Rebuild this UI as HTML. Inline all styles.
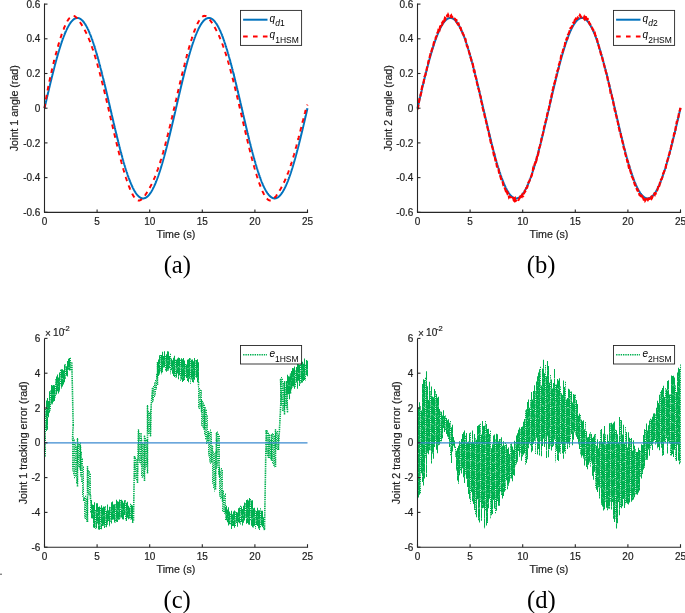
<!DOCTYPE html>
<html><head><meta charset="utf-8"><style>
html,body{margin:0;padding:0;background:#fff;width:685px;height:613px;overflow:hidden}
</style></head><body>
<svg width="685" height="613" viewBox="0 0 685 613" style="position:absolute;left:0;top:0;will-change:transform">
<style>
.tk{font-family:'Liberation Sans',sans-serif;font-size:10px;fill:#1e1e1e;stroke:#1e1e1e;stroke-width:0.2px}
.lb{font-family:'Liberation Sans',sans-serif;font-size:10.7px;fill:#1e1e1e;stroke:#1e1e1e;stroke-width:0.2px}
.sl{font-family:'Liberation Serif',serif;font-size:24.6px;fill:#000}
.lg{font-family:'Liberation Sans',sans-serif;font-size:10px;fill:#000}
.lgi{font-style:italic}
.sub{font-size:8.5px}
</style>
<path d="M44.50,108.20 44.61,107.75 44.71,107.29 44.82,106.84 44.92,106.39 45.03,105.93 45.13,105.48 45.24,105.02 45.34,104.57 45.45,104.12 45.55,103.67 45.66,103.21 45.76,102.76 45.87,102.31 45.97,101.85 46.08,101.40 46.18,100.95 46.29,100.50 46.39,100.04 46.50,99.59 46.60,99.14 46.71,98.69 46.82,98.24 46.92,97.79 47.03,97.34 47.13,96.89 47.24,96.44 47.34,95.99 47.45,95.54 47.55,95.09 47.66,94.64 47.76,94.19 47.87,93.74 47.97,93.30 48.08,92.85 48.18,92.40 48.29,91.96 48.39,91.51 48.50,91.07 48.60,90.62 48.71,90.18 48.81,89.73 48.92,89.29 49.03,88.84 49.13,88.40 49.24,87.96 49.34,87.52 49.45,87.08 49.55,86.63 49.66,86.19 49.76,85.75 49.87,85.32 49.97,84.88 50.08,84.44 50.18,84.00 50.29,83.56 50.39,83.13 50.50,82.69 50.60,82.26 50.71,81.82 50.81,81.39 50.92,80.96 51.03,80.53 51.13,80.09 51.24,79.66 51.34,79.23 51.45,78.80 51.55,78.38 51.66,77.95 51.76,77.52 51.87,77.09 51.97,76.67 52.08,76.24 52.18,75.82 52.29,75.40 52.39,74.98 52.50,74.55 52.60,74.13 52.71,73.71 52.81,73.29 52.92,72.88 53.02,72.46 53.13,72.04 53.24,71.63 53.34,71.21 53.45,70.80 53.55,70.39 53.66,69.98 53.76,69.57 53.87,69.16 53.97,68.75 54.08,68.34 54.18,67.93 54.29,67.53 54.39,67.12 54.50,66.72 54.60,66.32 54.71,65.92 54.81,65.52 54.92,65.12 55.02,64.72 55.13,64.32 55.23,63.93 55.34,63.53 55.45,63.14 55.55,62.75 55.66,62.36 55.76,61.97 55.87,61.58 55.97,61.19 56.08,60.80 56.18,60.42 56.29,60.03 56.39,59.65 56.50,59.27 56.60,58.89 56.71,58.51 56.81,58.13 56.92,57.75 57.02,57.38 57.13,57.00 57.23,56.63 57.34,56.26 57.44,55.89 57.55,55.52 57.66,55.15 57.76,54.79 57.87,54.42 57.97,54.06 58.08,53.69 58.18,53.33 58.29,52.97 58.39,52.62 58.50,52.26 58.60,51.90 58.71,51.55 58.81,51.20 58.92,50.85 59.02,50.50 59.13,50.15 59.23,49.80 59.34,49.46 59.44,49.11 59.55,48.77 59.65,48.43 59.76,48.09 59.87,47.76 59.97,47.42 60.08,47.08 60.18,46.75 60.29,46.42 60.39,46.09 60.50,45.76 60.60,45.44 60.71,45.11 60.81,44.79 60.92,44.47 61.02,44.14 61.13,43.83 61.23,43.51 61.34,43.19 61.44,42.88 61.55,42.57 61.65,42.26 61.76,41.95 61.86,41.64 61.97,41.34 62.08,41.03 62.18,40.73 62.29,40.43 62.39,40.13 62.50,39.83 62.60,39.54 62.71,39.25 62.81,38.95 62.92,38.66 63.02,38.38 63.13,38.09 63.23,37.80 63.34,37.52 63.44,37.24 63.55,36.96 63.65,36.68 63.76,36.41 63.86,36.13 63.97,35.86 64.08,35.59 64.18,35.32 64.29,35.06 64.39,34.79 64.50,34.53 64.60,34.27 64.71,34.01 64.81,33.75 64.92,33.50 65.02,33.24 65.13,32.99 65.23,32.74 65.34,32.50 65.44,32.25 65.55,32.01 65.65,31.76 65.76,31.52 65.86,31.29 65.97,31.05 66.07,30.81 66.18,30.58 66.29,30.35 66.39,30.12 66.50,29.90 66.60,29.67 66.71,29.45 66.81,29.23 66.92,29.01 67.02,28.80 67.13,28.58 67.23,28.37 67.34,28.16 67.44,27.95 67.55,27.74 67.65,27.54 67.76,27.34 67.86,27.14 67.97,26.94 68.07,26.74 68.18,26.55 68.28,26.36 68.39,26.17 68.50,25.98 68.60,25.79 68.71,25.61 68.81,25.43 68.92,25.25 69.02,25.07 69.13,24.90 69.23,24.72 69.34,24.55 69.44,24.38 69.55,24.22 69.65,24.05 69.76,23.89 69.86,23.73 69.97,23.57 70.07,23.41 70.18,23.26 70.28,23.11 70.39,22.96 70.49,22.81 70.60,22.67 70.71,22.52 70.81,22.38 70.92,22.24 71.02,22.11 71.13,21.97 71.23,21.84 71.34,21.71 71.44,21.58 71.55,21.46 71.65,21.33 71.76,21.21 71.86,21.09 71.97,20.97 72.07,20.86 72.18,20.75 72.28,20.64 72.39,20.53 72.49,20.42 72.60,20.32 72.70,20.22 72.81,20.12 72.92,20.02 73.02,19.93 73.13,19.83 73.23,19.74 73.34,19.65 73.44,19.57 73.55,19.49 73.65,19.40 73.76,19.32 73.86,19.25 73.97,19.17 74.07,19.10 74.18,19.03 74.28,18.96 74.39,18.90 74.49,18.83 74.60,18.77 74.70,18.71 74.81,18.66 74.91,18.60 75.02,18.55 75.13,18.50 75.23,18.45 75.34,18.41 75.44,18.36 75.55,18.32 75.65,18.29 75.76,18.25 75.86,18.22 75.97,18.18 76.07,18.15 76.18,18.13 76.28,18.10 76.39,18.08 76.49,18.06 76.60,18.04 76.70,18.03 76.81,18.01 76.91,18.00 77.02,17.99 77.13,17.99 77.23,17.98 77.34,17.98 77.44,17.98 77.55,17.98 77.65,17.99 77.76,17.99 77.86,18.00 77.97,18.02 78.07,18.03 78.18,18.05 78.28,18.06 78.39,18.09 78.49,18.11 78.60,18.13 78.70,18.16 78.81,18.19 78.91,18.22 79.02,18.26 79.12,18.30 79.23,18.33 79.34,18.38 79.44,18.42 79.55,18.46 79.65,18.51 79.76,18.56 79.86,18.62 79.97,18.67 80.07,18.73 80.18,18.79 80.28,18.85 80.39,18.91 80.49,18.98 80.60,19.05 80.70,19.12 80.81,19.19 80.91,19.27 81.02,19.34 81.12,19.42 81.23,19.51 81.33,19.59 81.44,19.68 81.55,19.77 81.65,19.86 81.76,19.95 81.86,20.04 81.97,20.14 82.07,20.24 82.18,20.34 82.28,20.45 82.39,20.55 82.49,20.66 82.60,20.77 82.70,20.89 82.81,21.00 82.91,21.12 83.02,21.24 83.12,21.36 83.23,21.49 83.33,21.61 83.44,21.74 83.54,21.87 83.65,22.00 83.76,22.14 83.86,22.28 83.97,22.42 84.07,22.56 84.18,22.70 84.28,22.85 84.39,23.00 84.49,23.15 84.60,23.30 84.70,23.45 84.81,23.61 84.91,23.77 85.02,23.93 85.12,24.09 85.23,24.26 85.33,24.43 85.44,24.59 85.54,24.77 85.65,24.94 85.75,25.12 85.86,25.29 85.97,25.47 86.07,25.66 86.18,25.84 86.28,26.03 86.39,26.21 86.49,26.40 86.60,26.60 86.70,26.79 86.81,26.99 86.91,27.19 87.02,27.39 87.12,27.59 87.23,27.80 87.33,28.00 87.44,28.21 87.54,28.42 87.65,28.63 87.75,28.85 87.86,29.07 87.96,29.29 88.07,29.51 88.18,29.73 88.28,29.95 88.39,30.18 88.49,30.41 88.60,30.64 88.70,30.87 88.81,31.11 88.91,31.34 89.02,31.58 89.12,31.82 89.23,32.07 89.33,32.31 89.44,32.56 89.54,32.80 89.65,33.06 89.75,33.31 89.86,33.56 89.96,33.82 90.07,34.07 90.18,34.33 90.28,34.60 90.39,34.86 90.49,35.12 90.60,35.39 90.70,35.66 90.81,35.93 90.91,36.20 91.02,36.48 91.12,36.75 91.23,37.03 91.33,37.31 91.44,37.59 91.54,37.88 91.65,38.16 91.75,38.45 91.86,38.74 91.96,39.03 92.07,39.32 92.17,39.61 92.28,39.91 92.39,40.21 92.49,40.50 92.60,40.81 92.70,41.11 92.81,41.41 92.91,41.72 93.02,42.03 93.12,42.33 93.23,42.65 93.33,42.96 93.44,43.27 93.54,43.59 93.65,43.91 93.75,44.22 93.86,44.55 93.96,44.87 94.07,45.19 94.17,45.52 94.28,45.84 94.38,46.17 94.49,46.50 94.60,46.83 94.70,47.17 94.81,47.50 94.91,47.84 95.02,48.18 95.12,48.52 95.23,48.86 95.33,49.20 95.44,49.54 95.54,49.89 95.65,50.24 95.75,50.59 95.86,50.93 95.96,51.29 96.07,51.64 96.17,51.99 96.28,52.35 96.38,52.71 96.49,53.06 96.59,53.42 96.70,53.79 96.81,54.15 96.91,54.51 97.02,54.88 97.12,55.24 97.23,55.61 97.33,55.98 97.44,56.35 97.54,56.72 97.65,57.10 97.75,57.47 97.86,57.85 97.96,58.22 98.07,58.60 98.17,58.98 98.28,59.36 98.38,59.74 98.49,60.13 98.59,60.51 98.70,60.90 98.80,61.29 98.91,61.67 99.02,62.06 99.12,62.45 99.23,62.84 99.33,63.24 99.44,63.63 99.54,64.03 99.65,64.42 99.75,64.82 99.86,65.22 99.96,65.62 100.07,66.02 100.17,66.42 100.28,66.82 100.38,67.23 100.49,67.63 100.59,68.04 100.70,68.44 100.80,68.85 100.91,69.26 101.02,69.67 101.12,70.08 101.23,70.49 101.33,70.90 101.44,71.32 101.54,71.73 101.65,72.15 101.75,72.56 101.86,72.98 101.96,73.40 102.07,73.82 102.17,74.24 102.28,74.66 102.38,75.08 102.49,75.50 102.59,75.93 102.70,76.35 102.80,76.78 102.91,77.20 103.01,77.63 103.12,78.05 103.23,78.48 103.33,78.91 103.44,79.34 103.54,79.77 103.65,80.20 103.75,80.63 103.86,81.07 103.96,81.50 104.07,81.93 104.17,82.37 104.28,82.80 104.38,83.24 104.49,83.67 104.59,84.11 104.70,84.55 104.80,84.99 104.91,85.43 105.01,85.86 105.12,86.30 105.22,86.74 105.33,87.19 105.44,87.63 105.54,88.07 105.65,88.51 105.75,88.95 105.86,89.40 105.96,89.84 106.07,90.29 106.17,90.73 106.28,91.18 106.38,91.62 106.49,92.07 106.59,92.51 106.70,92.96 106.80,93.41 106.91,93.86 107.01,94.30 107.12,94.75 107.22,95.20 107.33,95.65 107.43,96.10 107.54,96.55 107.65,97.00 107.75,97.45 107.86,97.90 107.96,98.35 108.07,98.80 108.17,99.25 108.28,99.71 108.38,100.16 108.49,100.61 108.59,101.06 108.70,101.51 108.80,101.97 108.91,102.42 109.01,102.87 109.12,103.33 109.22,103.78 109.33,104.23 109.43,104.68 109.54,105.14 109.64,105.59 109.75,106.05 109.86,106.50 109.96,106.95 110.07,107.41 110.17,107.86 110.28,108.31 110.38,108.77 110.49,109.22 110.59,109.67 110.70,110.13 110.80,110.58 110.91,111.04 111.01,111.49 111.12,111.94 111.22,112.39 111.33,112.85 111.43,113.30 111.54,113.75 111.64,114.21 111.75,114.66 111.85,115.11 111.96,115.56 112.07,116.02 112.17,116.47 112.28,116.92 112.38,117.37 112.49,117.82 112.59,118.27 112.70,118.72 112.80,119.17 112.91,119.62 113.01,120.07 113.12,120.52 113.22,120.97 113.33,121.42 113.43,121.87 113.54,122.32 113.64,122.77 113.75,123.21 113.85,123.66 113.96,124.11 114.07,124.55 114.17,125.00 114.28,125.45 114.38,125.89 114.49,126.34 114.59,126.78 114.70,127.22 114.80,127.67 114.91,128.11 115.01,128.55 115.12,128.99 115.22,129.44 115.33,129.88 115.43,130.32 115.54,130.76 115.64,131.19 115.75,131.63 115.85,132.07 115.96,132.51 116.06,132.94 116.17,133.38 116.28,133.82 116.38,134.25 116.49,134.68 116.59,135.12 116.70,135.55 116.80,135.98 116.91,136.41 117.01,136.84 117.12,137.27 117.22,137.70 117.33,138.13 117.43,138.56 117.54,138.99 117.64,139.41 117.75,139.84 117.85,140.26 117.96,140.69 118.06,141.11 118.17,141.53 118.27,141.95 118.38,142.37 118.49,142.79 118.59,143.21 118.70,143.63 118.80,144.04 118.91,144.46 119.01,144.88 119.12,145.29 119.22,145.70 119.33,146.11 119.43,146.53 119.54,146.94 119.64,147.34 119.75,147.75 119.85,148.16 119.96,148.57 120.06,148.97 120.17,149.38 120.27,149.78 120.38,150.18 120.48,150.58 120.59,150.98 120.70,151.38 120.80,151.78 120.91,152.18 121.01,152.57 121.12,152.97 121.22,153.36 121.33,153.75 121.43,154.14 121.54,154.53 121.64,154.92 121.75,155.31 121.85,155.69 121.96,156.08 122.06,156.46 122.17,156.85 122.27,157.23 122.38,157.61 122.48,157.99 122.59,158.36 122.69,158.74 122.80,159.12 122.91,159.49 123.01,159.86 123.12,160.23 123.22,160.60 123.33,160.97 123.43,161.34 123.54,161.71 123.64,162.07 123.75,162.43 123.85,162.80 123.96,163.16 124.06,163.52 124.17,163.87 124.27,164.23 124.38,164.58 124.48,164.94 124.59,165.29 124.69,165.64 124.80,165.99 124.90,166.34 125.01,166.68 125.12,167.03 125.22,167.37 125.33,167.71 125.43,168.05 125.54,168.39 125.64,168.73 125.75,169.06 125.85,169.40 125.96,169.73 126.06,170.06 126.17,170.39 126.27,170.72 126.38,171.05 126.48,171.37 126.59,171.69 126.69,172.02 126.80,172.34 126.90,172.65 127.01,172.97 127.12,173.29 127.22,173.60 127.33,173.91 127.43,174.22 127.54,174.53 127.64,174.84 127.75,175.14 127.85,175.44 127.96,175.75 128.06,176.05 128.17,176.34 128.27,176.64 128.38,176.93 128.48,177.23 128.59,177.52 128.69,177.81 128.80,178.10 128.90,178.38 129.01,178.67 129.11,178.95 129.22,179.23 129.33,179.51 129.43,179.78 129.54,180.06 129.64,180.33 129.75,180.61 129.85,180.87 129.96,181.14 130.06,181.41 130.17,181.67 130.27,181.94 130.38,182.20 130.48,182.45 130.59,182.71 130.69,182.97 130.80,183.22 130.90,183.47 131.01,183.72 131.11,183.97 131.22,184.21 131.32,184.46 131.43,184.70 131.54,184.94 131.64,185.17 131.75,185.41 131.85,185.64 131.96,185.88 132.06,186.10 132.17,186.33 132.27,186.56 132.38,186.78 132.48,187.00 132.59,187.22 132.69,187.44 132.80,187.66 132.90,187.87 133.01,188.08 133.11,188.29 133.22,188.50 133.32,188.71 133.43,188.91 133.53,189.11 133.64,189.31 133.75,189.51 133.85,189.71 133.96,189.90 134.06,190.09 134.17,190.28 134.27,190.47 134.38,190.65 134.48,190.84 134.59,191.02 134.69,191.20 134.80,191.37 134.90,191.55 135.01,191.72 135.11,191.89 135.22,192.06 135.32,192.22 135.43,192.39 135.53,192.55 135.64,192.71 135.74,192.87 135.85,193.02 135.96,193.18 136.06,193.33 136.17,193.48 136.27,193.63 136.38,193.77 136.48,193.91 136.59,194.05 136.69,194.19 136.80,194.33 136.90,194.46 137.01,194.59 137.11,194.72 137.22,194.85 137.32,194.98 137.43,195.10 137.53,195.22 137.64,195.34 137.74,195.45 137.85,195.57 137.95,195.68 138.06,195.79 138.17,195.90 138.27,196.00 138.38,196.11 138.48,196.21 138.59,196.31 138.69,196.40 138.80,196.50 138.90,196.59 139.01,196.68 139.11,196.77 139.22,196.85 139.32,196.94 139.43,197.02 139.53,197.09 139.64,197.17 139.74,197.25 139.85,197.32 139.95,197.39 140.06,197.45 140.17,197.52 140.27,197.58 140.38,197.64 140.48,197.70 140.59,197.76 140.69,197.81 140.80,197.86 140.90,197.91 141.01,197.96 141.11,198.00 141.22,198.05 141.32,198.09 141.43,198.12 141.53,198.16 141.64,198.19 141.74,198.22 141.85,198.25 141.95,198.28 142.06,198.30 142.16,198.33 142.27,198.34 142.38,198.36 142.48,198.38 142.59,198.39 142.69,198.40 142.80,198.41 142.90,198.41 143.01,198.42 143.11,198.42 143.22,198.42 143.32,198.42 143.43,198.41 143.53,198.40 143.64,198.39 143.74,198.38 143.85,198.37 143.95,198.35 144.06,198.33 144.16,198.31 144.27,198.29 144.37,198.26 144.48,198.23 144.59,198.20 144.69,198.17 144.80,198.13 144.90,198.10 145.01,198.06 145.11,198.01 145.22,197.97 145.32,197.92 145.43,197.87 145.53,197.82 145.64,197.77 145.74,197.72 145.85,197.66 145.95,197.60 146.06,197.54 146.16,197.47 146.27,197.40 146.37,197.33 146.48,197.26 146.58,197.19 146.69,197.11 146.80,197.04 146.90,196.96 147.01,196.87 147.11,196.79 147.22,196.70 147.32,196.61 147.43,196.52 147.53,196.43 147.64,196.33 147.74,196.23 147.85,196.13 147.95,196.03 148.06,195.93 148.16,195.82 148.27,195.71 148.37,195.60 148.48,195.48 148.58,195.37 148.69,195.25 148.79,195.13 148.90,195.01 149.01,194.88 149.11,194.76 149.22,194.63 149.32,194.49 149.43,194.36 149.53,194.23 149.64,194.09 149.74,193.95 149.85,193.81 149.95,193.66 150.06,193.52 150.16,193.37 150.27,193.22 150.37,193.06 150.48,192.91 150.58,192.75 150.69,192.59 150.79,192.43 150.90,192.27 151.01,192.10 151.11,191.93 151.22,191.76 151.32,191.59 151.43,191.42 151.53,191.24 151.64,191.06 151.74,190.88 151.85,190.70 151.95,190.51 152.06,190.33 152.16,190.14 152.27,189.95 152.37,189.75 152.48,189.56 152.58,189.36 152.69,189.16 152.79,188.96 152.90,188.76 153.00,188.55 153.11,188.35 153.22,188.14 153.32,187.93 153.43,187.71 153.53,187.50 153.64,187.28 153.74,187.06 153.85,186.84 153.95,186.61 154.06,186.39 154.16,186.16 154.27,185.93 154.37,185.70 154.48,185.47 154.58,185.23 154.69,185.00 154.79,184.76 154.90,184.52 155.00,184.27 155.11,184.03 155.21,183.78 155.32,183.53 155.43,183.28 155.53,183.03 155.64,182.78 155.74,182.52 155.85,182.26 155.95,182.00 156.06,181.74 156.16,181.48 156.27,181.21 156.37,180.94 156.48,180.67 156.58,180.40 156.69,180.13 156.79,179.85 156.90,179.58 157.00,179.30 157.11,179.02 157.21,178.74 157.32,178.45 157.42,178.17 157.53,177.88 157.64,177.59 157.74,177.30 157.85,177.01 157.95,176.71 158.06,176.42 158.16,176.12 158.27,175.82 158.37,175.52 158.48,175.22 158.58,174.91 158.69,174.61 158.79,174.30 158.90,173.99 159.00,173.68 159.11,173.36 159.21,173.05 159.32,172.73 159.42,172.41 159.53,172.10 159.63,171.77 159.74,171.45 159.85,171.13 159.95,170.80 160.06,170.47 160.16,170.14 160.27,169.81 160.37,169.48 160.48,169.15 160.58,168.81 160.69,168.48 160.79,168.14 160.90,167.80 161.00,167.46 161.11,167.11 161.21,166.77 161.32,166.42 161.42,166.08 161.53,165.73 161.63,165.38 161.74,165.03 161.84,164.67 161.95,164.32 162.06,163.96 162.16,163.60 162.27,163.25 162.37,162.89 162.48,162.52 162.58,162.16 162.69,161.80 162.79,161.43 162.90,161.06 163.00,160.70 163.11,160.33 163.21,159.96 163.32,159.58 163.42,159.21 163.53,158.84 163.63,158.46 163.74,158.08 163.84,157.70 163.95,157.32 164.06,156.94 164.16,156.56 164.27,156.18 164.37,155.79 164.48,155.41 164.58,155.02 164.69,154.63 164.79,154.24 164.90,153.85 165.00,153.46 165.11,153.06 165.21,152.67 165.32,152.27 165.42,151.88 165.53,151.48 165.63,151.08 165.74,150.68 165.84,150.28 165.95,149.88 166.05,149.48 166.16,149.07 166.27,148.67 166.37,148.26 166.48,147.86 166.58,147.45 166.69,147.04 166.79,146.63 166.90,146.22 167.00,145.81 167.11,145.39 167.21,144.98 167.32,144.56 167.42,144.15 167.53,143.73 167.63,143.31 167.74,142.90 167.84,142.48 167.95,142.06 168.05,141.64 168.16,141.21 168.26,140.79 168.37,140.37 168.48,139.94 168.58,139.52 168.69,139.09 168.79,138.67 168.90,138.24 169.00,137.81 169.11,137.38 169.21,136.95 169.32,136.52 169.42,136.09 169.53,135.66 169.63,135.23 169.74,134.79 169.84,134.36 169.95,133.92 170.05,133.49 170.16,133.05 170.26,132.62 170.37,132.18 170.47,131.74 170.58,131.30 170.69,130.87 170.79,130.43 170.90,129.99 171.00,129.55 171.11,129.10 171.21,128.66 171.32,128.22 171.42,127.78 171.53,127.33 171.63,126.89 171.74,126.45 171.84,126.00 171.95,125.56 172.05,125.11 172.16,124.67 172.26,124.22 172.37,123.77 172.47,123.33 172.58,122.88 172.68,122.43 172.79,121.98 172.90,121.53 173.00,121.09 173.11,120.64 173.21,120.19 173.32,119.74 173.42,119.29 173.53,118.84 173.63,118.39 173.74,117.94 173.84,117.48 173.95,117.03 174.05,116.58 174.16,116.13 174.26,115.68 174.37,115.22 174.47,114.77 174.58,114.32 174.68,113.87 174.79,113.41 174.89,112.96 175.00,112.51 175.11,112.06 175.21,111.60 175.32,111.15 175.42,110.69 175.53,110.24 175.63,109.79 175.74,109.33 175.84,108.88 175.95,108.43 176.05,107.97 176.16,107.52 176.26,107.07 176.37,106.61 176.47,106.16 176.58,105.71 176.68,105.25 176.79,104.80 176.89,104.34 177.00,103.89 177.11,103.44 177.21,102.99 177.32,102.53 177.42,102.08 177.53,101.63 177.63,101.18 177.74,100.72 177.84,100.27 177.95,99.82 178.05,99.37 178.16,98.92 178.26,98.46 178.37,98.01 178.47,97.56 178.58,97.11 178.68,96.66 178.79,96.21 178.89,95.76 179.00,95.31 179.10,94.87 179.21,94.42 179.32,93.97 179.42,93.52 179.53,93.07 179.63,92.63 179.74,92.18 179.84,91.73 179.95,91.29 180.05,90.84 180.16,90.40 180.26,89.95 180.37,89.51 180.47,89.07 180.58,88.62 180.68,88.18 180.79,87.74 180.89,87.30 181.00,86.85 181.10,86.41 181.21,85.97 181.31,85.53 181.42,85.10 181.53,84.66 181.63,84.22 181.74,83.78 181.84,83.35 181.95,82.91 182.05,82.48 182.16,82.04 182.26,81.61 182.37,81.17 182.47,80.74 182.58,80.31 182.68,79.88 182.79,79.45 182.89,79.02 183.00,78.59 183.10,78.16 183.21,77.73 183.31,77.31 183.42,76.88 183.52,76.46 183.63,76.03 183.74,75.61 183.84,75.19 183.95,74.76 184.05,74.34 184.16,73.92 184.26,73.50 184.37,73.09 184.47,72.67 184.58,72.25 184.68,71.84 184.79,71.42 184.89,71.01 185.00,70.59 185.10,70.18 185.21,69.77 185.31,69.36 185.42,68.95 185.52,68.54 185.63,68.14 185.73,67.73 185.84,67.33 185.95,66.92 186.05,66.52 186.16,66.12 186.26,65.72 186.37,65.32 186.47,64.92 186.58,64.52 186.68,64.13 186.79,63.73 186.89,63.34 187.00,62.94 187.10,62.55 187.21,62.16 187.31,61.77 187.42,61.38 187.52,60.99 187.63,60.61 187.73,60.22 187.84,59.84 187.94,59.46 188.05,59.08 188.16,58.70 188.26,58.32 188.37,57.94 188.47,57.56 188.58,57.19 188.68,56.82 188.79,56.44 188.89,56.07 189.00,55.70 189.10,55.34 189.21,54.97 189.31,54.60 189.42,54.24 189.52,53.88 189.63,53.51 189.73,53.15 189.84,52.80 189.94,52.44 190.05,52.08 190.16,51.73 190.26,51.37 190.37,51.02 190.47,50.67 190.58,50.32 190.68,49.98 190.79,49.63 190.89,49.29 191.00,48.94 191.10,48.60 191.21,48.26 191.31,47.92 191.42,47.59 191.52,47.25 191.63,46.92 191.73,46.59 191.84,46.26 191.94,45.93 192.05,45.60 192.15,45.27 192.26,44.95 192.37,44.63 192.47,44.30 192.58,43.99 192.68,43.67 192.79,43.35 192.89,43.04 193.00,42.72 193.10,42.41 193.21,42.10 193.31,41.79 193.42,41.49 193.52,41.18 193.63,40.88 193.73,40.58 193.84,40.28 193.94,39.98 194.05,39.69 194.15,39.39 194.26,39.10 194.36,38.81 194.47,38.52 194.58,38.23 194.68,37.95 194.79,37.66 194.89,37.38 195.00,37.10 195.10,36.82 195.21,36.55 195.31,36.27 195.42,36.00 195.52,35.73 195.63,35.46 195.73,35.19 195.84,34.92 195.94,34.66 196.05,34.40 196.15,34.14 196.26,33.88 196.36,33.62 196.47,33.37 196.57,33.12 196.68,32.87 196.79,32.62 196.89,32.37 197.00,32.13 197.10,31.88 197.21,31.64 197.31,31.40 197.42,31.17 197.52,30.93 197.63,30.70 197.73,30.47 197.84,30.24 197.94,30.01 198.05,29.79 198.15,29.56 198.26,29.34 198.36,29.12 198.47,28.90 198.57,28.69 198.68,28.47 198.78,28.26 198.89,28.05 199.00,27.85 199.10,27.64 199.21,27.44 199.31,27.24 199.42,27.04 199.52,26.84 199.63,26.65 199.73,26.45 199.84,26.26 199.94,26.07 200.05,25.89 200.15,25.70 200.26,25.52 200.36,25.34 200.47,25.16 200.57,24.98 200.68,24.81 200.78,24.64 200.89,24.47 200.99,24.30 201.10,24.13 201.21,23.97 201.31,23.81 201.42,23.65 201.52,23.49 201.63,23.34 201.73,23.18 201.84,23.03 201.94,22.88 202.05,22.74 202.15,22.59 202.26,22.45 202.36,22.31 202.47,22.17 202.57,22.04 202.68,21.91 202.78,21.77 202.89,21.64 202.99,21.52 203.10,21.39 203.21,21.27 203.31,21.15 203.42,21.03 203.52,20.92 203.63,20.80 203.73,20.69 203.84,20.58 203.94,20.47 204.05,20.37 204.15,20.27 204.26,20.17 204.36,20.07 204.47,19.97 204.57,19.88 204.68,19.79 204.78,19.70 204.89,19.61 204.99,19.53 205.10,19.44 205.20,19.36 205.31,19.29 205.42,19.21 205.52,19.14 205.63,19.07 205.73,19.00 205.84,18.93 205.94,18.86 206.05,18.80 206.15,18.74 206.26,18.68 206.36,18.63 206.47,18.58 206.57,18.53 206.68,18.48 206.78,18.43 206.89,18.39 206.99,18.34 207.10,18.30 207.20,18.27 207.31,18.23 207.41,18.20 207.52,18.17 207.63,18.14 207.73,18.11 207.84,18.09 207.94,18.07 208.05,18.05 208.15,18.03 208.26,18.02 208.36,18.01 208.47,18.00 208.57,17.99 208.68,17.98 208.78,17.98 208.89,17.98 208.99,17.98 209.10,17.99 209.20,17.99 209.31,18.00 209.41,18.01 209.52,18.02 209.62,18.04 209.73,18.06 209.84,18.07 209.94,18.10 210.05,18.12 210.15,18.15 210.26,18.18 210.36,18.21 210.47,18.24 210.57,18.28 210.68,18.31 210.78,18.35 210.89,18.40 210.99,18.44 211.10,18.49 211.20,18.54 211.31,18.59 211.41,18.64 211.52,18.70 211.62,18.76 211.73,18.82 211.83,18.88 211.94,18.95 212.05,19.01 212.15,19.08 212.26,19.15 212.36,19.23 212.47,19.31 212.57,19.38 212.68,19.46 212.78,19.55 212.89,19.63 212.99,19.72 213.10,19.81 213.20,19.90 213.31,20.00 213.41,20.09 213.52,20.19 213.62,20.29 213.73,20.40 213.83,20.50 213.94,20.61 214.05,20.72 214.15,20.83 214.26,20.95 214.36,21.06 214.47,21.18 214.57,21.30 214.68,21.42 214.78,21.55 214.89,21.68 214.99,21.81 215.10,21.94 215.20,22.07 215.31,22.21 215.41,22.35 215.52,22.49 215.62,22.63 215.73,22.77 215.83,22.92 215.94,23.07 216.04,23.22 216.15,23.38 216.26,23.53 216.36,23.69 216.47,23.85 216.57,24.01 216.68,24.18 216.78,24.34 216.89,24.51 216.99,24.68 217.10,24.85 217.20,25.03 217.31,25.20 217.41,25.38 217.52,25.56 217.62,25.75 217.73,25.93 217.83,26.12 217.94,26.31 218.04,26.50 218.15,26.69 218.25,26.89 218.36,27.09 218.47,27.29 218.57,27.49 218.68,27.69 218.78,27.90 218.89,28.11 218.99,28.32 219.10,28.53 219.20,28.74 219.31,28.96 219.41,29.18 219.52,29.40 219.62,29.62 219.73,29.84 219.83,30.07 219.94,30.30 220.04,30.52 220.15,30.76 220.25,30.99 220.36,31.23 220.46,31.46 220.57,31.70 220.68,31.94 220.78,32.19 220.89,32.43 220.99,32.68 221.10,32.93 221.20,33.18 221.31,33.43 221.41,33.69 221.52,33.95 221.62,34.20 221.73,34.46 221.83,34.73 221.94,34.99 222.04,35.26 222.15,35.53 222.25,35.79 222.36,36.07 222.46,36.34 222.57,36.62 222.67,36.89 222.78,37.17 222.89,37.45 222.99,37.73 223.10,38.02 223.20,38.30 223.31,38.59 223.41,38.88 223.52,39.17 223.62,39.47 223.73,39.76 223.83,40.06 223.94,40.35 224.04,40.65 224.15,40.96 224.25,41.26 224.36,41.56 224.46,41.87 224.57,42.18 224.67,42.49 224.78,42.80 224.88,43.11 224.99,43.43 225.10,43.75 225.20,44.06 225.31,44.38 225.41,44.71 225.52,45.03 225.62,45.35 225.73,45.68 225.83,46.01 225.94,46.34 226.04,46.67 226.15,47.00 226.25,47.34 226.36,47.67 226.46,48.01 226.57,48.35 226.67,48.69 226.78,49.03 226.88,49.37 226.99,49.72 227.10,50.06 227.20,50.41 227.31,50.76 227.41,51.11 227.52,51.46 227.62,51.82 227.73,52.17 227.83,52.53 227.94,52.88 228.04,53.24 228.15,53.60 228.25,53.97 228.36,54.33 228.46,54.69 228.57,55.06 228.67,55.43 228.78,55.80 228.88,56.17 228.99,56.54 229.09,56.91 229.20,57.28 229.31,57.66 229.41,58.04 229.52,58.41 229.62,58.79 229.73,59.17 229.83,59.55 229.94,59.94 230.04,60.32 230.15,60.71 230.25,61.09 230.36,61.48 230.46,61.87 230.57,62.26 230.67,62.65 230.78,63.04 230.88,63.43 230.99,63.83 231.09,64.22 231.20,64.62 231.30,65.02 231.41,65.42 231.52,65.82 231.62,66.22 231.73,66.62 231.83,67.02 231.94,67.43 232.04,67.83 232.15,68.24 232.25,68.65 232.36,69.06 232.46,69.46 232.57,69.87 232.67,70.29 232.78,70.70 232.88,71.11 232.99,71.52 233.09,71.94 233.20,72.36 233.30,72.77 233.41,73.19 233.51,73.61 233.62,74.03 233.73,74.45 233.83,74.87 233.94,75.29 234.04,75.71 234.15,76.14 234.25,76.56 234.36,76.99 234.46,77.41 234.57,77.84 234.67,78.27 234.78,78.70 234.88,79.13 234.99,79.56 235.09,79.99 235.20,80.42 235.30,80.85 235.41,81.28 235.51,81.72 235.62,82.15 235.72,82.58 235.83,83.02 235.94,83.46 236.04,83.89 236.15,84.33 236.25,84.77 236.36,85.21 236.46,85.64 236.57,86.08 236.67,86.52 236.78,86.96 236.88,87.41 236.99,87.85 237.09,88.29 237.20,88.73 237.30,89.18 237.41,89.62 237.51,90.06 237.62,90.51 237.72,90.95 237.83,91.40 237.93,91.85 238.04,92.29 238.15,92.74 238.25,93.19 238.36,93.63 238.46,94.08 238.57,94.53 238.67,94.98 238.78,95.43 238.88,95.88 238.99,96.33 239.09,96.78 239.20,97.23 239.30,97.68 239.41,98.13 239.51,98.58 239.62,99.03 239.72,99.48 239.83,99.93 239.93,100.38 240.04,100.84 240.15,101.29 240.25,101.74 240.36,102.19 240.46,102.65 240.57,103.10 240.67,103.55 240.78,104.01 240.88,104.46 240.99,104.91 241.09,105.36 241.20,105.82 241.30,106.27 241.41,106.73 241.51,107.18 241.62,107.63 241.72,108.09 241.83,108.54 241.93,108.99 242.04,109.45 242.14,109.90 242.25,110.35 242.36,110.81 242.46,111.26 242.57,111.72 242.67,112.17 242.78,112.62 242.88,113.07 242.99,113.53 243.09,113.98 243.20,114.43 243.30,114.89 243.41,115.34 243.51,115.79 243.62,116.24 243.72,116.69 243.83,117.15 243.93,117.60 244.04,118.05 244.14,118.50 244.25,118.95 244.35,119.40 244.46,119.85 244.57,120.30 244.67,120.75 244.78,121.20 244.88,121.65 244.99,122.10 245.09,122.54 245.20,122.99 245.30,123.44 245.41,123.89 245.51,124.33 245.62,124.78 245.72,125.22 245.83,125.67 245.93,126.11 246.04,126.56 246.14,127.00 246.25,127.45 246.35,127.89 246.46,128.33 246.56,128.77 246.67,129.21 246.78,129.66 246.88,130.10 246.99,130.54 247.09,130.97 247.20,131.41 247.30,131.85 247.41,132.29 247.51,132.73 247.62,133.16 247.72,133.60 247.83,134.03 247.93,134.47 248.04,134.90 248.14,135.33 248.25,135.77 248.35,136.20 248.46,136.63 248.56,137.06 248.67,137.49 248.77,137.92 248.88,138.35 248.99,138.77 249.09,139.20 249.20,139.62 249.30,140.05 249.41,140.47 249.51,140.90 249.62,141.32 249.72,141.74 249.83,142.16 249.93,142.58 250.04,143.00 250.14,143.42 250.25,143.84 250.35,144.25 250.46,144.67 250.56,145.08 250.67,145.50 250.77,145.91 250.88,146.32 250.98,146.73 251.09,147.14 251.20,147.55 251.30,147.96 251.41,148.36 251.51,148.77 251.62,149.17 251.72,149.58 251.83,149.98 251.93,150.38 252.04,150.78 252.14,151.18 252.25,151.58 252.35,151.98 252.46,152.37 252.56,152.77 252.67,153.16 252.77,153.56 252.88,153.95 252.98,154.34 253.09,154.73 253.20,155.11 253.30,155.50 253.41,155.89 253.51,156.27 253.62,156.66 253.72,157.04 253.83,157.42 253.93,157.80 254.04,158.18 254.14,158.55 254.25,158.93 254.35,159.30 254.46,159.68 254.56,160.05 254.67,160.42 254.77,160.79 254.88,161.16 254.98,161.52 255.09,161.89 255.19,162.25 255.30,162.61 255.41,162.98 255.51,163.34 255.62,163.69 255.72,164.05 255.83,164.41 255.93,164.76 256.04,165.11 256.14,165.47 256.25,165.81 256.35,166.16 256.46,166.51 256.56,166.86 256.67,167.20 256.77,167.54 256.88,167.88 256.98,168.22 257.09,168.56 257.19,168.90 257.30,169.23 257.40,169.57 257.51,169.90 257.62,170.23 257.72,170.56 257.83,170.88 257.93,171.21 258.04,171.53 258.14,171.85 258.25,172.18 258.35,172.49 258.46,172.81 258.56,173.13 258.67,173.44 258.77,173.75 258.88,174.07 258.98,174.37 259.09,174.68 259.19,174.99 259.30,175.29 259.40,175.59 259.51,175.90 259.61,176.19 259.72,176.49 259.83,176.79 259.93,177.08 260.04,177.37 260.14,177.66 260.25,177.95 260.35,178.24 260.46,178.52 260.56,178.81 260.67,179.09 260.77,179.37 260.88,179.65 260.98,179.92 261.09,180.20 261.19,180.47 261.30,180.74 261.40,181.01 261.51,181.28 261.61,181.54 261.72,181.80 261.82,182.07 261.93,182.33 262.04,182.58 262.14,182.84 262.25,183.09 262.35,183.34 262.46,183.60 262.56,183.84 262.67,184.09 262.77,184.33 262.88,184.58 262.98,184.82 263.09,185.06 263.19,185.29 263.30,185.53 263.40,185.76 263.51,185.99 263.61,186.22 263.72,186.45 263.82,186.67 263.93,186.89 264.04,187.11 264.14,187.33 264.25,187.55 264.35,187.77 264.46,187.98 264.56,188.19 264.67,188.40 264.77,188.60 264.88,188.81 264.98,189.01 265.09,189.21 265.19,189.41 265.30,189.61 265.40,189.80 265.51,190.00 265.61,190.19 265.72,190.37 265.82,190.56 265.93,190.74 266.03,190.93 266.14,191.11 266.25,191.28 266.35,191.46 266.46,191.63 266.56,191.81 266.67,191.97 266.77,192.14 266.88,192.31 266.98,192.47 267.09,192.63 267.19,192.79 267.30,192.95 267.40,193.10 267.51,193.25 267.61,193.40 267.72,193.55 267.82,193.70 267.93,193.84 268.03,193.98 268.14,194.12 268.24,194.26 268.35,194.40 268.46,194.53 268.56,194.66 268.67,194.79 268.77,194.91 268.88,195.04 268.98,195.16 269.09,195.28 269.19,195.40 269.30,195.51 269.40,195.63 269.51,195.74 269.61,195.85 269.72,195.95 269.82,196.06 269.93,196.16 270.03,196.26 270.14,196.36 270.24,196.45 270.35,196.54 270.45,196.63 270.56,196.72 270.67,196.81 270.77,196.89 270.88,196.98 270.98,197.06 271.09,197.13 271.19,197.21 271.30,197.28 271.40,197.35 271.51,197.42 271.61,197.49 271.72,197.55 271.82,197.61 271.93,197.67 272.03,197.73 272.14,197.78 272.24,197.84 272.35,197.89 272.45,197.94 272.56,197.98 272.66,198.02 272.77,198.07 272.88,198.10 272.98,198.14 273.09,198.18 273.19,198.21 273.30,198.24 273.40,198.27 273.51,198.29 273.61,198.31 273.72,198.34 273.82,198.35 273.93,198.37 274.03,198.38 274.14,198.40 274.24,198.41 274.35,198.41 274.45,198.42 274.56,198.42 274.66,198.42 274.77,198.42 274.87,198.41 274.98,198.41 275.09,198.40 275.19,198.39 275.30,198.37 275.40,198.36 275.51,198.34 275.61,198.32 275.72,198.30 275.82,198.27 275.93,198.25 276.03,198.22 276.14,198.18 276.24,198.15 276.35,198.11 276.45,198.08 276.56,198.04 276.66,197.99 276.77,197.95 276.87,197.90 276.98,197.85 277.09,197.80 277.19,197.74 277.30,197.69 277.40,197.63 277.51,197.57 277.61,197.50 277.72,197.44 277.82,197.37 277.93,197.30 278.03,197.23 278.14,197.15 278.24,197.08 278.35,197.00 278.45,196.91 278.56,196.83 278.66,196.75 278.77,196.66 278.87,196.57 278.98,196.47 279.08,196.38 279.19,196.28 279.30,196.18 279.40,196.08 279.51,195.98 279.61,195.87 279.72,195.76 279.82,195.65 279.93,195.54 280.03,195.43 280.14,195.31 280.24,195.19 280.35,195.07 280.45,194.94 280.56,194.82 280.66,194.69 280.77,194.56 280.87,194.43 280.98,194.29 281.08,194.16 281.19,194.02 281.29,193.88 281.40,193.73 281.51,193.59 281.61,193.44 281.72,193.29 281.82,193.14 281.93,192.99 282.03,192.83 282.14,192.67 282.24,192.51 282.35,192.35 282.45,192.18 282.56,192.02 282.66,191.85 282.77,191.68 282.87,191.50 282.98,191.33 283.08,191.15 283.19,190.97 283.29,190.79 283.40,190.61 283.50,190.42 283.61,190.23 283.72,190.04 283.82,189.85 283.93,189.66 284.03,189.46 284.14,189.26 284.24,189.06 284.35,188.86 284.45,188.66 284.56,188.45 284.66,188.24 284.77,188.03 284.87,187.82 284.98,187.60 285.08,187.39 285.19,187.17 285.29,186.95 285.40,186.73 285.50,186.50 285.61,186.28 285.71,186.05 285.82,185.82 285.93,185.59 286.03,185.35 286.14,185.11 286.24,184.88 286.35,184.64 286.45,184.39 286.56,184.15 286.66,183.90 286.77,183.66 286.87,183.41 286.98,183.16 287.08,182.90 287.19,182.65 287.29,182.39 287.40,182.13 287.50,181.87 287.61,181.61 287.71,181.34 287.82,181.08 287.92,180.81 288.03,180.54 288.14,180.27 288.24,179.99 288.35,179.72 288.45,179.44 288.56,179.16 288.66,178.88 288.77,178.60 288.87,178.31 288.98,178.02 289.08,177.74 289.19,177.45 289.29,177.15 289.40,176.86 289.50,176.57 289.61,176.27 289.71,175.97 289.82,175.67 289.92,175.37 290.03,175.06 290.14,174.76 290.24,174.45 290.35,174.14 290.45,173.83 290.56,173.52 290.66,173.21 290.77,172.89 290.87,172.57 290.98,172.26 291.08,171.93 291.19,171.61 291.29,171.29 291.40,170.96 291.50,170.64 291.61,170.31 291.71,169.98 291.82,169.65 291.92,169.32 292.03,168.98 292.13,168.64 292.24,168.31 292.35,167.97 292.45,167.63 292.56,167.29 292.66,166.94 292.77,166.60 292.87,166.25 292.98,165.90 293.08,165.55 293.19,165.20 293.29,164.85 293.40,164.50 293.50,164.14 293.61,163.78 293.71,163.43 293.82,163.07 293.92,162.71 294.03,162.34 294.13,161.98 294.24,161.61 294.34,161.25 294.45,160.88 294.56,160.51 294.66,160.14 294.77,159.77 294.87,159.40 294.98,159.02 295.08,158.65 295.19,158.27 295.29,157.89 295.40,157.51 295.50,157.13 295.61,156.75 295.71,156.37 295.82,155.98 295.92,155.60 296.03,155.21 296.13,154.82 296.24,154.43 296.34,154.04 296.45,153.65 296.55,153.26 296.66,152.87 296.77,152.47 296.87,152.08 296.98,151.68 297.08,151.28 297.19,150.88 297.29,150.48 297.40,150.08 297.50,149.68 297.61,149.28 297.71,148.87 297.82,148.47 297.92,148.06 298.03,147.65 298.13,147.24 298.24,146.83 298.34,146.42 298.45,146.01 298.55,145.60 298.66,145.19 298.76,144.77 298.87,144.36 298.98,143.94 299.08,143.52 299.19,143.11 299.29,142.69 299.40,142.27 299.50,141.85 299.61,141.42 299.71,141.00 299.82,140.58 299.92,140.16 300.03,139.73 300.13,139.31 300.24,138.88 300.34,138.45 300.45,138.02 300.55,137.60 300.66,137.17 300.76,136.74 300.87,136.31 300.97,135.87 301.08,135.44 301.19,135.01 301.29,134.58 301.40,134.14 301.50,133.71 301.61,133.27 301.71,132.84 301.82,132.40 301.92,131.96 302.03,131.52 302.13,131.08 302.24,130.65 302.34,130.21 302.45,129.77 302.55,129.32 302.66,128.88 302.76,128.44 302.87,128.00 302.97,127.56 303.08,127.11 303.19,126.67 303.29,126.22 303.40,125.78 303.50,125.33 303.61,124.89 303.71,124.44 303.82,124.00 303.92,123.55 304.03,123.10 304.13,122.66 304.24,122.21 304.34,121.76 304.45,121.31 304.55,120.86 304.66,120.41 304.76,119.96 304.87,119.51 304.97,119.06 305.08,118.61 305.18,118.16 305.29,117.71 305.40,117.26 305.50,116.81 305.61,116.36 305.71,115.90 305.82,115.45 305.92,115.00 306.03,114.55 306.13,114.09 306.24,113.64 306.34,113.19 306.45,112.73 306.55,112.28 306.66,111.83 306.76,111.38 306.87,110.92 306.97,110.47 307.08,110.01 307.18,109.56 307.29,109.11 307.39,108.65 307.50,108.20" fill="none" stroke="#0072bd" stroke-width="2"/>
<path d="M44.50,108.20 44.61,107.52 44.71,106.84 44.82,106.17 44.92,105.51 45.03,104.85 45.13,104.20 45.24,103.55 45.34,102.91 45.45,102.28 45.55,101.65 45.66,101.02 45.76,100.40 45.87,99.79 45.97,99.18 46.08,98.57 46.18,97.97 46.29,97.37 46.39,96.78 46.50,96.19 46.60,95.61 46.71,95.03 46.82,94.45 46.92,93.88 47.03,93.31 47.13,92.75 47.24,92.18 47.34,91.63 47.45,91.07 47.55,90.52 47.66,89.97 47.76,89.43 47.87,88.88 47.97,88.35 48.08,87.81 48.18,87.28 48.29,86.75 48.39,86.22 48.50,85.69 48.60,85.17 48.71,84.65 48.81,84.13 48.92,83.62 49.03,83.11 49.13,82.60 49.24,82.09 49.34,81.59 49.45,81.09 49.55,80.59 49.66,80.09 49.76,79.59 49.87,79.10 49.97,78.61 50.08,78.12 50.18,77.63 50.29,77.15 50.39,76.66 50.50,76.18 50.60,75.70 50.71,75.22 50.81,74.75 50.92,74.28 51.03,73.80 51.13,73.33 51.24,72.87 51.34,72.40 51.45,71.94 51.55,71.47 51.66,71.01 51.76,70.55 51.87,70.10 51.97,69.64 52.08,69.19 52.18,68.73 52.29,68.28 52.39,67.83 52.50,67.39 52.60,66.94 52.71,66.50 52.81,66.05 52.92,65.61 53.02,65.17 53.13,64.74 53.24,64.30 53.34,63.86 53.45,63.43 53.55,63.00 53.66,62.57 53.76,62.14 53.87,61.71 53.97,61.29 54.08,60.87 54.18,60.44 54.29,60.02 54.39,59.60 54.50,59.19 54.60,58.77 54.71,58.35 54.81,57.94 54.92,57.53 55.02,57.12 55.13,56.71 55.23,56.30 55.34,55.90 55.45,55.49 55.55,55.09 55.66,54.69 55.76,54.29 55.87,53.89 55.97,53.50 56.08,53.10 56.18,52.71 56.29,52.32 56.39,51.92 56.50,51.54 56.60,51.15 56.71,50.76 56.81,50.38 56.92,50.00 57.02,49.61 57.13,49.23 57.23,48.86 57.34,48.48 57.44,48.11 57.55,47.73 57.66,47.36 57.76,46.99 57.87,46.62 57.97,46.25 58.08,45.89 58.18,45.53 58.29,45.16 58.39,44.80 58.50,44.44 58.60,44.09 58.71,43.73 58.81,43.38 58.92,43.03 59.02,42.67 59.13,42.33 59.23,41.98 59.34,41.63 59.44,41.29 59.55,40.95 59.65,40.61 59.76,40.27 59.87,39.93 59.97,39.60 60.08,39.26 60.18,38.93 60.29,38.60 60.39,38.27 60.50,37.95 60.60,37.62 60.71,37.30 60.81,36.98 60.92,36.66 61.02,36.34 61.13,36.02 61.23,35.71 61.34,35.40 61.44,35.09 61.55,34.78 61.65,34.48 61.76,34.17 61.86,33.87 61.97,33.57 62.08,33.27 62.18,32.97 62.29,32.68 62.39,32.39 62.50,32.10 62.60,31.81 62.71,31.52 62.81,31.24 62.92,30.95 63.02,30.67 63.13,30.39 63.23,30.12 63.34,29.84 63.44,29.57 63.55,29.30 63.65,29.03 63.76,28.77 63.86,28.50 63.97,28.24 64.08,27.98 64.18,27.73 64.29,27.47 64.39,27.22 64.50,26.97 64.60,26.72 64.71,26.47 64.81,26.23 64.92,25.99 65.02,25.75 65.13,25.51 65.23,25.28 65.34,25.05 65.44,24.82 65.55,24.59 65.65,24.36 65.76,24.14 65.86,23.92 65.97,23.70 66.07,23.49 66.18,23.28 66.29,23.07 66.39,22.86 66.50,22.65 66.60,22.45 66.71,22.25 66.81,22.06 66.92,21.86 67.02,21.67 67.13,21.48 67.23,21.29 67.34,21.11 67.44,20.93 67.55,20.75 67.65,20.58 67.76,20.40 67.86,20.23 67.97,20.07 68.07,19.90 68.18,19.74 68.28,19.59 68.39,19.43 68.50,19.28 68.60,19.13 68.71,18.98 68.81,18.84 68.92,18.70 69.02,18.56 69.13,18.43 69.23,18.30 69.34,18.17 69.44,18.05 69.55,17.93 69.65,17.81 69.76,17.70 69.86,17.58 69.97,17.48 70.07,17.37 70.18,17.27 70.28,17.17 70.39,17.08 70.49,16.99 70.60,16.90 70.71,16.82 70.81,16.74 70.92,16.66 71.02,16.58 71.13,16.51 71.23,16.45 71.34,16.39 71.44,16.33 71.55,16.27 71.65,16.22 71.76,16.17 71.86,16.12 71.97,16.08 72.07,16.05 72.18,16.01 72.28,15.98 72.39,15.95 72.49,15.93 72.60,15.91 72.70,15.90 72.81,15.89 72.92,15.88 73.02,15.87 73.13,15.87 73.23,15.87 73.34,15.88 73.44,15.89 73.55,15.90 73.65,15.92 73.76,15.94 73.86,15.97 73.97,15.99 74.07,16.03 74.18,16.06 74.28,16.10 74.39,16.14 74.49,16.19 74.60,16.24 74.70,16.29 74.81,16.34 74.91,16.40 75.02,16.46 75.13,16.53 75.23,16.60 75.34,16.67 75.44,16.74 75.55,16.82 75.65,16.90 75.76,16.98 75.86,17.07 75.97,17.16 76.07,17.25 76.18,17.35 76.28,17.44 76.39,17.54 76.49,17.65 76.60,17.75 76.70,17.86 76.81,17.97 76.91,18.08 77.02,18.19 77.13,18.31 77.23,18.43 77.34,18.55 77.44,18.67 77.55,18.79 77.65,18.92 77.76,19.05 77.86,19.18 77.97,19.31 78.07,19.44 78.18,19.58 78.28,19.72 78.39,19.85 78.49,19.99 78.60,20.13 78.70,20.28 78.81,20.42 78.91,20.57 79.02,20.71 79.12,20.86 79.23,21.01 79.34,21.16 79.44,21.31 79.55,21.46 79.65,21.61 79.76,21.77 79.86,21.92 79.97,22.08 80.07,22.24 80.18,22.39 80.28,22.55 80.39,22.71 80.49,22.87 80.60,23.03 80.70,23.20 80.81,23.36 80.91,23.52 81.02,23.69 81.12,23.85 81.23,24.02 81.33,24.19 81.44,24.35 81.55,24.52 81.65,24.69 81.76,24.86 81.86,25.03 81.97,25.20 82.07,25.38 82.18,25.55 82.28,25.72 82.39,25.90 82.49,26.07 82.60,26.25 82.70,26.43 82.81,26.61 82.91,26.79 83.02,26.97 83.12,27.15 83.23,27.33 83.33,27.51 83.44,27.70 83.54,27.88 83.65,28.07 83.76,28.25 83.86,28.44 83.97,28.63 84.07,28.82 84.18,29.01 84.28,29.20 84.39,29.39 84.49,29.59 84.60,29.78 84.70,29.98 84.81,30.18 84.91,30.38 85.02,30.57 85.12,30.78 85.23,30.98 85.33,31.18 85.44,31.39 85.54,31.59 85.65,31.80 85.75,32.01 85.86,32.22 85.97,32.43 86.07,32.64 86.18,32.85 86.28,33.07 86.39,33.28 86.49,33.50 86.60,33.72 86.70,33.94 86.81,34.16 86.91,34.38 87.02,34.61 87.12,34.83 87.23,35.06 87.33,35.29 87.44,35.52 87.54,35.75 87.65,35.99 87.75,36.22 87.86,36.46 87.96,36.69 88.07,36.93 88.18,37.17 88.28,37.42 88.39,37.66 88.49,37.91 88.60,38.15 88.70,38.40 88.81,38.65 88.91,38.90 89.02,39.15 89.12,39.41 89.23,39.67 89.33,39.92 89.44,40.18 89.54,40.44 89.65,40.71 89.75,40.97 89.86,41.23 89.96,41.50 90.07,41.77 90.18,42.04 90.28,42.31 90.39,42.59 90.49,42.86 90.60,43.14 90.70,43.42 90.81,43.70 90.91,43.98 91.02,44.26 91.12,44.54 91.23,44.83 91.33,45.12 91.44,45.41 91.54,45.70 91.65,45.99 91.75,46.29 91.86,46.58 91.96,46.88 92.07,47.18 92.17,47.48 92.28,47.78 92.39,48.08 92.49,48.39 92.60,48.69 92.70,49.00 92.81,49.31 92.91,49.62 93.02,49.94 93.12,50.25 93.23,50.57 93.33,50.88 93.44,51.20 93.54,51.52 93.65,51.84 93.75,52.17 93.86,52.49 93.96,52.82 94.07,53.15 94.17,53.48 94.28,53.81 94.38,54.14 94.49,54.47 94.60,54.81 94.70,55.15 94.81,55.49 94.91,55.82 95.02,56.17 95.12,56.51 95.23,56.85 95.33,57.20 95.44,57.55 95.54,57.89 95.65,58.24 95.75,58.59 95.86,58.95 95.96,59.30 96.07,59.66 96.17,60.01 96.28,60.37 96.38,60.73 96.49,61.09 96.59,61.45 96.70,61.82 96.81,62.18 96.91,62.55 97.02,62.91 97.12,63.28 97.23,63.65 97.33,64.02 97.44,64.40 97.54,64.77 97.65,65.14 97.75,65.52 97.86,65.90 97.96,66.28 98.07,66.66 98.17,67.04 98.28,67.42 98.38,67.80 98.49,68.19 98.59,68.58 98.70,68.96 98.80,69.35 98.91,69.74 99.02,70.13 99.12,70.52 99.23,70.91 99.33,71.31 99.44,71.70 99.54,72.10 99.65,72.50 99.75,72.90 99.86,73.30 99.96,73.70 100.07,74.10 100.17,74.50 100.28,74.90 100.38,75.31 100.49,75.71 100.59,76.12 100.70,76.53 100.80,76.94 100.91,77.35 101.02,77.76 101.12,78.17 101.23,78.58 101.33,78.99 101.44,79.41 101.54,79.82 101.65,80.24 101.75,80.66 101.86,81.07 101.96,81.49 102.07,81.91 102.17,82.33 102.28,82.75 102.38,83.18 102.49,83.60 102.59,84.02 102.70,84.45 102.80,84.87 102.91,85.30 103.01,85.73 103.12,86.15 103.23,86.58 103.33,87.01 103.44,87.44 103.54,87.87 103.65,88.30 103.75,88.74 103.86,89.17 103.96,89.60 104.07,90.04 104.17,90.47 104.28,90.91 104.38,91.34 104.49,91.78 104.59,92.22 104.70,92.65 104.80,93.09 104.91,93.53 105.01,93.97 105.12,94.41 105.22,94.85 105.33,95.29 105.44,95.74 105.54,96.18 105.65,96.62 105.75,97.06 105.86,97.51 105.96,97.95 106.07,98.40 106.17,98.84 106.28,99.29 106.38,99.73 106.49,100.18 106.59,100.63 106.70,101.07 106.80,101.52 106.91,101.97 107.01,102.42 107.12,102.87 107.22,103.31 107.33,103.76 107.43,104.21 107.54,104.66 107.65,105.11 107.75,105.56 107.86,106.01 107.96,106.47 108.07,106.92 108.17,107.37 108.28,107.82 108.38,108.27 108.49,108.72 108.59,109.18 108.70,109.63 108.80,110.08 108.91,110.53 109.01,110.99 109.12,111.44 109.22,111.89 109.33,112.35 109.43,112.80 109.54,113.25 109.64,113.71 109.75,114.16 109.86,114.61 109.96,115.07 110.07,115.52 110.17,115.97 110.28,116.43 110.38,116.88 110.49,117.33 110.59,117.79 110.70,118.24 110.80,118.70 110.91,119.15 111.01,119.60 111.12,120.06 111.22,120.51 111.33,120.96 111.43,121.41 111.54,121.87 111.64,122.32 111.75,122.77 111.85,123.22 111.96,123.68 112.07,124.13 112.17,124.58 112.28,125.03 112.38,125.48 112.49,125.93 112.59,126.39 112.70,126.84 112.80,127.29 112.91,127.74 113.01,128.19 113.12,128.63 113.22,129.08 113.33,129.53 113.43,129.98 113.54,130.43 113.64,130.88 113.75,131.32 113.85,131.77 113.96,132.22 114.07,132.66 114.17,133.11 114.28,133.55 114.38,134.00 114.49,134.44 114.59,134.89 114.70,135.33 114.80,135.77 114.91,136.22 115.01,136.66 115.12,137.10 115.22,137.54 115.33,137.98 115.43,138.42 115.54,138.86 115.64,139.30 115.75,139.74 115.85,140.17 115.96,140.61 116.06,141.05 116.17,141.48 116.28,141.92 116.38,142.35 116.49,142.78 116.59,143.22 116.70,143.65 116.80,144.08 116.91,144.51 117.01,144.94 117.12,145.37 117.22,145.80 117.33,146.23 117.43,146.65 117.54,147.08 117.64,147.50 117.75,147.93 117.85,148.35 117.96,148.78 118.06,149.20 118.17,149.62 118.27,150.04 118.38,150.46 118.49,150.88 118.59,151.30 118.70,151.71 118.80,152.13 118.91,152.54 119.01,152.96 119.12,153.37 119.22,153.78 119.33,154.19 119.43,154.60 119.54,155.01 119.64,155.42 119.75,155.83 119.85,156.23 119.96,156.64 120.06,157.04 120.17,157.45 120.27,157.85 120.38,158.25 120.48,158.65 120.59,159.05 120.70,159.45 120.80,159.84 120.91,160.24 121.01,160.63 121.12,161.02 121.22,161.42 121.33,161.81 121.43,162.20 121.54,162.58 121.64,162.97 121.75,163.36 121.85,163.74 121.96,164.13 122.06,164.51 122.17,164.89 122.27,165.27 122.38,165.65 122.48,166.02 122.59,166.40 122.69,166.77 122.80,167.15 122.91,167.52 123.01,167.89 123.12,168.26 123.22,168.62 123.33,168.99 123.43,169.36 123.54,169.72 123.64,170.08 123.75,170.44 123.85,170.80 123.96,171.16 124.06,171.51 124.17,171.87 124.27,172.22 124.38,172.57 124.48,172.92 124.59,173.27 124.69,173.62 124.80,173.97 124.90,174.31 125.01,174.65 125.12,174.99 125.22,175.33 125.33,175.67 125.43,176.01 125.54,176.34 125.64,176.67 125.75,177.01 125.85,177.34 125.96,177.66 126.06,177.99 126.17,178.31 126.27,178.64 126.38,178.96 126.48,179.28 126.59,179.60 126.69,179.91 126.80,180.23 126.90,180.54 127.01,180.85 127.12,181.16 127.22,181.47 127.33,181.77 127.43,182.07 127.54,182.38 127.64,182.68 127.75,182.97 127.85,183.27 127.96,183.56 128.06,183.86 128.17,184.15 128.27,184.44 128.38,184.72 128.48,185.01 128.59,185.29 128.69,185.57 128.80,185.85 128.90,186.12 129.01,186.40 129.11,186.67 129.22,186.94 129.33,187.21 129.43,187.48 129.54,187.74 129.64,188.00 129.75,188.26 129.85,188.52 129.96,188.77 130.06,189.03 130.17,189.28 130.27,189.53 130.38,189.77 130.48,190.02 130.59,190.26 130.69,190.50 130.80,190.74 130.90,190.97 131.01,191.21 131.11,191.44 131.22,191.67 131.32,191.89 131.43,192.12 131.54,192.34 131.64,192.56 131.75,192.77 131.85,192.98 131.96,193.20 132.06,193.40 132.17,193.61 132.27,193.81 132.38,194.02 132.48,194.21 132.59,194.41 132.69,194.60 132.80,194.79 132.90,194.98 133.01,195.17 133.11,195.35 133.22,195.53 133.32,195.71 133.43,195.88 133.53,196.05 133.64,196.22 133.75,196.38 133.85,196.55 133.96,196.71 134.06,196.86 134.17,197.02 134.27,197.17 134.38,197.32 134.48,197.46 134.59,197.60 134.69,197.74 134.80,197.88 134.90,198.01 135.01,198.14 135.11,198.27 135.22,198.39 135.32,198.51 135.43,198.63 135.53,198.74 135.64,198.85 135.74,198.96 135.85,199.06 135.96,199.16 136.06,199.26 136.17,199.35 136.27,199.44 136.38,199.53 136.48,199.61 136.59,199.69 136.69,199.76 136.80,199.84 136.90,199.91 137.01,199.97 137.11,200.03 137.22,200.09 137.32,200.15 137.43,200.20 137.53,200.25 137.64,200.29 137.74,200.33 137.85,200.37 137.95,200.40 138.06,200.43 138.17,200.45 138.27,200.48 138.38,200.49 138.48,200.51 138.59,200.52 138.69,200.53 138.80,200.53 138.90,200.53 139.01,200.53 139.11,200.52 139.22,200.51 139.32,200.49 139.43,200.48 139.53,200.45 139.64,200.43 139.74,200.40 139.85,200.37 139.95,200.33 140.06,200.29 140.17,200.25 140.27,200.20 140.38,200.15 140.48,200.10 140.59,200.04 140.69,199.98 140.80,199.92 140.90,199.86 141.01,199.79 141.11,199.71 141.22,199.64 141.32,199.56 141.43,199.48 141.53,199.39 141.64,199.31 141.74,199.22 141.85,199.13 141.95,199.03 142.06,198.93 142.16,198.83 142.27,198.73 142.38,198.62 142.48,198.52 142.59,198.41 142.69,198.29 142.80,198.18 142.90,198.06 143.01,197.94 143.11,197.82 143.22,197.70 143.32,197.57 143.43,197.45 143.53,197.32 143.64,197.19 143.74,197.06 143.85,196.92 143.95,196.79 144.06,196.65 144.16,196.51 144.27,196.37 144.37,196.23 144.48,196.09 144.59,195.94 144.69,195.80 144.80,195.65 144.90,195.50 145.01,195.35 145.11,195.20 145.22,195.05 145.32,194.90 145.43,194.75 145.53,194.59 145.64,194.44 145.74,194.28 145.85,194.12 145.95,193.97 146.06,193.81 146.16,193.65 146.27,193.49 146.37,193.33 146.48,193.16 146.58,193.00 146.69,192.84 146.80,192.67 146.90,192.51 147.01,192.34 147.11,192.17 147.22,192.00 147.32,191.84 147.43,191.67 147.53,191.50 147.64,191.32 147.74,191.15 147.85,190.98 147.95,190.81 148.06,190.63 148.16,190.46 148.27,190.28 148.37,190.10 148.48,189.93 148.58,189.75 148.69,189.57 148.79,189.39 148.90,189.21 149.01,189.03 149.11,188.84 149.22,188.66 149.32,188.47 149.43,188.29 149.53,188.10 149.64,187.91 149.74,187.72 149.85,187.53 149.95,187.34 150.06,187.15 150.16,186.96 150.27,186.76 150.37,186.57 150.48,186.37 150.58,186.17 150.69,185.97 150.79,185.77 150.90,185.57 151.01,185.37 151.11,185.17 151.22,184.96 151.32,184.76 151.43,184.55 151.53,184.34 151.64,184.13 151.74,183.92 151.85,183.71 151.95,183.49 152.06,183.28 152.16,183.06 152.27,182.84 152.37,182.63 152.48,182.40 152.58,182.18 152.69,181.96 152.79,181.73 152.90,181.51 153.00,181.28 153.11,181.05 153.22,180.82 153.32,180.59 153.43,180.36 153.53,180.12 153.64,179.88 153.74,179.65 153.85,179.41 153.95,179.17 154.06,178.92 154.16,178.68 154.27,178.43 154.37,178.19 154.48,177.94 154.58,177.69 154.69,177.44 154.79,177.18 154.90,176.93 155.00,176.67 155.11,176.41 155.21,176.15 155.32,175.89 155.43,175.63 155.53,175.36 155.64,175.10 155.74,174.83 155.85,174.56 155.95,174.29 156.06,174.02 156.16,173.75 156.27,173.47 156.37,173.19 156.48,172.91 156.58,172.63 156.69,172.35 156.79,172.07 156.90,171.78 157.00,171.50 157.11,171.21 157.21,170.92 157.32,170.63 157.42,170.34 157.53,170.04 157.64,169.75 157.74,169.45 157.85,169.15 157.95,168.85 158.06,168.55 158.16,168.24 158.27,167.94 158.37,167.63 158.48,167.32 158.58,167.01 158.69,166.70 158.79,166.39 158.90,166.07 159.00,165.75 159.11,165.44 159.21,165.12 159.32,164.80 159.42,164.47 159.53,164.15 159.63,163.83 159.74,163.50 159.85,163.17 159.95,162.84 160.06,162.51 160.16,162.18 160.27,161.84 160.37,161.51 160.48,161.17 160.58,160.83 160.69,160.49 160.79,160.15 160.90,159.81 161.00,159.46 161.11,159.12 161.21,158.77 161.32,158.42 161.42,158.07 161.53,157.72 161.63,157.36 161.74,157.01 161.84,156.66 161.95,156.30 162.06,155.94 162.16,155.58 162.27,155.22 162.37,154.86 162.48,154.49 162.58,154.13 162.69,153.76 162.79,153.39 162.90,153.03 163.00,152.65 163.11,152.28 163.21,151.91 163.32,151.54 163.42,151.16 163.53,150.78 163.63,150.41 163.74,150.03 163.84,149.65 163.95,149.27 164.06,148.88 164.16,148.50 164.27,148.11 164.37,147.73 164.48,147.34 164.58,146.95 164.69,146.56 164.79,146.17 164.90,145.78 165.00,145.39 165.11,144.99 165.21,144.60 165.32,144.20 165.42,143.80 165.53,143.40 165.63,143.00 165.74,142.60 165.84,142.20 165.95,141.80 166.05,141.40 166.16,140.99 166.27,140.58 166.37,140.18 166.48,139.77 166.58,139.36 166.69,138.95 166.79,138.54 166.90,138.13 167.00,137.72 167.11,137.30 167.21,136.89 167.32,136.47 167.42,136.06 167.53,135.64 167.63,135.22 167.74,134.80 167.84,134.38 167.95,133.96 168.05,133.54 168.16,133.12 168.26,132.69 168.37,132.27 168.48,131.85 168.58,131.42 168.69,130.99 168.79,130.57 168.90,130.14 169.00,129.71 169.11,129.28 169.21,128.85 169.32,128.42 169.42,127.99 169.53,127.56 169.63,127.12 169.74,126.69 169.84,126.25 169.95,125.82 170.05,125.38 170.16,124.95 170.26,124.51 170.37,124.07 170.47,123.64 170.58,123.20 170.69,122.76 170.79,122.32 170.90,121.88 171.00,121.44 171.11,121.00 171.21,120.55 171.32,120.11 171.42,119.67 171.53,119.23 171.63,118.78 171.74,118.34 171.84,117.89 171.95,117.45 172.05,117.00 172.16,116.56 172.26,116.11 172.37,115.66 172.47,115.21 172.58,114.77 172.68,114.32 172.79,113.87 172.90,113.42 173.00,112.97 173.11,112.52 173.21,112.07 173.32,111.62 173.42,111.17 173.53,110.72 173.63,110.27 173.74,109.82 173.84,109.37 173.95,108.92 174.05,108.47 174.16,108.02 174.26,107.56 174.37,107.11 174.47,106.66 174.58,106.21 174.68,105.75 174.79,105.30 174.89,104.85 175.00,104.39 175.11,103.94 175.21,103.49 175.32,103.03 175.42,102.58 175.53,102.13 175.63,101.67 175.74,101.22 175.84,100.77 175.95,100.31 176.05,99.86 176.16,99.41 176.26,98.95 176.37,98.50 176.47,98.04 176.58,97.59 176.68,97.14 176.79,96.68 176.89,96.23 177.00,95.78 177.11,95.33 177.21,94.87 177.32,94.42 177.42,93.97 177.53,93.51 177.63,93.06 177.74,92.61 177.84,92.16 177.95,91.71 178.05,91.26 178.16,90.80 178.26,90.35 178.37,89.90 178.47,89.45 178.58,89.00 178.68,88.55 178.79,88.10 178.89,87.65 179.00,87.20 179.10,86.76 179.21,86.31 179.32,85.86 179.42,85.41 179.53,84.96 179.63,84.52 179.74,84.07 179.84,83.63 179.95,83.18 180.05,82.73 180.16,82.29 180.26,81.85 180.37,81.40 180.47,80.96 180.58,80.52 180.68,80.07 180.79,79.63 180.89,79.19 181.00,78.75 181.10,78.31 181.21,77.87 181.31,77.43 181.42,76.99 181.53,76.55 181.63,76.12 181.74,75.68 181.84,75.25 181.95,74.81 182.05,74.38 182.16,73.94 182.26,73.51 182.37,73.08 182.47,72.64 182.58,72.21 182.68,71.78 182.79,71.35 182.89,70.92 183.00,70.49 183.10,70.07 183.21,69.64 183.31,69.21 183.42,68.79 183.52,68.36 183.63,67.94 183.74,67.52 183.84,67.10 183.95,66.68 184.05,66.26 184.16,65.84 184.26,65.42 184.37,65.00 184.47,64.58 184.58,64.17 184.68,63.75 184.79,63.34 184.89,62.93 185.00,62.51 185.10,62.10 185.21,61.69 185.31,61.28 185.42,60.88 185.52,60.47 185.63,60.06 185.73,59.66 185.84,59.26 185.95,58.85 186.05,58.45 186.16,58.05 186.26,57.65 186.37,57.25 186.47,56.86 186.58,56.46 186.68,56.06 186.79,55.67 186.89,55.28 187.00,54.89 187.10,54.50 187.21,54.11 187.31,53.72 187.42,53.33 187.52,52.95 187.63,52.56 187.73,52.18 187.84,51.80 187.94,51.42 188.05,51.04 188.16,50.66 188.26,50.28 188.37,49.91 188.47,49.53 188.58,49.16 188.68,48.79 188.79,48.42 188.89,48.05 189.00,47.68 189.10,47.32 189.21,46.95 189.31,46.59 189.42,46.23 189.52,45.87 189.63,45.51 189.73,45.15 189.84,44.80 189.94,44.44 190.05,44.09 190.16,43.74 190.26,43.39 190.37,43.04 190.47,42.69 190.58,42.35 190.68,42.00 190.79,41.66 190.89,41.32 191.00,40.98 191.10,40.64 191.21,40.31 191.31,39.97 191.42,39.64 191.52,39.31 191.63,38.98 191.73,38.65 191.84,38.33 191.94,38.00 192.05,37.68 192.15,37.36 192.26,37.04 192.37,36.72 192.47,36.41 192.58,36.10 192.68,35.78 192.79,35.47 192.89,35.16 193.00,34.86 193.10,34.55 193.21,34.25 193.31,33.95 193.42,33.65 193.52,33.35 193.63,33.06 193.73,32.76 193.84,32.47 193.94,32.18 194.05,31.89 194.15,31.61 194.26,31.32 194.36,31.04 194.47,30.76 194.58,30.48 194.68,30.21 194.79,29.93 194.89,29.66 195.00,29.39 195.10,29.12 195.21,28.86 195.31,28.59 195.42,28.33 195.52,28.07 195.63,27.82 195.73,27.56 195.84,27.31 195.94,27.06 196.05,26.81 196.15,26.56 196.26,26.32 196.36,26.08 196.47,25.84 196.57,25.60 196.68,25.37 196.79,25.13 196.89,24.90 197.00,24.68 197.10,24.45 197.21,24.23 197.31,24.01 197.42,23.79 197.52,23.58 197.63,23.36 197.73,23.15 197.84,22.94 197.94,22.74 198.05,22.53 198.15,22.33 198.26,22.14 198.36,21.94 198.47,21.75 198.57,21.56 198.68,21.37 198.78,21.19 198.89,21.01 199.00,20.83 199.10,20.65 199.21,20.48 199.31,20.31 199.42,20.14 199.52,19.97 199.63,19.81 199.73,19.65 199.84,19.50 199.94,19.34 200.05,19.19 200.15,19.05 200.26,18.90 200.36,18.76 200.47,18.62 200.57,18.49 200.68,18.36 200.78,18.23 200.89,18.10 200.99,17.98 201.10,17.86 201.21,17.75 201.31,17.63 201.42,17.52 201.52,17.42 201.63,17.32 201.73,17.22 201.84,17.12 201.94,17.03 202.05,16.94 202.15,16.85 202.26,16.77 202.36,16.69 202.47,16.62 202.57,16.55 202.68,16.48 202.78,16.41 202.89,16.35 202.99,16.29 203.10,16.24 203.21,16.19 203.31,16.14 203.42,16.10 203.52,16.06 203.63,16.03 203.73,15.99 203.84,15.97 203.94,15.94 204.05,15.92 204.15,15.90 204.26,15.89 204.36,15.88 204.47,15.87 204.57,15.87 204.68,15.87 204.78,15.88 204.89,15.88 204.99,15.90 205.10,15.91 205.20,15.93 205.31,15.95 205.42,15.98 205.52,16.01 205.63,16.04 205.73,16.08 205.84,16.12 205.94,16.16 206.05,16.21 206.15,16.26 206.26,16.31 206.36,16.37 206.47,16.43 206.57,16.50 206.68,16.56 206.78,16.63 206.89,16.70 206.99,16.78 207.10,16.86 207.20,16.94 207.31,17.03 207.41,17.11 207.52,17.20 207.63,17.30 207.73,17.39 207.84,17.49 207.94,17.59 208.05,17.70 208.15,17.80 208.26,17.91 208.36,18.02 208.47,18.14 208.57,18.25 208.68,18.37 208.78,18.49 208.89,18.61 208.99,18.73 209.10,18.86 209.20,18.99 209.31,19.11 209.41,19.25 209.52,19.38 209.62,19.51 209.73,19.65 209.84,19.79 209.94,19.92 210.05,20.06 210.15,20.21 210.26,20.35 210.36,20.49 210.47,20.64 210.57,20.79 210.68,20.93 210.78,21.08 210.89,21.23 210.99,21.39 211.10,21.54 211.20,21.69 211.31,21.85 211.41,22.00 211.52,22.16 211.62,22.31 211.73,22.47 211.83,22.63 211.94,22.79 212.05,22.95 212.15,23.11 212.26,23.28 212.36,23.44 212.47,23.60 212.57,23.77 212.68,23.94 212.78,24.10 212.89,24.27 212.99,24.44 213.10,24.61 213.20,24.78 213.31,24.95 213.41,25.12 213.52,25.29 213.62,25.46 213.73,25.64 213.83,25.81 213.94,25.99 214.05,26.16 214.15,26.34 214.26,26.52 214.36,26.70 214.47,26.88 214.57,27.06 214.68,27.24 214.78,27.42 214.89,27.60 214.99,27.79 215.10,27.97 215.20,28.16 215.31,28.35 215.41,28.53 215.52,28.72 215.62,28.91 215.73,29.11 215.83,29.30 215.94,29.49 216.04,29.69 216.15,29.88 216.26,30.08 216.36,30.28 216.47,30.48 216.57,30.68 216.68,30.88 216.78,31.08 216.89,31.28 216.99,31.49 217.10,31.69 217.20,31.90 217.31,32.11 217.41,32.32 217.52,32.53 217.62,32.75 217.73,32.96 217.83,33.18 217.94,33.39 218.04,33.61 218.15,33.83 218.25,34.05 218.36,34.27 218.47,34.50 218.57,34.72 218.68,34.95 218.78,35.18 218.89,35.41 218.99,35.64 219.10,35.87 219.20,36.10 219.31,36.34 219.41,36.58 219.52,36.81 219.62,37.05 219.73,37.30 219.83,37.54 219.94,37.78 220.04,38.03 220.15,38.28 220.25,38.53 220.36,38.78 220.46,39.03 220.57,39.28 220.68,39.54 220.78,39.79 220.89,40.05 220.99,40.31 221.10,40.57 221.20,40.84 221.31,41.10 221.41,41.37 221.52,41.64 221.62,41.91 221.73,42.18 221.83,42.45 221.94,42.72 222.04,43.00 222.15,43.28 222.25,43.56 222.36,43.84 222.46,44.12 222.57,44.40 222.67,44.69 222.78,44.97 222.89,45.26 222.99,45.55 223.10,45.84 223.20,46.14 223.31,46.43 223.41,46.73 223.52,47.03 223.62,47.33 223.73,47.63 223.83,47.93 223.94,48.23 224.04,48.54 224.15,48.85 224.25,49.16 224.36,49.47 224.46,49.78 224.57,50.09 224.67,50.41 224.78,50.72 224.88,51.04 224.99,51.36 225.10,51.68 225.20,52.01 225.31,52.33 225.41,52.66 225.52,52.98 225.62,53.31 225.73,53.64 225.83,53.97 225.94,54.31 226.04,54.64 226.15,54.98 226.25,55.32 226.36,55.65 226.46,56.00 226.57,56.34 226.67,56.68 226.78,57.03 226.88,57.37 226.99,57.72 227.10,58.07 227.20,58.42 227.31,58.77 227.41,59.12 227.52,59.48 227.62,59.83 227.73,60.19 227.83,60.55 227.94,60.91 228.04,61.27 228.15,61.63 228.25,62.00 228.36,62.36 228.46,62.73 228.57,63.10 228.67,63.47 228.78,63.84 228.88,64.21 228.99,64.58 229.09,64.96 229.20,65.33 229.31,65.71 229.41,66.09 229.52,66.47 229.62,66.85 229.73,67.23 229.83,67.61 229.94,68.00 230.04,68.38 230.15,68.77 230.25,69.16 230.36,69.54 230.46,69.93 230.57,70.33 230.67,70.72 230.78,71.11 230.88,71.51 230.99,71.90 231.09,72.30 231.20,72.70 231.30,73.10 231.41,73.50 231.52,73.90 231.62,74.30 231.73,74.70 231.83,75.11 231.94,75.51 232.04,75.92 232.15,76.32 232.25,76.73 232.36,77.14 232.46,77.55 232.57,77.96 232.67,78.37 232.78,78.79 232.88,79.20 232.99,79.62 233.09,80.03 233.20,80.45 233.30,80.87 233.41,81.28 233.51,81.70 233.62,82.12 233.73,82.54 233.83,82.97 233.94,83.39 234.04,83.81 234.15,84.24 234.25,84.66 234.36,85.09 234.46,85.51 234.57,85.94 234.67,86.37 234.78,86.80 234.88,87.23 234.99,87.66 235.09,88.09 235.20,88.52 235.30,88.95 235.41,89.39 235.51,89.82 235.62,90.25 235.72,90.69 235.83,91.12 235.94,91.56 236.04,92.00 236.15,92.44 236.25,92.87 236.36,93.31 236.46,93.75 236.57,94.19 236.67,94.63 236.78,95.07 236.88,95.51 236.99,95.96 237.09,96.40 237.20,96.84 237.30,97.29 237.41,97.73 237.51,98.17 237.62,98.62 237.72,99.06 237.83,99.51 237.93,99.96 238.04,100.40 238.15,100.85 238.25,101.30 238.36,101.74 238.46,102.19 238.57,102.64 238.67,103.09 238.78,103.54 238.88,103.99 238.99,104.44 239.09,104.89 239.20,105.34 239.30,105.79 239.41,106.24 239.51,106.69 239.62,107.14 239.72,107.59 239.83,108.05 239.93,108.50 240.04,108.95 240.15,109.40 240.25,109.85 240.36,110.31 240.46,110.76 240.57,111.21 240.67,111.67 240.78,112.12 240.88,112.57 240.99,113.03 241.09,113.48 241.20,113.93 241.30,114.39 241.41,114.84 241.51,115.29 241.62,115.75 241.72,116.20 241.83,116.65 241.93,117.11 242.04,117.56 242.14,118.02 242.25,118.47 242.36,118.92 242.46,119.38 242.57,119.83 242.67,120.28 242.78,120.74 242.88,121.19 242.99,121.64 243.09,122.09 243.20,122.55 243.30,123.00 243.41,123.45 243.51,123.90 243.62,124.35 243.72,124.81 243.83,125.26 243.93,125.71 244.04,126.16 244.14,126.61 244.25,127.06 244.35,127.51 244.46,127.96 244.57,128.41 244.67,128.86 244.78,129.31 244.88,129.76 244.99,130.21 245.09,130.65 245.20,131.10 245.30,131.55 245.41,131.99 245.51,132.44 245.62,132.89 245.72,133.33 245.83,133.78 245.93,134.22 246.04,134.67 246.14,135.11 246.25,135.55 246.35,135.99 246.46,136.44 246.56,136.88 246.67,137.32 246.78,137.76 246.88,138.20 246.99,138.64 247.09,139.08 247.20,139.52 247.30,139.95 247.41,140.39 247.51,140.83 247.62,141.26 247.72,141.70 247.83,142.13 247.93,142.57 248.04,143.00 248.14,143.43 248.25,143.86 248.35,144.30 248.46,144.73 248.56,145.16 248.67,145.58 248.77,146.01 248.88,146.44 248.99,146.87 249.09,147.29 249.20,147.72 249.30,148.14 249.41,148.56 249.51,148.99 249.62,149.41 249.72,149.83 249.83,150.25 249.93,150.67 250.04,151.09 250.14,151.50 250.25,151.92 250.35,152.34 250.46,152.75 250.56,153.16 250.67,153.58 250.77,153.99 250.88,154.40 250.98,154.81 251.09,155.22 251.20,155.63 251.30,156.03 251.41,156.44 251.51,156.84 251.62,157.25 251.72,157.65 251.83,158.05 251.93,158.45 252.04,158.85 252.14,159.25 252.25,159.64 252.35,160.04 252.46,160.43 252.56,160.83 252.67,161.22 252.77,161.61 252.88,162.00 252.98,162.39 253.09,162.78 253.20,163.16 253.30,163.55 253.41,163.93 253.51,164.32 253.62,164.70 253.72,165.08 253.83,165.46 253.93,165.83 254.04,166.21 254.14,166.59 254.25,166.96 254.35,167.33 254.46,167.70 254.56,168.07 254.67,168.44 254.77,168.81 254.88,169.17 254.98,169.54 255.09,169.90 255.19,170.26 255.30,170.62 255.41,170.98 255.51,171.34 255.62,171.69 255.72,172.05 255.83,172.40 255.93,172.75 256.04,173.10 256.14,173.45 256.25,173.79 256.35,174.14 256.46,174.48 256.56,174.82 256.67,175.16 256.77,175.50 256.88,175.84 256.98,176.17 257.09,176.51 257.19,176.84 257.30,177.17 257.40,177.50 257.51,177.83 257.62,178.15 257.72,178.48 257.83,178.80 257.93,179.12 258.04,179.44 258.14,179.75 258.25,180.07 258.35,180.38 258.46,180.69 258.56,181.00 258.67,181.31 258.77,181.62 258.88,181.92 258.98,182.23 259.09,182.53 259.19,182.83 259.30,183.12 259.40,183.42 259.51,183.71 259.61,184.00 259.72,184.29 259.83,184.58 259.93,184.86 260.04,185.15 260.14,185.43 260.25,185.71 260.35,185.99 260.46,186.26 260.56,186.53 260.67,186.81 260.77,187.08 260.88,187.34 260.98,187.61 261.09,187.87 261.19,188.13 261.30,188.39 261.40,188.65 261.51,188.90 261.61,189.15 261.72,189.40 261.82,189.65 261.93,189.90 262.04,190.14 262.14,190.38 262.25,190.62 262.35,190.86 262.46,191.09 262.56,191.32 262.67,191.55 262.77,191.78 262.88,192.00 262.98,192.23 263.09,192.45 263.19,192.66 263.30,192.88 263.40,193.09 263.51,193.30 263.61,193.51 263.72,193.71 263.82,193.92 263.93,194.12 264.04,194.31 264.14,194.51 264.25,194.70 264.35,194.89 264.46,195.07 264.56,195.26 264.67,195.44 264.77,195.62 264.88,195.79 264.98,195.97 265.09,196.14 265.19,196.30 265.30,196.47 265.40,196.63 265.51,196.79 265.61,196.94 265.72,197.09 265.82,197.24 265.93,197.39 266.03,197.53 266.14,197.67 266.25,197.81 266.35,197.94 266.46,198.08 266.56,198.20 266.67,198.33 266.77,198.45 266.88,198.57 266.98,198.68 267.09,198.79 267.19,198.90 267.30,199.01 267.40,199.11 267.51,199.21 267.61,199.30 267.72,199.39 267.82,199.48 267.93,199.57 268.03,199.65 268.14,199.73 268.24,199.80 268.35,199.87 268.46,199.94 268.56,200.00 268.67,200.06 268.77,200.12 268.88,200.17 268.98,200.22 269.09,200.27 269.19,200.31 269.30,200.35 269.40,200.38 269.51,200.41 269.61,200.44 269.72,200.47 269.82,200.49 269.93,200.50 270.03,200.51 270.14,200.52 270.24,200.53 270.35,200.53 270.45,200.53 270.56,200.52 270.67,200.51 270.77,200.50 270.88,200.48 270.98,200.46 271.09,200.44 271.19,200.41 271.30,200.38 271.40,200.35 271.51,200.31 271.61,200.27 271.72,200.23 271.82,200.18 271.93,200.13 272.03,200.07 272.14,200.01 272.24,199.95 272.35,199.89 272.45,199.82 272.56,199.75 272.66,199.68 272.77,199.60 272.88,199.52 272.98,199.44 273.09,199.35 273.19,199.26 273.30,199.17 273.40,199.08 273.51,198.98 273.61,198.88 273.72,198.78 273.82,198.68 273.93,198.57 274.03,198.46 274.14,198.35 274.24,198.24 274.35,198.12 274.45,198.00 274.56,197.88 274.66,197.76 274.77,197.64 274.87,197.51 274.98,197.38 275.09,197.25 275.19,197.12 275.30,196.99 275.40,196.85 275.51,196.72 275.61,196.58 275.72,196.44 275.82,196.30 275.93,196.16 276.03,196.01 276.14,195.87 276.24,195.72 276.35,195.58 276.45,195.43 276.56,195.28 276.66,195.13 276.77,194.98 276.87,194.82 276.98,194.67 277.09,194.52 277.19,194.36 277.30,194.20 277.40,194.05 277.51,193.89 277.61,193.73 277.72,193.57 277.82,193.41 277.93,193.24 278.03,193.08 278.14,192.92 278.24,192.75 278.35,192.59 278.45,192.42 278.56,192.26 278.66,192.09 278.77,191.92 278.87,191.75 278.98,191.58 279.08,191.41 279.19,191.24 279.30,191.07 279.40,190.89 279.51,190.72 279.61,190.54 279.72,190.37 279.82,190.19 279.93,190.02 280.03,189.84 280.14,189.66 280.24,189.48 280.35,189.30 280.45,189.12 280.56,188.93 280.66,188.75 280.77,188.57 280.87,188.38 280.98,188.19 281.08,188.01 281.19,187.82 281.29,187.63 281.40,187.44 281.51,187.25 281.61,187.05 281.72,186.86 281.82,186.67 281.93,186.47 282.03,186.27 282.14,186.07 282.24,185.88 282.35,185.67 282.45,185.47 282.56,185.27 282.66,185.07 282.77,184.86 282.87,184.65 282.98,184.45 283.08,184.24 283.19,184.03 283.29,183.81 283.40,183.60 283.50,183.39 283.61,183.17 283.72,182.95 283.82,182.74 283.93,182.52 284.03,182.29 284.14,182.07 284.24,181.85 284.35,181.62 284.45,181.40 284.56,181.17 284.66,180.94 284.77,180.71 284.87,180.47 284.98,180.24 285.08,180.00 285.19,179.77 285.29,179.53 285.40,179.29 285.50,179.04 285.61,178.80 285.71,178.56 285.82,178.31 285.93,178.06 286.03,177.81 286.14,177.56 286.24,177.31 286.35,177.06 286.45,176.80 286.56,176.54 286.66,176.28 286.77,176.02 286.87,175.76 286.98,175.50 287.08,175.23 287.19,174.97 287.29,174.70 287.40,174.43 287.50,174.16 287.61,173.88 287.71,173.61 287.82,173.33 287.92,173.06 288.03,172.78 288.14,172.50 288.24,172.21 288.35,171.93 288.45,171.64 288.56,171.36 288.66,171.07 288.77,170.78 288.87,170.49 288.98,170.19 289.08,169.90 289.19,169.60 289.29,169.30 289.40,169.00 289.50,168.70 289.61,168.40 289.71,168.09 289.82,167.79 289.92,167.48 290.03,167.17 290.14,166.86 290.24,166.55 290.35,166.23 290.45,165.92 290.56,165.60 290.66,165.28 290.77,164.96 290.87,164.64 290.98,164.32 291.08,164.00 291.19,163.67 291.29,163.34 291.40,163.01 291.50,162.68 291.61,162.35 291.71,162.02 291.82,161.69 291.92,161.35 292.03,161.01 292.13,160.67 292.24,160.33 292.35,159.99 292.45,159.65 292.56,159.30 292.66,158.96 292.77,158.61 292.87,158.26 292.98,157.91 293.08,157.56 293.19,157.21 293.29,156.85 293.40,156.50 293.50,156.14 293.61,155.78 293.71,155.42 293.82,155.06 293.92,154.70 294.03,154.34 294.13,153.97 294.24,153.61 294.34,153.24 294.45,152.87 294.56,152.50 294.66,152.13 294.77,151.76 294.87,151.39 294.98,151.01 295.08,150.64 295.19,150.26 295.29,149.88 295.40,149.50 295.50,149.12 295.61,148.74 295.71,148.36 295.82,147.97 295.92,147.59 296.03,147.20 296.13,146.82 296.24,146.43 296.34,146.04 296.45,145.65 296.55,145.26 296.66,144.87 296.77,144.47 296.87,144.08 296.98,143.69 297.08,143.29 297.19,142.89 297.29,142.49 297.40,142.10 297.50,141.70 297.61,141.30 297.71,140.90 297.82,140.49 297.92,140.09 298.03,139.69 298.13,139.28 298.24,138.88 298.34,138.47 298.45,138.07 298.55,137.66 298.66,137.25 298.76,136.84 298.87,136.43 298.98,136.02 299.08,135.61 299.19,135.20 299.29,134.79 299.40,134.38 299.50,133.96 299.61,133.55 299.71,133.14 299.82,132.72 299.92,132.31 300.03,131.89 300.13,131.48 300.24,131.06 300.34,130.65 300.45,130.23 300.55,129.81 300.66,129.40 300.76,128.98 300.87,128.56 300.97,128.14 301.08,127.73 301.19,127.31 301.29,126.89 301.40,126.47 301.50,126.06 301.61,125.64 301.71,125.22 301.82,124.81 301.92,124.39 302.03,123.97 302.13,123.56 302.24,123.14 302.34,122.73 302.45,122.31 302.55,121.90 302.66,121.48 302.76,121.07 302.87,120.66 302.97,120.25 303.08,119.83 303.19,119.42 303.29,119.01 303.40,118.61 303.50,118.20 303.61,117.79 303.71,117.39 303.82,116.99 303.92,116.58 304.03,116.18 304.13,115.78 304.24,115.39 304.34,114.99 304.45,114.60 304.55,114.20 304.66,113.81 304.76,113.43 304.87,113.04 304.97,112.66 305.08,112.28 305.18,111.90 305.29,111.52 305.40,111.15 305.50,110.78 305.61,110.41 305.71,110.05 305.82,109.69 305.92,109.33 306.03,108.98 306.13,108.63 306.24,108.29 306.34,107.95 306.45,107.61 306.55,107.28 306.66,106.95 306.76,106.63 306.87,106.32 306.97,106.01 307.08,105.70 307.18,105.40 307.29,105.11 307.39,104.83 307.50,104.55" fill="none" stroke="#ff0000" stroke-width="2" stroke-dasharray="4.5 4.5"/>
<path d="M417.50,108.20 417.61,107.75 417.71,107.29 417.82,106.84 417.92,106.39 418.03,105.93 418.13,105.48 418.24,105.02 418.34,104.57 418.45,104.12 418.55,103.67 418.66,103.21 418.76,102.76 418.87,102.31 418.97,101.85 419.08,101.40 419.18,100.95 419.29,100.50 419.39,100.04 419.50,99.59 419.60,99.14 419.71,98.69 419.82,98.24 419.92,97.79 420.03,97.34 420.13,96.89 420.24,96.44 420.34,95.99 420.45,95.54 420.55,95.09 420.66,94.64 420.76,94.19 420.87,93.74 420.97,93.30 421.08,92.85 421.18,92.40 421.29,91.96 421.39,91.51 421.50,91.07 421.60,90.62 421.71,90.18 421.81,89.73 421.92,89.29 422.03,88.84 422.13,88.40 422.24,87.96 422.34,87.52 422.45,87.08 422.55,86.63 422.66,86.19 422.76,85.75 422.87,85.32 422.97,84.88 423.08,84.44 423.18,84.00 423.29,83.56 423.39,83.13 423.50,82.69 423.60,82.26 423.71,81.82 423.81,81.39 423.92,80.96 424.03,80.53 424.13,80.09 424.24,79.66 424.34,79.23 424.45,78.80 424.55,78.38 424.66,77.95 424.76,77.52 424.87,77.09 424.97,76.67 425.08,76.24 425.18,75.82 425.29,75.40 425.39,74.98 425.50,74.55 425.60,74.13 425.71,73.71 425.81,73.29 425.92,72.88 426.02,72.46 426.13,72.04 426.24,71.63 426.34,71.21 426.45,70.80 426.55,70.39 426.66,69.98 426.76,69.57 426.87,69.16 426.97,68.75 427.08,68.34 427.18,67.93 427.29,67.53 427.39,67.12 427.50,66.72 427.60,66.32 427.71,65.92 427.81,65.52 427.92,65.12 428.02,64.72 428.13,64.32 428.23,63.93 428.34,63.53 428.45,63.14 428.55,62.75 428.66,62.36 428.76,61.97 428.87,61.58 428.97,61.19 429.08,60.80 429.18,60.42 429.29,60.03 429.39,59.65 429.50,59.27 429.60,58.89 429.71,58.51 429.81,58.13 429.92,57.75 430.02,57.38 430.13,57.00 430.23,56.63 430.34,56.26 430.44,55.89 430.55,55.52 430.66,55.15 430.76,54.79 430.87,54.42 430.97,54.06 431.08,53.69 431.18,53.33 431.29,52.97 431.39,52.62 431.50,52.26 431.60,51.90 431.71,51.55 431.81,51.20 431.92,50.85 432.02,50.50 432.13,50.15 432.23,49.80 432.34,49.46 432.44,49.11 432.55,48.77 432.65,48.43 432.76,48.09 432.87,47.76 432.97,47.42 433.08,47.08 433.18,46.75 433.29,46.42 433.39,46.09 433.50,45.76 433.60,45.44 433.71,45.11 433.81,44.79 433.92,44.47 434.02,44.14 434.13,43.83 434.23,43.51 434.34,43.19 434.44,42.88 434.55,42.57 434.65,42.26 434.76,41.95 434.86,41.64 434.97,41.34 435.08,41.03 435.18,40.73 435.29,40.43 435.39,40.13 435.50,39.83 435.60,39.54 435.71,39.25 435.81,38.95 435.92,38.66 436.02,38.38 436.13,38.09 436.23,37.80 436.34,37.52 436.44,37.24 436.55,36.96 436.65,36.68 436.76,36.41 436.86,36.13 436.97,35.86 437.08,35.59 437.18,35.32 437.29,35.06 437.39,34.79 437.50,34.53 437.60,34.27 437.71,34.01 437.81,33.75 437.92,33.50 438.02,33.24 438.13,32.99 438.23,32.74 438.34,32.50 438.44,32.25 438.55,32.01 438.65,31.76 438.76,31.52 438.86,31.29 438.97,31.05 439.07,30.81 439.18,30.58 439.29,30.35 439.39,30.12 439.50,29.90 439.60,29.67 439.71,29.45 439.81,29.23 439.92,29.01 440.02,28.80 440.13,28.58 440.23,28.37 440.34,28.16 440.44,27.95 440.55,27.74 440.65,27.54 440.76,27.34 440.86,27.14 440.97,26.94 441.07,26.74 441.18,26.55 441.28,26.36 441.39,26.17 441.50,25.98 441.60,25.79 441.71,25.61 441.81,25.43 441.92,25.25 442.02,25.07 442.13,24.90 442.23,24.72 442.34,24.55 442.44,24.38 442.55,24.22 442.65,24.05 442.76,23.89 442.86,23.73 442.97,23.57 443.07,23.41 443.18,23.26 443.28,23.11 443.39,22.96 443.49,22.81 443.60,22.67 443.71,22.52 443.81,22.38 443.92,22.24 444.02,22.11 444.13,21.97 444.23,21.84 444.34,21.71 444.44,21.58 444.55,21.46 444.65,21.33 444.76,21.21 444.86,21.09 444.97,20.97 445.07,20.86 445.18,20.75 445.28,20.64 445.39,20.53 445.49,20.42 445.60,20.32 445.70,20.22 445.81,20.12 445.92,20.02 446.02,19.93 446.13,19.83 446.23,19.74 446.34,19.65 446.44,19.57 446.55,19.49 446.65,19.40 446.76,19.32 446.86,19.25 446.97,19.17 447.07,19.10 447.18,19.03 447.28,18.96 447.39,18.90 447.49,18.83 447.60,18.77 447.70,18.71 447.81,18.66 447.91,18.60 448.02,18.55 448.13,18.50 448.23,18.45 448.34,18.41 448.44,18.36 448.55,18.32 448.65,18.29 448.76,18.25 448.86,18.22 448.97,18.18 449.07,18.15 449.18,18.13 449.28,18.10 449.39,18.08 449.49,18.06 449.60,18.04 449.70,18.03 449.81,18.01 449.91,18.00 450.02,17.99 450.13,17.99 450.23,17.98 450.34,17.98 450.44,17.98 450.55,17.98 450.65,17.99 450.76,17.99 450.86,18.00 450.97,18.02 451.07,18.03 451.18,18.05 451.28,18.06 451.39,18.09 451.49,18.11 451.60,18.13 451.70,18.16 451.81,18.19 451.91,18.22 452.02,18.26 452.12,18.30 452.23,18.33 452.34,18.38 452.44,18.42 452.55,18.46 452.65,18.51 452.76,18.56 452.86,18.62 452.97,18.67 453.07,18.73 453.18,18.79 453.28,18.85 453.39,18.91 453.49,18.98 453.60,19.05 453.70,19.12 453.81,19.19 453.91,19.27 454.02,19.34 454.12,19.42 454.23,19.51 454.33,19.59 454.44,19.68 454.55,19.77 454.65,19.86 454.76,19.95 454.86,20.04 454.97,20.14 455.07,20.24 455.18,20.34 455.28,20.45 455.39,20.55 455.49,20.66 455.60,20.77 455.70,20.89 455.81,21.00 455.91,21.12 456.02,21.24 456.12,21.36 456.23,21.49 456.33,21.61 456.44,21.74 456.54,21.87 456.65,22.00 456.76,22.14 456.86,22.28 456.97,22.42 457.07,22.56 457.18,22.70 457.28,22.85 457.39,23.00 457.49,23.15 457.60,23.30 457.70,23.45 457.81,23.61 457.91,23.77 458.02,23.93 458.12,24.09 458.23,24.26 458.33,24.43 458.44,24.59 458.54,24.77 458.65,24.94 458.75,25.12 458.86,25.29 458.97,25.47 459.07,25.66 459.18,25.84 459.28,26.03 459.39,26.21 459.49,26.40 459.60,26.60 459.70,26.79 459.81,26.99 459.91,27.19 460.02,27.39 460.12,27.59 460.23,27.80 460.33,28.00 460.44,28.21 460.54,28.42 460.65,28.63 460.75,28.85 460.86,29.07 460.96,29.29 461.07,29.51 461.18,29.73 461.28,29.95 461.39,30.18 461.49,30.41 461.60,30.64 461.70,30.87 461.81,31.11 461.91,31.34 462.02,31.58 462.12,31.82 462.23,32.07 462.33,32.31 462.44,32.56 462.54,32.80 462.65,33.06 462.75,33.31 462.86,33.56 462.96,33.82 463.07,34.07 463.18,34.33 463.28,34.60 463.39,34.86 463.49,35.12 463.60,35.39 463.70,35.66 463.81,35.93 463.91,36.20 464.02,36.48 464.12,36.75 464.23,37.03 464.33,37.31 464.44,37.59 464.54,37.88 464.65,38.16 464.75,38.45 464.86,38.74 464.96,39.03 465.07,39.32 465.17,39.61 465.28,39.91 465.39,40.21 465.49,40.50 465.60,40.81 465.70,41.11 465.81,41.41 465.91,41.72 466.02,42.03 466.12,42.33 466.23,42.65 466.33,42.96 466.44,43.27 466.54,43.59 466.65,43.91 466.75,44.22 466.86,44.55 466.96,44.87 467.07,45.19 467.17,45.52 467.28,45.84 467.38,46.17 467.49,46.50 467.60,46.83 467.70,47.17 467.81,47.50 467.91,47.84 468.02,48.18 468.12,48.52 468.23,48.86 468.33,49.20 468.44,49.54 468.54,49.89 468.65,50.24 468.75,50.59 468.86,50.93 468.96,51.29 469.07,51.64 469.17,51.99 469.28,52.35 469.38,52.71 469.49,53.06 469.59,53.42 469.70,53.79 469.81,54.15 469.91,54.51 470.02,54.88 470.12,55.24 470.23,55.61 470.33,55.98 470.44,56.35 470.54,56.72 470.65,57.10 470.75,57.47 470.86,57.85 470.96,58.22 471.07,58.60 471.17,58.98 471.28,59.36 471.38,59.74 471.49,60.13 471.59,60.51 471.70,60.90 471.80,61.29 471.91,61.67 472.02,62.06 472.12,62.45 472.23,62.84 472.33,63.24 472.44,63.63 472.54,64.03 472.65,64.42 472.75,64.82 472.86,65.22 472.96,65.62 473.07,66.02 473.17,66.42 473.28,66.82 473.38,67.23 473.49,67.63 473.59,68.04 473.70,68.44 473.80,68.85 473.91,69.26 474.02,69.67 474.12,70.08 474.23,70.49 474.33,70.90 474.44,71.32 474.54,71.73 474.65,72.15 474.75,72.56 474.86,72.98 474.96,73.40 475.07,73.82 475.17,74.24 475.28,74.66 475.38,75.08 475.49,75.50 475.59,75.93 475.70,76.35 475.80,76.78 475.91,77.20 476.01,77.63 476.12,78.05 476.23,78.48 476.33,78.91 476.44,79.34 476.54,79.77 476.65,80.20 476.75,80.63 476.86,81.07 476.96,81.50 477.07,81.93 477.17,82.37 477.28,82.80 477.38,83.24 477.49,83.67 477.59,84.11 477.70,84.55 477.80,84.99 477.91,85.43 478.01,85.86 478.12,86.30 478.22,86.74 478.33,87.19 478.44,87.63 478.54,88.07 478.65,88.51 478.75,88.95 478.86,89.40 478.96,89.84 479.07,90.29 479.17,90.73 479.28,91.18 479.38,91.62 479.49,92.07 479.59,92.51 479.70,92.96 479.80,93.41 479.91,93.86 480.01,94.30 480.12,94.75 480.22,95.20 480.33,95.65 480.43,96.10 480.54,96.55 480.65,97.00 480.75,97.45 480.86,97.90 480.96,98.35 481.07,98.80 481.17,99.25 481.28,99.71 481.38,100.16 481.49,100.61 481.59,101.06 481.70,101.51 481.80,101.97 481.91,102.42 482.01,102.87 482.12,103.33 482.22,103.78 482.33,104.23 482.43,104.68 482.54,105.14 482.64,105.59 482.75,106.05 482.86,106.50 482.96,106.95 483.07,107.41 483.17,107.86 483.28,108.31 483.38,108.77 483.49,109.22 483.59,109.67 483.70,110.13 483.80,110.58 483.91,111.04 484.01,111.49 484.12,111.94 484.22,112.39 484.33,112.85 484.43,113.30 484.54,113.75 484.64,114.21 484.75,114.66 484.85,115.11 484.96,115.56 485.07,116.02 485.17,116.47 485.28,116.92 485.38,117.37 485.49,117.82 485.59,118.27 485.70,118.72 485.80,119.17 485.91,119.62 486.01,120.07 486.12,120.52 486.22,120.97 486.33,121.42 486.43,121.87 486.54,122.32 486.64,122.77 486.75,123.21 486.85,123.66 486.96,124.11 487.07,124.55 487.17,125.00 487.28,125.45 487.38,125.89 487.49,126.34 487.59,126.78 487.70,127.22 487.80,127.67 487.91,128.11 488.01,128.55 488.12,128.99 488.22,129.44 488.33,129.88 488.43,130.32 488.54,130.76 488.64,131.19 488.75,131.63 488.85,132.07 488.96,132.51 489.06,132.94 489.17,133.38 489.28,133.82 489.38,134.25 489.49,134.68 489.59,135.12 489.70,135.55 489.80,135.98 489.91,136.41 490.01,136.84 490.12,137.27 490.22,137.70 490.33,138.13 490.43,138.56 490.54,138.99 490.64,139.41 490.75,139.84 490.85,140.26 490.96,140.69 491.06,141.11 491.17,141.53 491.27,141.95 491.38,142.37 491.49,142.79 491.59,143.21 491.70,143.63 491.80,144.04 491.91,144.46 492.01,144.88 492.12,145.29 492.22,145.70 492.33,146.11 492.43,146.53 492.54,146.94 492.64,147.34 492.75,147.75 492.85,148.16 492.96,148.57 493.06,148.97 493.17,149.38 493.27,149.78 493.38,150.18 493.48,150.58 493.59,150.98 493.70,151.38 493.80,151.78 493.91,152.18 494.01,152.57 494.12,152.97 494.22,153.36 494.33,153.75 494.43,154.14 494.54,154.53 494.64,154.92 494.75,155.31 494.85,155.69 494.96,156.08 495.06,156.46 495.17,156.85 495.27,157.23 495.38,157.61 495.48,157.99 495.59,158.36 495.69,158.74 495.80,159.12 495.91,159.49 496.01,159.86 496.12,160.23 496.22,160.60 496.33,160.97 496.43,161.34 496.54,161.71 496.64,162.07 496.75,162.43 496.85,162.80 496.96,163.16 497.06,163.52 497.17,163.87 497.27,164.23 497.38,164.58 497.48,164.94 497.59,165.29 497.69,165.64 497.80,165.99 497.90,166.34 498.01,166.68 498.12,167.03 498.22,167.37 498.33,167.71 498.43,168.05 498.54,168.39 498.64,168.73 498.75,169.06 498.85,169.40 498.96,169.73 499.06,170.06 499.17,170.39 499.27,170.72 499.38,171.05 499.48,171.37 499.59,171.69 499.69,172.02 499.80,172.34 499.90,172.65 500.01,172.97 500.12,173.29 500.22,173.60 500.33,173.91 500.43,174.22 500.54,174.53 500.64,174.84 500.75,175.14 500.85,175.44 500.96,175.75 501.06,176.05 501.17,176.34 501.27,176.64 501.38,176.93 501.48,177.23 501.59,177.52 501.69,177.81 501.80,178.10 501.90,178.38 502.01,178.67 502.11,178.95 502.22,179.23 502.33,179.51 502.43,179.78 502.54,180.06 502.64,180.33 502.75,180.61 502.85,180.87 502.96,181.14 503.06,181.41 503.17,181.67 503.27,181.94 503.38,182.20 503.48,182.45 503.59,182.71 503.69,182.97 503.80,183.22 503.90,183.47 504.01,183.72 504.11,183.97 504.22,184.21 504.32,184.46 504.43,184.70 504.54,184.94 504.64,185.17 504.75,185.41 504.85,185.64 504.96,185.88 505.06,186.10 505.17,186.33 505.27,186.56 505.38,186.78 505.48,187.00 505.59,187.22 505.69,187.44 505.80,187.66 505.90,187.87 506.01,188.08 506.11,188.29 506.22,188.50 506.32,188.71 506.43,188.91 506.53,189.11 506.64,189.31 506.75,189.51 506.85,189.71 506.96,189.90 507.06,190.09 507.17,190.28 507.27,190.47 507.38,190.65 507.48,190.84 507.59,191.02 507.69,191.20 507.80,191.37 507.90,191.55 508.01,191.72 508.11,191.89 508.22,192.06 508.32,192.22 508.43,192.39 508.53,192.55 508.64,192.71 508.74,192.87 508.85,193.02 508.96,193.18 509.06,193.33 509.17,193.48 509.27,193.63 509.38,193.77 509.48,193.91 509.59,194.05 509.69,194.19 509.80,194.33 509.90,194.46 510.01,194.59 510.11,194.72 510.22,194.85 510.32,194.98 510.43,195.10 510.53,195.22 510.64,195.34 510.74,195.45 510.85,195.57 510.95,195.68 511.06,195.79 511.17,195.90 511.27,196.00 511.38,196.11 511.48,196.21 511.59,196.31 511.69,196.40 511.80,196.50 511.90,196.59 512.01,196.68 512.11,196.77 512.22,196.85 512.32,196.94 512.43,197.02 512.53,197.09 512.64,197.17 512.74,197.25 512.85,197.32 512.95,197.39 513.06,197.45 513.17,197.52 513.27,197.58 513.38,197.64 513.48,197.70 513.59,197.76 513.69,197.81 513.80,197.86 513.90,197.91 514.01,197.96 514.11,198.00 514.22,198.05 514.32,198.09 514.43,198.12 514.53,198.16 514.64,198.19 514.74,198.22 514.85,198.25 514.95,198.28 515.06,198.30 515.16,198.33 515.27,198.34 515.38,198.36 515.48,198.38 515.59,198.39 515.69,198.40 515.80,198.41 515.90,198.41 516.01,198.42 516.11,198.42 516.22,198.42 516.32,198.42 516.43,198.41 516.53,198.40 516.64,198.39 516.74,198.38 516.85,198.37 516.95,198.35 517.06,198.33 517.16,198.31 517.27,198.29 517.37,198.26 517.48,198.23 517.59,198.20 517.69,198.17 517.80,198.13 517.90,198.10 518.01,198.06 518.11,198.01 518.22,197.97 518.32,197.92 518.43,197.87 518.53,197.82 518.64,197.77 518.74,197.72 518.85,197.66 518.95,197.60 519.06,197.54 519.16,197.47 519.27,197.40 519.37,197.33 519.48,197.26 519.58,197.19 519.69,197.11 519.80,197.04 519.90,196.96 520.01,196.87 520.11,196.79 520.22,196.70 520.32,196.61 520.43,196.52 520.53,196.43 520.64,196.33 520.74,196.23 520.85,196.13 520.95,196.03 521.06,195.93 521.16,195.82 521.27,195.71 521.37,195.60 521.48,195.48 521.58,195.37 521.69,195.25 521.79,195.13 521.90,195.01 522.01,194.88 522.11,194.76 522.22,194.63 522.32,194.49 522.43,194.36 522.53,194.23 522.64,194.09 522.74,193.95 522.85,193.81 522.95,193.66 523.06,193.52 523.16,193.37 523.27,193.22 523.37,193.06 523.48,192.91 523.58,192.75 523.69,192.59 523.79,192.43 523.90,192.27 524.01,192.10 524.11,191.93 524.22,191.76 524.32,191.59 524.43,191.42 524.53,191.24 524.64,191.06 524.74,190.88 524.85,190.70 524.95,190.51 525.06,190.33 525.16,190.14 525.27,189.95 525.37,189.75 525.48,189.56 525.58,189.36 525.69,189.16 525.79,188.96 525.90,188.76 526.00,188.55 526.11,188.35 526.22,188.14 526.32,187.93 526.43,187.71 526.53,187.50 526.64,187.28 526.74,187.06 526.85,186.84 526.95,186.61 527.06,186.39 527.16,186.16 527.27,185.93 527.37,185.70 527.48,185.47 527.58,185.23 527.69,185.00 527.79,184.76 527.90,184.52 528.00,184.27 528.11,184.03 528.21,183.78 528.32,183.53 528.43,183.28 528.53,183.03 528.64,182.78 528.74,182.52 528.85,182.26 528.95,182.00 529.06,181.74 529.16,181.48 529.27,181.21 529.37,180.94 529.48,180.67 529.58,180.40 529.69,180.13 529.79,179.85 529.90,179.58 530.00,179.30 530.11,179.02 530.21,178.74 530.32,178.45 530.42,178.17 530.53,177.88 530.64,177.59 530.74,177.30 530.85,177.01 530.95,176.71 531.06,176.42 531.16,176.12 531.27,175.82 531.37,175.52 531.48,175.22 531.58,174.91 531.69,174.61 531.79,174.30 531.90,173.99 532.00,173.68 532.11,173.36 532.21,173.05 532.32,172.73 532.42,172.41 532.53,172.10 532.63,171.77 532.74,171.45 532.85,171.13 532.95,170.80 533.06,170.47 533.16,170.14 533.27,169.81 533.37,169.48 533.48,169.15 533.58,168.81 533.69,168.48 533.79,168.14 533.90,167.80 534.00,167.46 534.11,167.11 534.21,166.77 534.32,166.42 534.42,166.08 534.53,165.73 534.63,165.38 534.74,165.03 534.84,164.67 534.95,164.32 535.06,163.96 535.16,163.60 535.27,163.25 535.37,162.89 535.48,162.52 535.58,162.16 535.69,161.80 535.79,161.43 535.90,161.06 536.00,160.70 536.11,160.33 536.21,159.96 536.32,159.58 536.42,159.21 536.53,158.84 536.63,158.46 536.74,158.08 536.84,157.70 536.95,157.32 537.06,156.94 537.16,156.56 537.27,156.18 537.37,155.79 537.48,155.41 537.58,155.02 537.69,154.63 537.79,154.24 537.90,153.85 538.00,153.46 538.11,153.06 538.21,152.67 538.32,152.27 538.42,151.88 538.53,151.48 538.63,151.08 538.74,150.68 538.84,150.28 538.95,149.88 539.05,149.48 539.16,149.07 539.27,148.67 539.37,148.26 539.48,147.86 539.58,147.45 539.69,147.04 539.79,146.63 539.90,146.22 540.00,145.81 540.11,145.39 540.21,144.98 540.32,144.56 540.42,144.15 540.53,143.73 540.63,143.31 540.74,142.90 540.84,142.48 540.95,142.06 541.05,141.64 541.16,141.21 541.26,140.79 541.37,140.37 541.48,139.94 541.58,139.52 541.69,139.09 541.79,138.67 541.90,138.24 542.00,137.81 542.11,137.38 542.21,136.95 542.32,136.52 542.42,136.09 542.53,135.66 542.63,135.23 542.74,134.79 542.84,134.36 542.95,133.92 543.05,133.49 543.16,133.05 543.26,132.62 543.37,132.18 543.47,131.74 543.58,131.30 543.69,130.87 543.79,130.43 543.90,129.99 544.00,129.55 544.11,129.10 544.21,128.66 544.32,128.22 544.42,127.78 544.53,127.33 544.63,126.89 544.74,126.45 544.84,126.00 544.95,125.56 545.05,125.11 545.16,124.67 545.26,124.22 545.37,123.77 545.47,123.33 545.58,122.88 545.68,122.43 545.79,121.98 545.90,121.53 546.00,121.09 546.11,120.64 546.21,120.19 546.32,119.74 546.42,119.29 546.53,118.84 546.63,118.39 546.74,117.94 546.84,117.48 546.95,117.03 547.05,116.58 547.16,116.13 547.26,115.68 547.37,115.22 547.47,114.77 547.58,114.32 547.68,113.87 547.79,113.41 547.89,112.96 548.00,112.51 548.11,112.06 548.21,111.60 548.32,111.15 548.42,110.69 548.53,110.24 548.63,109.79 548.74,109.33 548.84,108.88 548.95,108.43 549.05,107.97 549.16,107.52 549.26,107.07 549.37,106.61 549.47,106.16 549.58,105.71 549.68,105.25 549.79,104.80 549.89,104.34 550.00,103.89 550.11,103.44 550.21,102.99 550.32,102.53 550.42,102.08 550.53,101.63 550.63,101.18 550.74,100.72 550.84,100.27 550.95,99.82 551.05,99.37 551.16,98.92 551.26,98.46 551.37,98.01 551.47,97.56 551.58,97.11 551.68,96.66 551.79,96.21 551.89,95.76 552.00,95.31 552.10,94.87 552.21,94.42 552.32,93.97 552.42,93.52 552.53,93.07 552.63,92.63 552.74,92.18 552.84,91.73 552.95,91.29 553.05,90.84 553.16,90.40 553.26,89.95 553.37,89.51 553.47,89.07 553.58,88.62 553.68,88.18 553.79,87.74 553.89,87.30 554.00,86.85 554.10,86.41 554.21,85.97 554.31,85.53 554.42,85.10 554.53,84.66 554.63,84.22 554.74,83.78 554.84,83.35 554.95,82.91 555.05,82.48 555.16,82.04 555.26,81.61 555.37,81.17 555.47,80.74 555.58,80.31 555.68,79.88 555.79,79.45 555.89,79.02 556.00,78.59 556.10,78.16 556.21,77.73 556.31,77.31 556.42,76.88 556.52,76.46 556.63,76.03 556.74,75.61 556.84,75.19 556.95,74.76 557.05,74.34 557.16,73.92 557.26,73.50 557.37,73.09 557.47,72.67 557.58,72.25 557.68,71.84 557.79,71.42 557.89,71.01 558.00,70.59 558.10,70.18 558.21,69.77 558.31,69.36 558.42,68.95 558.52,68.54 558.63,68.14 558.73,67.73 558.84,67.33 558.95,66.92 559.05,66.52 559.16,66.12 559.26,65.72 559.37,65.32 559.47,64.92 559.58,64.52 559.68,64.13 559.79,63.73 559.89,63.34 560.00,62.94 560.10,62.55 560.21,62.16 560.31,61.77 560.42,61.38 560.52,60.99 560.63,60.61 560.73,60.22 560.84,59.84 560.94,59.46 561.05,59.08 561.16,58.70 561.26,58.32 561.37,57.94 561.47,57.56 561.58,57.19 561.68,56.82 561.79,56.44 561.89,56.07 562.00,55.70 562.10,55.34 562.21,54.97 562.31,54.60 562.42,54.24 562.52,53.88 562.63,53.51 562.73,53.15 562.84,52.80 562.94,52.44 563.05,52.08 563.16,51.73 563.26,51.37 563.37,51.02 563.47,50.67 563.58,50.32 563.68,49.98 563.79,49.63 563.89,49.29 564.00,48.94 564.10,48.60 564.21,48.26 564.31,47.92 564.42,47.59 564.52,47.25 564.63,46.92 564.73,46.59 564.84,46.26 564.94,45.93 565.05,45.60 565.15,45.27 565.26,44.95 565.37,44.63 565.47,44.30 565.58,43.99 565.68,43.67 565.79,43.35 565.89,43.04 566.00,42.72 566.10,42.41 566.21,42.10 566.31,41.79 566.42,41.49 566.52,41.18 566.63,40.88 566.73,40.58 566.84,40.28 566.94,39.98 567.05,39.69 567.15,39.39 567.26,39.10 567.36,38.81 567.47,38.52 567.58,38.23 567.68,37.95 567.79,37.66 567.89,37.38 568.00,37.10 568.10,36.82 568.21,36.55 568.31,36.27 568.42,36.00 568.52,35.73 568.63,35.46 568.73,35.19 568.84,34.92 568.94,34.66 569.05,34.40 569.15,34.14 569.26,33.88 569.36,33.62 569.47,33.37 569.57,33.12 569.68,32.87 569.79,32.62 569.89,32.37 570.00,32.13 570.10,31.88 570.21,31.64 570.31,31.40 570.42,31.17 570.52,30.93 570.63,30.70 570.73,30.47 570.84,30.24 570.94,30.01 571.05,29.79 571.15,29.56 571.26,29.34 571.36,29.12 571.47,28.90 571.57,28.69 571.68,28.47 571.78,28.26 571.89,28.05 572.00,27.85 572.10,27.64 572.21,27.44 572.31,27.24 572.42,27.04 572.52,26.84 572.63,26.65 572.73,26.45 572.84,26.26 572.94,26.07 573.05,25.89 573.15,25.70 573.26,25.52 573.36,25.34 573.47,25.16 573.57,24.98 573.68,24.81 573.78,24.64 573.89,24.47 573.99,24.30 574.10,24.13 574.21,23.97 574.31,23.81 574.42,23.65 574.52,23.49 574.63,23.34 574.73,23.18 574.84,23.03 574.94,22.88 575.05,22.74 575.15,22.59 575.26,22.45 575.36,22.31 575.47,22.17 575.57,22.04 575.68,21.91 575.78,21.77 575.89,21.64 575.99,21.52 576.10,21.39 576.21,21.27 576.31,21.15 576.42,21.03 576.52,20.92 576.63,20.80 576.73,20.69 576.84,20.58 576.94,20.47 577.05,20.37 577.15,20.27 577.26,20.17 577.36,20.07 577.47,19.97 577.57,19.88 577.68,19.79 577.78,19.70 577.89,19.61 577.99,19.53 578.10,19.44 578.20,19.36 578.31,19.29 578.42,19.21 578.52,19.14 578.63,19.07 578.73,19.00 578.84,18.93 578.94,18.86 579.05,18.80 579.15,18.74 579.26,18.68 579.36,18.63 579.47,18.58 579.57,18.53 579.68,18.48 579.78,18.43 579.89,18.39 579.99,18.34 580.10,18.30 580.20,18.27 580.31,18.23 580.41,18.20 580.52,18.17 580.63,18.14 580.73,18.11 580.84,18.09 580.94,18.07 581.05,18.05 581.15,18.03 581.26,18.02 581.36,18.01 581.47,18.00 581.57,17.99 581.68,17.98 581.78,17.98 581.89,17.98 581.99,17.98 582.10,17.99 582.20,17.99 582.31,18.00 582.41,18.01 582.52,18.02 582.62,18.04 582.73,18.06 582.84,18.07 582.94,18.10 583.05,18.12 583.15,18.15 583.26,18.18 583.36,18.21 583.47,18.24 583.57,18.28 583.68,18.31 583.78,18.35 583.89,18.40 583.99,18.44 584.10,18.49 584.20,18.54 584.31,18.59 584.41,18.64 584.52,18.70 584.62,18.76 584.73,18.82 584.83,18.88 584.94,18.95 585.05,19.01 585.15,19.08 585.26,19.15 585.36,19.23 585.47,19.31 585.57,19.38 585.68,19.46 585.78,19.55 585.89,19.63 585.99,19.72 586.10,19.81 586.20,19.90 586.31,20.00 586.41,20.09 586.52,20.19 586.62,20.29 586.73,20.40 586.83,20.50 586.94,20.61 587.05,20.72 587.15,20.83 587.26,20.95 587.36,21.06 587.47,21.18 587.57,21.30 587.68,21.42 587.78,21.55 587.89,21.68 587.99,21.81 588.10,21.94 588.20,22.07 588.31,22.21 588.41,22.35 588.52,22.49 588.62,22.63 588.73,22.77 588.83,22.92 588.94,23.07 589.04,23.22 589.15,23.38 589.26,23.53 589.36,23.69 589.47,23.85 589.57,24.01 589.68,24.18 589.78,24.34 589.89,24.51 589.99,24.68 590.10,24.85 590.20,25.03 590.31,25.20 590.41,25.38 590.52,25.56 590.62,25.75 590.73,25.93 590.83,26.12 590.94,26.31 591.04,26.50 591.15,26.69 591.25,26.89 591.36,27.09 591.47,27.29 591.57,27.49 591.68,27.69 591.78,27.90 591.89,28.11 591.99,28.32 592.10,28.53 592.20,28.74 592.31,28.96 592.41,29.18 592.52,29.40 592.62,29.62 592.73,29.84 592.83,30.07 592.94,30.30 593.04,30.52 593.15,30.76 593.25,30.99 593.36,31.23 593.46,31.46 593.57,31.70 593.68,31.94 593.78,32.19 593.89,32.43 593.99,32.68 594.10,32.93 594.20,33.18 594.31,33.43 594.41,33.69 594.52,33.95 594.62,34.20 594.73,34.46 594.83,34.73 594.94,34.99 595.04,35.26 595.15,35.53 595.25,35.79 595.36,36.07 595.46,36.34 595.57,36.62 595.67,36.89 595.78,37.17 595.89,37.45 595.99,37.73 596.10,38.02 596.20,38.30 596.31,38.59 596.41,38.88 596.52,39.17 596.62,39.47 596.73,39.76 596.83,40.06 596.94,40.35 597.04,40.65 597.15,40.96 597.25,41.26 597.36,41.56 597.46,41.87 597.57,42.18 597.67,42.49 597.78,42.80 597.88,43.11 597.99,43.43 598.10,43.75 598.20,44.06 598.31,44.38 598.41,44.71 598.52,45.03 598.62,45.35 598.73,45.68 598.83,46.01 598.94,46.34 599.04,46.67 599.15,47.00 599.25,47.34 599.36,47.67 599.46,48.01 599.57,48.35 599.67,48.69 599.78,49.03 599.88,49.37 599.99,49.72 600.10,50.06 600.20,50.41 600.31,50.76 600.41,51.11 600.52,51.46 600.62,51.82 600.73,52.17 600.83,52.53 600.94,52.88 601.04,53.24 601.15,53.60 601.25,53.97 601.36,54.33 601.46,54.69 601.57,55.06 601.67,55.43 601.78,55.80 601.88,56.17 601.99,56.54 602.09,56.91 602.20,57.28 602.31,57.66 602.41,58.04 602.52,58.41 602.62,58.79 602.73,59.17 602.83,59.55 602.94,59.94 603.04,60.32 603.15,60.71 603.25,61.09 603.36,61.48 603.46,61.87 603.57,62.26 603.67,62.65 603.78,63.04 603.88,63.43 603.99,63.83 604.09,64.22 604.20,64.62 604.30,65.02 604.41,65.42 604.52,65.82 604.62,66.22 604.73,66.62 604.83,67.02 604.94,67.43 605.04,67.83 605.15,68.24 605.25,68.65 605.36,69.06 605.46,69.46 605.57,69.87 605.67,70.29 605.78,70.70 605.88,71.11 605.99,71.52 606.09,71.94 606.20,72.36 606.30,72.77 606.41,73.19 606.51,73.61 606.62,74.03 606.73,74.45 606.83,74.87 606.94,75.29 607.04,75.71 607.15,76.14 607.25,76.56 607.36,76.99 607.46,77.41 607.57,77.84 607.67,78.27 607.78,78.70 607.88,79.13 607.99,79.56 608.09,79.99 608.20,80.42 608.30,80.85 608.41,81.28 608.51,81.72 608.62,82.15 608.72,82.58 608.83,83.02 608.94,83.46 609.04,83.89 609.15,84.33 609.25,84.77 609.36,85.21 609.46,85.64 609.57,86.08 609.67,86.52 609.78,86.96 609.88,87.41 609.99,87.85 610.09,88.29 610.20,88.73 610.30,89.18 610.41,89.62 610.51,90.06 610.62,90.51 610.72,90.95 610.83,91.40 610.93,91.85 611.04,92.29 611.15,92.74 611.25,93.19 611.36,93.63 611.46,94.08 611.57,94.53 611.67,94.98 611.78,95.43 611.88,95.88 611.99,96.33 612.09,96.78 612.20,97.23 612.30,97.68 612.41,98.13 612.51,98.58 612.62,99.03 612.72,99.48 612.83,99.93 612.93,100.38 613.04,100.84 613.15,101.29 613.25,101.74 613.36,102.19 613.46,102.65 613.57,103.10 613.67,103.55 613.78,104.01 613.88,104.46 613.99,104.91 614.09,105.36 614.20,105.82 614.30,106.27 614.41,106.73 614.51,107.18 614.62,107.63 614.72,108.09 614.83,108.54 614.93,108.99 615.04,109.45 615.14,109.90 615.25,110.35 615.36,110.81 615.46,111.26 615.57,111.72 615.67,112.17 615.78,112.62 615.88,113.07 615.99,113.53 616.09,113.98 616.20,114.43 616.30,114.89 616.41,115.34 616.51,115.79 616.62,116.24 616.72,116.69 616.83,117.15 616.93,117.60 617.04,118.05 617.14,118.50 617.25,118.95 617.35,119.40 617.46,119.85 617.57,120.30 617.67,120.75 617.78,121.20 617.88,121.65 617.99,122.10 618.09,122.54 618.20,122.99 618.30,123.44 618.41,123.89 618.51,124.33 618.62,124.78 618.72,125.22 618.83,125.67 618.93,126.11 619.04,126.56 619.14,127.00 619.25,127.45 619.35,127.89 619.46,128.33 619.56,128.77 619.67,129.21 619.78,129.66 619.88,130.10 619.99,130.54 620.09,130.97 620.20,131.41 620.30,131.85 620.41,132.29 620.51,132.73 620.62,133.16 620.72,133.60 620.83,134.03 620.93,134.47 621.04,134.90 621.14,135.33 621.25,135.77 621.35,136.20 621.46,136.63 621.56,137.06 621.67,137.49 621.77,137.92 621.88,138.35 621.99,138.77 622.09,139.20 622.20,139.62 622.30,140.05 622.41,140.47 622.51,140.90 622.62,141.32 622.72,141.74 622.83,142.16 622.93,142.58 623.04,143.00 623.14,143.42 623.25,143.84 623.35,144.25 623.46,144.67 623.56,145.08 623.67,145.50 623.77,145.91 623.88,146.32 623.98,146.73 624.09,147.14 624.20,147.55 624.30,147.96 624.41,148.36 624.51,148.77 624.62,149.17 624.72,149.58 624.83,149.98 624.93,150.38 625.04,150.78 625.14,151.18 625.25,151.58 625.35,151.98 625.46,152.37 625.56,152.77 625.67,153.16 625.77,153.56 625.88,153.95 625.98,154.34 626.09,154.73 626.20,155.11 626.30,155.50 626.41,155.89 626.51,156.27 626.62,156.66 626.72,157.04 626.83,157.42 626.93,157.80 627.04,158.18 627.14,158.55 627.25,158.93 627.35,159.30 627.46,159.68 627.56,160.05 627.67,160.42 627.77,160.79 627.88,161.16 627.98,161.52 628.09,161.89 628.19,162.25 628.30,162.61 628.41,162.98 628.51,163.34 628.62,163.69 628.72,164.05 628.83,164.41 628.93,164.76 629.04,165.11 629.14,165.47 629.25,165.81 629.35,166.16 629.46,166.51 629.56,166.86 629.67,167.20 629.77,167.54 629.88,167.88 629.98,168.22 630.09,168.56 630.19,168.90 630.30,169.23 630.40,169.57 630.51,169.90 630.62,170.23 630.72,170.56 630.83,170.88 630.93,171.21 631.04,171.53 631.14,171.85 631.25,172.18 631.35,172.49 631.46,172.81 631.56,173.13 631.67,173.44 631.77,173.75 631.88,174.07 631.98,174.37 632.09,174.68 632.19,174.99 632.30,175.29 632.40,175.59 632.51,175.90 632.61,176.19 632.72,176.49 632.83,176.79 632.93,177.08 633.04,177.37 633.14,177.66 633.25,177.95 633.35,178.24 633.46,178.52 633.56,178.81 633.67,179.09 633.77,179.37 633.88,179.65 633.98,179.92 634.09,180.20 634.19,180.47 634.30,180.74 634.40,181.01 634.51,181.28 634.61,181.54 634.72,181.80 634.82,182.07 634.93,182.33 635.04,182.58 635.14,182.84 635.25,183.09 635.35,183.34 635.46,183.60 635.56,183.84 635.67,184.09 635.77,184.33 635.88,184.58 635.98,184.82 636.09,185.06 636.19,185.29 636.30,185.53 636.40,185.76 636.51,185.99 636.61,186.22 636.72,186.45 636.82,186.67 636.93,186.89 637.04,187.11 637.14,187.33 637.25,187.55 637.35,187.77 637.46,187.98 637.56,188.19 637.67,188.40 637.77,188.60 637.88,188.81 637.98,189.01 638.09,189.21 638.19,189.41 638.30,189.61 638.40,189.80 638.51,190.00 638.61,190.19 638.72,190.37 638.82,190.56 638.93,190.74 639.03,190.93 639.14,191.11 639.25,191.28 639.35,191.46 639.46,191.63 639.56,191.81 639.67,191.97 639.77,192.14 639.88,192.31 639.98,192.47 640.09,192.63 640.19,192.79 640.30,192.95 640.40,193.10 640.51,193.25 640.61,193.40 640.72,193.55 640.82,193.70 640.93,193.84 641.03,193.98 641.14,194.12 641.24,194.26 641.35,194.40 641.46,194.53 641.56,194.66 641.67,194.79 641.77,194.91 641.88,195.04 641.98,195.16 642.09,195.28 642.19,195.40 642.30,195.51 642.40,195.63 642.51,195.74 642.61,195.85 642.72,195.95 642.82,196.06 642.93,196.16 643.03,196.26 643.14,196.36 643.24,196.45 643.35,196.54 643.45,196.63 643.56,196.72 643.67,196.81 643.77,196.89 643.88,196.98 643.98,197.06 644.09,197.13 644.19,197.21 644.30,197.28 644.40,197.35 644.51,197.42 644.61,197.49 644.72,197.55 644.82,197.61 644.93,197.67 645.03,197.73 645.14,197.78 645.24,197.84 645.35,197.89 645.45,197.94 645.56,197.98 645.66,198.02 645.77,198.07 645.88,198.10 645.98,198.14 646.09,198.18 646.19,198.21 646.30,198.24 646.40,198.27 646.51,198.29 646.61,198.31 646.72,198.34 646.82,198.35 646.93,198.37 647.03,198.38 647.14,198.40 647.24,198.41 647.35,198.41 647.45,198.42 647.56,198.42 647.66,198.42 647.77,198.42 647.87,198.41 647.98,198.41 648.09,198.40 648.19,198.39 648.30,198.37 648.40,198.36 648.51,198.34 648.61,198.32 648.72,198.30 648.82,198.27 648.93,198.25 649.03,198.22 649.14,198.18 649.24,198.15 649.35,198.11 649.45,198.08 649.56,198.04 649.66,197.99 649.77,197.95 649.87,197.90 649.98,197.85 650.09,197.80 650.19,197.74 650.30,197.69 650.40,197.63 650.51,197.57 650.61,197.50 650.72,197.44 650.82,197.37 650.93,197.30 651.03,197.23 651.14,197.15 651.24,197.08 651.35,197.00 651.45,196.91 651.56,196.83 651.66,196.75 651.77,196.66 651.87,196.57 651.98,196.47 652.08,196.38 652.19,196.28 652.30,196.18 652.40,196.08 652.51,195.98 652.61,195.87 652.72,195.76 652.82,195.65 652.93,195.54 653.03,195.43 653.14,195.31 653.24,195.19 653.35,195.07 653.45,194.94 653.56,194.82 653.66,194.69 653.77,194.56 653.87,194.43 653.98,194.29 654.08,194.16 654.19,194.02 654.29,193.88 654.40,193.73 654.51,193.59 654.61,193.44 654.72,193.29 654.82,193.14 654.93,192.99 655.03,192.83 655.14,192.67 655.24,192.51 655.35,192.35 655.45,192.18 655.56,192.02 655.66,191.85 655.77,191.68 655.87,191.50 655.98,191.33 656.08,191.15 656.19,190.97 656.29,190.79 656.40,190.61 656.50,190.42 656.61,190.23 656.72,190.04 656.82,189.85 656.93,189.66 657.03,189.46 657.14,189.26 657.24,189.06 657.35,188.86 657.45,188.66 657.56,188.45 657.66,188.24 657.77,188.03 657.87,187.82 657.98,187.60 658.08,187.39 658.19,187.17 658.29,186.95 658.40,186.73 658.50,186.50 658.61,186.28 658.71,186.05 658.82,185.82 658.93,185.59 659.03,185.35 659.14,185.11 659.24,184.88 659.35,184.64 659.45,184.39 659.56,184.15 659.66,183.90 659.77,183.66 659.87,183.41 659.98,183.16 660.08,182.90 660.19,182.65 660.29,182.39 660.40,182.13 660.50,181.87 660.61,181.61 660.71,181.34 660.82,181.08 660.92,180.81 661.03,180.54 661.14,180.27 661.24,179.99 661.35,179.72 661.45,179.44 661.56,179.16 661.66,178.88 661.77,178.60 661.87,178.31 661.98,178.02 662.08,177.74 662.19,177.45 662.29,177.15 662.40,176.86 662.50,176.57 662.61,176.27 662.71,175.97 662.82,175.67 662.92,175.37 663.03,175.06 663.14,174.76 663.24,174.45 663.35,174.14 663.45,173.83 663.56,173.52 663.66,173.21 663.77,172.89 663.87,172.57 663.98,172.26 664.08,171.93 664.19,171.61 664.29,171.29 664.40,170.96 664.50,170.64 664.61,170.31 664.71,169.98 664.82,169.65 664.92,169.32 665.03,168.98 665.13,168.64 665.24,168.31 665.35,167.97 665.45,167.63 665.56,167.29 665.66,166.94 665.77,166.60 665.87,166.25 665.98,165.90 666.08,165.55 666.19,165.20 666.29,164.85 666.40,164.50 666.50,164.14 666.61,163.78 666.71,163.43 666.82,163.07 666.92,162.71 667.03,162.34 667.13,161.98 667.24,161.61 667.34,161.25 667.45,160.88 667.56,160.51 667.66,160.14 667.77,159.77 667.87,159.40 667.98,159.02 668.08,158.65 668.19,158.27 668.29,157.89 668.40,157.51 668.50,157.13 668.61,156.75 668.71,156.37 668.82,155.98 668.92,155.60 669.03,155.21 669.13,154.82 669.24,154.43 669.34,154.04 669.45,153.65 669.55,153.26 669.66,152.87 669.77,152.47 669.87,152.08 669.98,151.68 670.08,151.28 670.19,150.88 670.29,150.48 670.40,150.08 670.50,149.68 670.61,149.28 670.71,148.87 670.82,148.47 670.92,148.06 671.03,147.65 671.13,147.24 671.24,146.83 671.34,146.42 671.45,146.01 671.55,145.60 671.66,145.19 671.76,144.77 671.87,144.36 671.98,143.94 672.08,143.52 672.19,143.11 672.29,142.69 672.40,142.27 672.50,141.85 672.61,141.42 672.71,141.00 672.82,140.58 672.92,140.16 673.03,139.73 673.13,139.31 673.24,138.88 673.34,138.45 673.45,138.02 673.55,137.60 673.66,137.17 673.76,136.74 673.87,136.31 673.97,135.87 674.08,135.44 674.19,135.01 674.29,134.58 674.40,134.14 674.50,133.71 674.61,133.27 674.71,132.84 674.82,132.40 674.92,131.96 675.03,131.52 675.13,131.08 675.24,130.65 675.34,130.21 675.45,129.77 675.55,129.32 675.66,128.88 675.76,128.44 675.87,128.00 675.97,127.56 676.08,127.11 676.19,126.67 676.29,126.22 676.40,125.78 676.50,125.33 676.61,124.89 676.71,124.44 676.82,124.00 676.92,123.55 677.03,123.10 677.13,122.66 677.24,122.21 677.34,121.76 677.45,121.31 677.55,120.86 677.66,120.41 677.76,119.96 677.87,119.51 677.97,119.06 678.08,118.61 678.18,118.16 678.29,117.71 678.40,117.26 678.50,116.81 678.61,116.36 678.71,115.90 678.82,115.45 678.92,115.00 679.03,114.55 679.13,114.09 679.24,113.64 679.34,113.19 679.45,112.73 679.55,112.28 679.66,111.83 679.76,111.38 679.87,110.92 679.97,110.47 680.08,110.01 680.18,109.56 680.29,109.11 680.39,108.65 680.50,108.20" fill="none" stroke="#0072bd" stroke-width="2"/>
<path d="M417.50,109.39 417.61,109.00 417.71,108.60 417.82,108.21 417.92,107.82 418.03,107.42 418.13,106.78 418.24,106.14 418.34,105.49 418.45,104.85 418.55,104.20 418.66,103.62 418.76,103.04 418.87,102.46 418.97,101.88 419.08,101.29 419.18,100.70 419.29,100.11 419.39,99.52 419.50,98.93 419.60,98.35 419.71,98.03 419.82,97.71 419.92,97.39 420.03,97.08 420.13,96.76 420.24,96.39 420.34,96.02 420.45,95.65 420.55,95.28 420.66,94.91 420.76,94.47 420.87,94.04 420.97,93.61 421.08,93.17 421.18,92.74 421.29,92.03 421.39,91.32 421.50,90.61 421.60,89.91 421.71,89.20 421.81,88.60 421.92,87.99 422.03,87.39 422.13,86.79 422.24,86.19 422.34,85.94 422.45,85.69 422.55,85.44 422.66,85.19 422.76,84.94 422.87,84.71 422.97,84.49 423.08,84.26 423.18,84.04 423.29,83.81 423.39,83.31 423.50,82.81 423.60,82.31 423.71,81.81 423.81,81.30 423.92,80.45 424.03,79.60 424.13,78.75 424.24,77.89 424.34,77.06 424.45,76.83 424.55,76.60 424.66,76.37 424.76,76.14 424.87,75.92 424.97,75.78 425.08,75.64 425.18,75.50 425.29,75.37 425.39,75.21 425.50,74.52 425.60,73.83 425.71,73.14 425.81,72.45 425.92,71.77 426.02,71.51 426.13,71.25 426.24,71.00 426.34,70.74 426.45,70.47 426.55,69.97 426.66,69.46 426.76,68.96 426.87,68.46 426.97,67.96 427.08,67.52 427.18,67.08 427.29,66.65 427.39,66.21 427.50,65.78 427.60,65.41 427.71,65.04 427.81,64.66 427.92,64.29 428.02,63.91 428.13,63.31 428.23,62.71 428.34,62.11 428.45,61.52 428.55,60.93 428.66,60.63 428.76,60.34 428.87,60.04 428.97,59.74 429.08,59.44 429.18,59.13 429.29,58.82 429.39,58.52 429.50,58.21 429.60,57.90 429.71,57.35 429.81,56.81 429.92,56.27 430.02,55.73 430.13,55.20 430.23,54.75 430.34,54.31 430.44,53.86 430.55,53.42 430.66,53.00 430.76,53.01 430.87,53.02 430.97,53.04 431.08,53.05 431.18,53.04 431.29,52.45 431.39,51.87 431.50,51.29 431.60,50.71 431.71,50.15 431.81,49.90 431.92,49.66 432.02,49.41 432.13,49.17 432.23,48.92 432.34,48.44 432.44,47.96 432.55,47.49 432.65,47.01 432.76,46.56 432.87,46.39 432.97,46.22 433.08,46.05 433.18,45.89 433.29,45.71 433.39,45.17 433.50,44.63 433.60,44.09 433.71,43.56 433.81,43.04 433.92,42.72 434.02,42.41 434.13,42.09 434.23,41.78 434.34,41.47 434.44,41.20 434.55,40.92 434.65,40.65 434.76,40.38 434.86,40.12 434.97,39.93 435.08,39.74 435.18,39.55 435.29,39.36 435.39,39.16 435.50,38.76 435.60,38.36 435.71,37.96 435.81,37.57 435.92,37.19 436.02,37.01 436.13,36.83 436.23,36.65 436.34,36.47 436.44,36.29 436.55,36.05 436.65,35.82 436.76,35.58 436.86,35.35 436.97,35.09 437.08,34.57 437.18,34.06 437.29,33.54 437.39,33.03 437.50,32.55 437.60,32.49 437.71,32.44 437.81,32.39 437.92,32.34 438.02,32.25 438.13,31.64 438.23,31.04 438.34,30.43 438.44,29.83 438.55,29.26 438.65,29.09 438.76,28.92 438.86,28.75 438.97,28.59 439.07,28.45 439.18,28.64 439.29,28.84 439.39,29.03 439.50,29.22 439.60,29.36 439.71,28.78 439.81,28.20 439.92,27.62 440.02,27.05 440.13,26.53 440.23,26.53 440.34,26.53 440.44,26.53 440.55,26.53 440.65,26.50 440.76,26.12 440.86,25.74 440.97,25.35 441.07,24.97 441.18,24.61 441.28,24.41 441.39,24.22 441.50,24.02 441.60,23.83 441.71,23.66 441.81,23.79 441.92,23.93 442.02,24.06 442.13,24.20 442.23,24.28 442.34,23.83 442.44,23.38 442.55,22.93 442.65,22.48 442.76,22.06 442.86,21.90 442.97,21.73 443.07,21.57 443.18,21.42 443.28,21.24 443.39,20.90 443.49,20.55 443.60,20.21 443.71,19.87 443.81,19.59 443.92,19.78 444.02,19.97 444.13,20.17 444.23,20.36 444.34,20.50 444.44,20.07 444.55,19.64 444.65,19.22 444.76,18.79 444.86,18.44 444.97,18.61 445.07,18.78 445.18,18.95 445.28,19.13 445.39,19.27 445.49,19.05 445.60,18.83 445.70,18.61 445.81,18.40 445.92,18.21 446.02,18.20 446.13,18.19 446.23,18.19 446.34,18.18 446.44,18.14 446.55,17.70 446.65,17.27 446.76,16.84 446.86,16.41 446.97,16.05 447.07,16.12 447.18,16.19 447.28,16.27 447.39,16.36 447.49,16.39 447.60,16.05 447.70,15.72 447.81,15.38 447.91,15.05 448.02,14.79 448.13,15.04 448.23,15.28 448.34,15.54 448.44,15.79 448.55,16.01 448.65,15.96 448.76,15.91 448.86,15.87 448.97,15.82 449.07,15.78 449.18,15.77 449.28,15.76 449.39,15.75 449.49,15.75 449.60,15.77 449.70,16.00 449.81,16.22 449.91,16.45 450.02,16.68 450.13,16.87 450.23,16.79 450.34,16.72 450.44,16.64 450.55,16.57 450.65,16.49 450.76,16.28 450.86,16.08 450.97,15.88 451.07,15.68 451.18,15.55 451.28,15.85 451.39,16.15 451.49,16.46 451.60,16.77 451.70,17.03 451.81,16.97 451.91,16.92 452.02,16.87 452.12,16.82 452.23,16.79 452.34,16.87 452.44,16.96 452.55,17.04 452.65,17.13 452.76,17.19 452.86,17.15 452.97,17.11 453.07,17.08 453.18,17.04 453.28,17.05 453.39,17.27 453.49,17.50 453.60,17.73 453.70,17.97 453.81,18.19 453.91,18.24 454.02,18.30 454.12,18.37 454.23,18.44 454.33,18.51 454.44,18.55 454.55,18.60 454.65,18.66 454.76,18.71 454.86,18.78 454.97,18.93 455.07,19.07 455.18,19.22 455.28,19.37 455.39,19.55 455.49,19.83 455.60,20.12 455.70,20.41 455.81,20.71 455.91,20.94 456.02,20.82 456.12,20.69 456.23,20.56 456.33,20.44 456.44,20.41 456.54,20.90 456.65,21.40 456.76,21.90 456.86,22.40 456.97,22.85 457.07,23.00 457.18,23.14 457.28,23.29 457.39,23.44 457.49,23.59 457.60,23.77 457.70,23.95 457.81,24.13 457.91,24.31 458.02,24.44 458.12,24.26 458.23,24.07 458.33,23.89 458.44,23.71 458.54,23.62 458.65,24.00 458.75,24.38 458.86,24.76 458.97,25.15 459.07,25.51 459.18,25.79 459.28,26.06 459.39,26.34 459.49,26.62 459.60,26.89 459.70,27.10 459.81,27.32 459.91,27.53 460.02,27.75 460.12,27.93 460.23,27.88 460.33,27.83 460.44,27.79 460.54,27.75 460.65,27.79 460.75,28.23 460.86,28.67 460.96,29.11 461.07,29.56 461.18,29.97 461.28,30.23 461.39,30.49 461.49,30.74 461.60,31.01 461.70,31.22 461.81,31.15 461.91,31.10 462.02,31.04 462.12,30.98 462.23,31.03 462.33,31.56 462.44,32.09 462.54,32.62 462.65,33.16 462.75,33.63 462.86,33.75 462.96,33.87 463.07,34.00 463.18,34.12 463.28,34.27 463.39,34.49 463.49,34.71 463.60,34.94 463.70,35.16 463.81,35.41 463.91,35.76 464.02,36.11 464.12,36.46 464.23,36.81 464.33,37.14 464.44,37.37 464.54,37.60 464.65,37.83 464.75,38.07 464.86,38.27 464.96,38.36 465.07,38.44 465.17,38.52 465.28,38.61 465.39,38.79 465.49,39.39 465.60,39.99 465.70,40.59 465.81,41.20 465.91,41.77 466.02,42.21 466.12,42.64 466.23,43.08 466.33,43.52 466.44,43.96 466.54,44.38 466.65,44.80 466.75,45.22 466.86,45.64 466.96,46.00 467.07,46.08 467.17,46.17 467.28,46.25 467.38,46.34 467.49,46.48 467.60,46.85 467.70,47.22 467.81,47.60 467.91,47.97 468.02,48.32 468.12,48.58 468.23,48.84 468.33,49.10 468.44,49.36 468.54,49.67 468.65,50.14 468.75,50.62 468.86,51.10 468.96,51.58 469.07,52.04 469.17,52.41 469.28,52.78 469.38,53.15 469.49,53.53 469.59,53.91 469.70,54.32 469.81,54.74 469.91,55.15 470.02,55.57 470.12,55.98 470.23,56.33 470.33,56.68 470.44,57.03 470.54,57.38 470.65,57.72 470.75,58.01 470.86,58.29 470.96,58.57 471.07,58.86 471.17,59.18 471.28,59.66 471.38,60.14 471.49,60.61 471.59,61.09 471.70,61.54 471.80,61.87 471.91,62.19 472.02,62.51 472.12,62.84 472.23,63.12 472.33,63.25 472.44,63.37 472.54,63.49 472.65,63.62 472.75,63.85 472.86,64.48 472.96,65.11 473.07,65.74 473.17,66.37 473.28,67.03 473.38,67.76 473.49,68.50 473.59,69.23 473.70,69.97 473.80,70.53 473.91,70.43 474.02,70.33 474.12,70.23 474.23,70.13 474.33,70.19 474.44,70.83 474.54,71.47 474.65,72.11 474.75,72.75 474.86,73.39 474.96,74.02 475.07,74.64 475.17,75.27 475.28,75.90 475.38,76.42 475.49,76.57 475.59,76.71 475.70,76.85 475.80,76.99 475.91,77.23 476.01,77.81 476.12,78.38 476.23,78.96 476.33,79.53 476.44,80.10 476.54,80.64 476.65,81.17 476.75,81.71 476.86,82.25 476.96,82.77 477.07,83.21 477.17,83.66 477.28,84.10 477.38,84.55 477.49,85.01 477.59,85.51 477.70,86.01 477.80,86.51 477.91,87.02 478.01,87.47 478.12,87.75 478.22,88.04 478.33,88.33 478.44,88.61 478.54,88.90 478.65,89.19 478.75,89.48 478.86,89.77 478.96,90.07 479.07,90.45 479.17,91.12 479.28,91.79 479.38,92.46 479.49,93.13 479.59,93.72 479.70,94.06 479.80,94.40 479.91,94.74 480.01,95.08 480.12,95.39 480.22,95.62 480.33,95.85 480.43,96.08 480.54,96.31 480.65,96.71 480.75,97.65 480.86,98.59 480.96,99.53 481.07,100.47 481.17,101.24 481.28,101.47 481.38,101.70 481.49,101.92 481.59,102.15 481.70,102.46 481.80,103.01 481.91,103.56 482.01,104.10 482.12,104.65 482.22,105.21 482.33,105.79 482.43,106.36 482.54,106.94 482.64,107.52 482.75,108.07 482.86,108.52 482.96,108.98 483.07,109.43 483.17,109.89 483.28,110.31 483.38,110.61 483.49,110.91 483.59,111.22 483.70,111.52 483.80,111.84 483.91,112.23 484.01,112.63 484.12,113.02 484.22,113.41 484.33,113.85 484.43,114.46 484.54,115.08 484.64,115.69 484.75,116.30 484.85,116.85 484.96,117.22 485.07,117.58 485.17,117.95 485.28,118.32 485.38,118.68 485.49,119.04 485.59,119.39 485.70,119.75 485.80,120.10 485.91,120.50 486.01,121.03 486.12,121.55 486.22,122.07 486.33,122.60 486.43,123.08 486.54,123.45 486.64,123.81 486.75,124.18 486.85,124.55 486.96,124.95 487.07,125.47 487.17,125.99 487.28,126.51 487.38,127.02 487.49,127.52 487.59,127.97 487.70,128.42 487.80,128.87 487.91,129.31 488.01,129.70 488.12,129.94 488.22,130.18 488.33,130.42 488.43,130.66 488.54,131.01 488.64,131.64 488.75,132.28 488.85,132.91 488.96,133.54 489.06,134.15 489.17,134.67 489.28,135.19 489.38,135.70 489.49,136.22 489.59,136.69 489.70,137.04 489.80,137.39 489.91,137.74 490.01,138.08 490.12,138.53 490.22,139.22 490.33,139.90 490.43,140.59 490.54,141.28 490.64,141.87 490.75,142.21 490.85,142.55 490.96,142.89 491.06,143.23 491.17,143.54 491.27,143.79 491.38,144.04 491.49,144.28 491.59,144.53 491.70,144.83 491.80,145.28 491.91,145.73 492.01,146.17 492.12,146.62 492.22,147.01 492.33,147.28 492.43,147.56 492.54,147.83 492.64,148.10 492.75,148.48 492.85,149.13 492.96,149.78 493.06,150.43 493.17,151.08 493.27,151.72 493.38,152.36 493.48,152.99 493.59,153.63 493.70,154.26 493.80,154.67 493.91,154.54 494.01,154.40 494.12,154.27 494.22,154.13 494.33,154.19 494.43,154.72 494.54,155.25 494.64,155.77 494.75,156.30 494.85,156.88 494.96,157.60 495.06,158.33 495.17,159.05 495.27,159.77 495.38,160.28 495.48,160.28 495.59,160.28 495.69,160.28 495.80,160.28 495.91,160.45 496.01,161.04 496.12,161.62 496.22,162.21 496.33,162.79 496.43,163.39 496.54,164.05 496.64,164.70 496.75,165.36 496.85,166.01 496.96,166.51 497.06,166.66 497.17,166.80 497.27,166.94 497.38,167.08 497.48,167.29 497.59,167.66 497.69,168.02 497.80,168.39 497.90,168.75 498.01,169.01 498.12,169.03 498.22,169.05 498.33,169.07 498.43,169.08 498.54,169.31 498.64,170.02 498.75,170.73 498.85,171.44 498.96,172.15 499.06,172.71 499.17,172.96 499.27,173.20 499.38,173.45 499.48,173.69 499.59,173.96 499.69,174.29 499.80,174.61 499.90,174.94 500.01,175.26 500.12,175.58 500.22,175.92 500.33,176.25 500.43,176.57 500.54,176.90 500.64,177.25 500.75,177.64 500.85,178.02 500.96,178.41 501.06,178.80 501.17,179.10 501.27,179.22 501.38,179.34 501.48,179.46 501.59,179.57 501.69,179.70 501.80,179.85 501.90,180.01 502.01,180.16 502.11,180.31 502.22,180.52 502.33,180.87 502.43,181.22 502.54,181.57 502.64,181.92 502.75,182.31 502.85,182.83 502.96,183.34 503.06,183.85 503.17,184.36 503.27,184.80 503.38,185.09 503.48,185.39 503.59,185.68 503.69,185.97 503.80,186.18 503.90,186.24 504.01,186.29 504.11,186.34 504.22,186.39 504.32,186.55 504.43,186.92 504.54,187.29 504.64,187.66 504.75,188.03 504.85,188.35 504.96,188.57 505.06,188.79 505.17,189.01 505.27,189.23 505.38,189.50 505.48,189.89 505.59,190.28 505.69,190.66 505.80,191.05 505.90,191.18 506.01,190.83 506.11,190.48 506.22,190.12 506.32,189.76 506.43,189.65 506.53,190.01 506.64,190.37 506.75,190.74 506.85,191.09 506.96,191.50 507.06,191.98 507.17,192.47 507.27,192.95 507.38,193.43 507.48,193.71 507.59,193.59 507.69,193.48 507.80,193.36 507.90,193.24 508.01,193.19 508.11,193.29 508.22,193.39 508.32,193.49 508.43,193.58 508.53,193.89 508.64,194.63 508.74,195.37 508.85,196.10 508.96,196.83 509.06,197.26 509.17,197.12 509.27,196.97 509.38,196.83 509.48,196.68 509.59,196.62 509.69,196.73 509.80,196.83 509.90,196.94 510.01,197.04 510.11,197.09 510.22,197.05 510.32,197.01 510.43,196.97 510.53,196.93 510.64,196.98 510.74,197.21 510.85,197.45 510.95,197.68 511.06,197.91 511.17,198.10 511.27,198.22 511.38,198.34 511.48,198.46 511.59,198.57 511.69,198.67 511.80,198.74 511.90,198.81 512.01,198.87 512.11,198.93 512.22,198.89 512.32,198.68 512.43,198.46 512.53,198.24 512.64,198.02 512.74,197.89 512.85,197.91 512.95,197.93 513.06,197.95 513.17,197.97 513.27,198.15 513.38,198.63 513.48,199.10 513.59,199.57 513.69,200.04 513.80,200.37 513.90,200.48 514.01,200.58 514.11,200.68 514.22,200.78 514.32,200.64 514.43,200.11 514.53,199.57 514.64,199.03 514.74,198.48 514.85,198.35 514.95,198.94 515.06,199.53 515.16,200.11 515.27,200.69 515.38,201.03 515.48,200.96 515.59,200.89 515.69,200.82 515.80,200.75 515.90,200.66 516.01,200.55 516.11,200.44 516.22,200.32 516.32,200.21 516.43,200.09 516.53,200.00 516.64,199.90 516.74,199.80 516.85,199.70 516.95,199.59 517.06,199.47 517.16,199.34 517.27,199.22 517.37,199.09 517.48,199.03 517.59,199.08 517.69,199.13 517.80,199.18 517.90,199.23 518.01,199.31 518.11,199.46 518.22,199.60 518.32,199.73 518.43,199.87 518.53,199.84 518.64,199.56 518.74,199.28 518.85,198.99 518.95,198.71 519.06,198.52 519.16,198.48 519.27,198.44 519.37,198.41 519.48,198.36 519.58,198.21 519.69,197.87 519.80,197.53 519.90,197.19 520.01,196.84 520.11,196.71 520.22,196.91 520.32,197.11 520.43,197.31 520.53,197.50 520.64,197.66 520.74,197.76 520.85,197.86 520.95,197.96 521.06,198.05 521.16,198.05 521.27,197.89 521.37,197.72 521.48,197.56 521.58,197.39 521.69,197.08 521.79,196.56 521.90,196.04 522.01,195.52 522.11,195.00 522.22,194.75 522.32,194.93 522.43,195.10 522.53,195.26 522.64,195.43 522.74,195.57 522.85,195.66 522.95,195.76 523.06,195.85 523.16,195.93 523.27,195.83 523.37,195.43 523.48,195.03 523.58,194.62 523.69,194.22 523.79,193.87 523.90,193.61 524.01,193.34 524.11,193.08 524.22,192.81 524.32,192.50 524.43,192.13 524.53,191.76 524.64,191.39 524.74,191.01 524.85,190.85 524.95,191.00 525.06,191.15 525.16,191.29 525.27,191.44 525.37,191.33 525.48,190.86 525.58,190.39 525.69,189.92 525.79,189.45 525.90,189.07 526.00,188.83 526.11,188.59 526.22,188.35 526.32,188.11 526.43,187.97 526.53,187.98 526.64,187.98 526.74,187.99 526.85,187.99 526.95,187.85 527.06,187.54 527.16,187.22 527.27,186.89 527.37,186.57 527.48,186.15 527.58,185.60 527.69,185.04 527.79,184.48 527.90,183.92 528.00,183.49 528.11,183.24 528.21,182.99 528.32,182.74 528.43,182.48 528.53,182.28 528.64,182.15 528.74,182.01 528.85,181.88 528.95,181.74 529.06,181.58 529.16,181.39 529.27,181.19 529.37,180.99 529.48,180.79 529.58,180.50 529.69,180.09 529.79,179.68 529.90,179.27 530.00,178.85 530.11,178.57 530.21,178.48 530.32,178.38 530.42,178.29 530.53,178.19 530.64,178.00 530.74,177.69 530.85,177.38 530.95,177.07 531.06,176.75 531.16,176.49 531.27,176.30 531.37,176.11 531.48,175.92 531.58,175.72 531.69,175.41 531.79,174.96 531.90,174.51 532.00,174.05 532.11,173.59 532.21,173.20 532.32,172.88 532.42,172.57 532.53,172.25 532.63,171.94 532.74,171.42 532.85,170.64 532.95,169.85 533.06,169.07 533.16,168.28 533.27,167.90 533.37,168.02 533.48,168.14 533.58,168.25 533.69,168.37 533.79,168.18 533.90,167.60 534.00,167.02 534.11,166.44 534.21,165.85 534.32,165.36 534.42,165.00 534.53,164.63 534.63,164.26 534.74,163.89 534.84,163.63 534.95,163.50 535.06,163.37 535.16,163.23 535.27,163.10 535.37,162.76 535.48,162.18 535.58,161.59 535.69,161.00 535.79,160.41 535.90,160.15 536.00,160.30 536.11,160.44 536.21,160.58 536.32,160.72 536.42,160.46 536.53,159.72 536.63,158.97 536.74,158.23 536.84,157.48 536.95,156.85 537.06,156.33 537.16,155.82 537.27,155.31 537.37,154.79 537.48,154.56 537.58,154.67 537.69,154.78 537.79,154.89 537.90,154.99 538.00,154.78 538.11,154.18 538.21,153.58 538.32,152.98 538.42,152.38 538.53,151.71 538.63,150.95 538.74,150.20 538.84,149.44 538.95,148.68 539.05,148.17 539.16,147.96 539.27,147.75 539.37,147.54 539.48,147.33 539.58,147.08 539.69,146.79 539.79,146.50 539.90,146.21 540.00,145.92 540.11,145.51 540.21,144.98 540.32,144.44 540.42,143.90 540.53,143.36 540.63,142.88 540.74,142.48 540.84,142.07 540.95,141.67 541.05,141.26 541.16,140.75 541.26,140.12 541.37,139.49 541.48,138.86 541.58,138.22 541.69,137.70 541.79,137.31 541.90,136.92 542.00,136.52 542.11,136.12 542.21,135.76 542.32,135.44 542.42,135.11 542.53,134.79 542.63,134.46 542.74,134.11 542.84,133.72 542.95,133.34 543.05,132.96 543.16,132.57 543.26,132.11 543.37,131.57 543.47,131.03 543.58,130.49 543.69,129.95 543.79,129.35 543.90,128.69 544.00,128.02 544.11,127.36 544.21,126.70 544.32,126.21 544.42,125.91 544.53,125.62 544.63,125.32 544.74,125.02 544.84,124.63 544.95,124.13 545.05,123.64 545.16,123.14 545.26,122.64 545.37,122.23 545.47,121.90 545.58,121.57 545.68,121.24 545.79,120.91 545.90,120.61 546.00,120.33 546.11,120.06 546.21,119.78 546.32,119.50 546.42,119.10 546.53,118.55 546.63,118.00 546.74,117.46 546.84,116.91 546.95,116.30 547.05,115.63 547.16,114.96 547.26,114.30 547.37,113.63 547.47,113.10 547.58,112.73 547.68,112.36 547.79,111.99 547.89,111.62 548.00,111.28 548.11,110.98 548.21,110.68 548.32,110.38 548.42,110.08 548.53,109.75 548.63,109.41 548.74,109.06 548.84,108.71 548.95,108.37 549.05,107.83 549.16,107.10 549.26,106.37 549.37,105.64 549.47,104.91 549.58,104.36 549.68,103.97 549.79,103.58 549.89,103.19 550.00,102.81 550.11,102.39 550.21,101.93 550.32,101.47 550.42,101.02 550.53,100.56 550.63,100.11 550.74,99.65 550.84,99.19 550.95,98.73 551.05,98.27 551.16,97.77 551.26,97.22 551.37,96.67 551.47,96.12 551.58,95.57 551.68,95.06 551.79,94.61 551.89,94.16 552.00,93.70 552.10,93.25 552.21,92.74 552.32,92.19 552.42,91.63 552.53,91.08 552.63,90.52 552.74,90.03 552.84,89.58 552.95,89.14 553.05,88.70 553.16,88.26 553.26,87.78 553.37,87.27 553.47,86.76 553.58,86.26 553.68,85.75 553.79,85.32 553.89,84.96 554.00,84.60 554.10,84.24 554.21,83.88 554.31,83.57 554.42,83.30 554.53,83.04 554.63,82.78 554.74,82.52 554.84,82.14 554.95,81.66 555.05,81.18 555.16,80.70 555.26,80.22 555.37,79.71 555.47,79.19 555.58,78.67 555.68,78.15 555.79,77.63 555.89,77.23 556.00,76.92 556.10,76.61 556.21,76.31 556.31,76.00 556.42,75.56 556.52,75.00 556.63,74.44 556.74,73.87 556.84,73.31 556.95,72.77 557.05,72.25 557.16,71.74 557.26,71.22 557.37,70.70 557.47,70.40 557.58,70.28 557.68,70.16 557.79,70.05 557.89,69.94 558.00,69.74 558.10,69.48 558.21,69.21 558.31,68.95 558.42,68.68 558.52,68.09 558.63,67.22 558.73,66.34 558.84,65.47 558.95,64.60 559.05,64.08 559.16,63.85 559.26,63.63 559.37,63.41 559.47,63.19 559.58,62.81 559.68,62.30 559.79,61.80 559.89,61.29 560.00,60.78 560.10,60.51 560.21,60.43 560.31,60.36 560.42,60.28 560.52,60.21 560.63,59.71 560.73,58.84 560.84,57.97 560.94,57.10 561.05,56.24 561.16,55.72 561.26,55.49 561.37,55.27 561.47,55.04 561.58,54.82 561.68,54.58 561.79,54.34 561.89,54.10 562.00,53.86 562.10,53.62 562.21,53.33 562.31,53.00 562.42,52.66 562.52,52.33 562.63,52.00 562.73,51.61 562.84,51.17 562.94,50.74 563.05,50.30 563.16,49.87 563.26,49.50 563.37,49.19 563.47,48.88 563.58,48.57 563.68,48.26 563.79,47.94 563.89,47.60 564.00,47.27 564.10,46.94 564.21,46.61 564.31,46.35 564.42,46.14 564.52,45.93 564.63,45.72 564.73,45.51 564.84,45.02 564.94,44.32 565.05,43.61 565.15,42.91 565.26,42.20 565.37,41.83 565.47,41.70 565.58,41.58 565.68,41.46 565.79,41.34 565.89,41.10 566.00,40.76 566.10,40.43 566.21,40.09 566.31,39.76 566.42,39.44 566.52,39.13 566.63,38.81 566.73,38.50 566.84,38.20 566.94,38.11 567.05,38.19 567.15,38.27 567.26,38.36 567.36,38.44 567.47,38.06 567.58,37.31 567.68,36.57 567.79,35.83 567.89,35.10 568.00,34.69 568.10,34.54 568.21,34.40 568.31,34.25 568.42,34.11 568.52,33.88 568.63,33.60 568.73,33.33 568.84,33.05 568.94,32.78 569.05,32.48 569.15,32.16 569.26,31.84 569.36,31.52 569.47,31.21 569.57,31.02 569.68,30.93 569.79,30.84 569.89,30.75 570.00,30.67 570.10,30.33 570.21,29.80 570.31,29.27 570.42,28.75 570.52,28.23 570.63,28.01 570.73,28.02 570.84,28.03 570.94,28.04 571.05,28.05 571.15,27.94 571.26,27.75 571.36,27.56 571.47,27.37 571.57,27.19 571.68,26.98 571.78,26.76 571.89,26.55 572.00,26.33 572.10,26.12 572.21,25.81 572.31,25.45 572.42,25.09 572.52,24.73 572.63,24.38 572.73,24.06 572.84,23.78 572.94,23.50 573.05,23.22 573.15,22.94 573.26,22.84 573.36,22.87 573.47,22.90 573.57,22.93 573.68,22.97 573.78,22.97 573.89,22.94 573.99,22.91 574.10,22.89 574.21,22.87 574.31,22.53 574.42,21.97 574.52,21.41 574.63,20.86 574.73,20.31 574.84,20.20 574.94,20.39 575.05,20.58 575.15,20.77 575.26,20.96 575.36,20.75 575.47,20.26 575.57,19.78 575.68,19.30 575.78,18.82 575.89,18.67 575.99,18.75 576.10,18.83 576.21,18.91 576.31,18.99 576.42,19.02 576.52,19.01 576.63,19.00 576.73,19.00 576.84,19.00 576.94,18.94 577.05,18.83 577.15,18.73 577.26,18.63 577.36,18.54 577.47,18.34 577.57,18.09 577.68,17.84 577.78,17.59 577.89,17.34 577.99,17.16 578.10,17.02 578.20,16.89 578.31,16.75 578.42,16.62 578.52,16.64 578.63,16.75 578.73,16.87 578.84,16.98 578.94,17.10 579.05,17.01 579.15,16.78 579.26,16.56 579.36,16.33 579.47,16.12 579.57,15.90 579.68,15.69 579.78,15.48 579.89,15.27 579.99,15.06 580.10,15.19 580.20,15.52 580.31,15.86 580.41,16.20 580.52,16.54 580.63,16.75 580.73,16.89 580.84,17.02 580.94,17.16 581.05,17.30 581.15,17.34 581.26,17.32 581.36,17.31 581.47,17.30 581.57,17.28 581.68,17.32 581.78,17.38 581.89,17.44 581.99,17.50 582.10,17.57 582.20,17.53 582.31,17.43 582.41,17.34 582.52,17.24 582.62,17.15 582.73,17.14 582.84,17.18 582.94,17.22 583.05,17.27 583.15,17.32 583.26,17.42 583.36,17.55 583.47,17.69 583.57,17.82 583.68,17.96 583.78,17.86 583.89,17.62 583.99,17.39 584.10,17.15 584.20,16.92 584.31,17.18 584.41,17.73 584.52,18.29 584.62,18.84 584.73,19.40 584.83,19.52 584.94,19.39 585.05,19.27 585.15,19.14 585.26,19.02 585.36,18.70 585.47,18.26 585.57,17.83 585.68,17.39 585.78,16.96 585.89,16.97 585.99,17.22 586.10,17.47 586.20,17.72 586.31,17.98 586.41,18.19 586.52,18.37 586.62,18.56 586.73,18.76 586.83,18.95 586.94,19.10 587.05,19.23 587.15,19.36 587.26,19.49 587.36,19.62 587.47,19.62 587.57,19.54 587.68,19.47 587.78,19.39 587.89,19.32 587.99,19.51 588.10,19.84 588.20,20.17 588.31,20.51 588.41,20.85 588.52,21.10 588.62,21.32 588.73,21.55 588.83,21.77 588.94,22.00 589.04,22.31 589.15,22.67 589.26,23.04 589.36,23.40 589.47,23.77 589.57,23.89 589.68,23.88 589.78,23.87 589.89,23.87 589.99,23.86 590.10,24.05 590.20,24.33 590.31,24.62 590.41,24.90 590.52,25.19 590.62,25.42 590.73,25.60 590.83,25.79 590.94,25.99 591.04,26.18 591.15,26.38 591.25,26.59 591.36,26.79 591.47,27.00 591.57,27.21 591.68,27.36 591.78,27.47 591.89,27.58 591.99,27.70 592.10,27.81 592.20,28.03 592.31,28.31 592.41,28.58 592.52,28.86 592.62,29.13 592.73,29.26 592.83,29.31 592.94,29.36 593.04,29.42 593.15,29.47 593.25,29.89 593.36,30.48 593.46,31.07 593.57,31.67 593.68,32.26 593.78,32.51 593.89,32.59 593.99,32.67 594.10,32.75 594.20,32.83 594.31,32.83 594.41,32.78 594.52,32.73 594.62,32.68 594.73,32.64 594.83,33.00 594.94,33.56 595.04,34.13 595.15,34.69 595.25,35.26 595.36,35.51 595.46,35.61 595.57,35.72 595.67,35.83 595.78,35.94 595.89,36.18 595.99,36.48 596.10,36.79 596.20,37.10 596.31,37.40 596.41,37.69 596.52,37.96 596.62,38.24 596.73,38.52 596.83,38.80 596.94,39.16 597.04,39.56 597.15,39.96 597.25,40.36 597.36,40.77 597.46,41.34 597.57,41.99 597.67,42.64 597.78,43.29 597.88,43.94 597.99,44.25 598.10,44.40 598.20,44.55 598.31,44.70 598.41,44.86 598.52,45.15 598.62,45.50 598.73,45.85 598.83,46.20 598.94,46.56 599.04,47.03 599.15,47.55 599.25,48.08 599.36,48.60 599.46,49.13 599.57,49.42 599.67,49.60 599.78,49.78 599.88,49.96 599.99,50.14 600.10,50.53 600.20,51.01 600.31,51.49 600.41,51.97 600.52,52.45 600.62,52.89 600.73,53.32 600.83,53.75 600.94,54.18 601.04,54.62 601.15,54.80 601.25,54.88 601.36,54.96 601.46,55.04 601.57,55.12 601.67,55.44 601.78,55.86 601.88,56.28 601.99,56.70 602.09,57.12 602.20,57.59 602.31,58.08 602.41,58.57 602.52,59.06 602.62,59.55 602.73,60.00 602.83,60.43 602.94,60.87 603.04,61.30 603.15,61.74 603.25,62.10 603.36,62.44 603.46,62.77 603.57,63.11 603.67,63.44 603.78,63.81 603.88,64.19 603.99,64.57 604.09,64.95 604.20,65.33 604.30,65.74 604.41,66.14 604.52,66.55 604.62,66.97 604.73,67.38 604.83,67.75 604.94,68.10 605.04,68.46 605.15,68.82 605.25,69.18 605.36,69.62 605.46,70.09 605.57,70.57 605.67,71.04 605.78,71.52 605.88,71.87 605.99,72.16 606.09,72.45 606.20,72.74 606.30,73.03 606.41,73.40 606.51,73.80 606.62,74.20 606.73,74.61 606.83,75.01 606.94,75.45 607.04,75.90 607.15,76.35 607.25,76.80 607.36,77.26 607.46,77.81 607.57,78.40 607.67,78.99 607.78,79.58 607.88,80.17 607.99,80.64 608.09,81.07 608.20,81.49 608.30,81.92 608.41,82.35 608.51,82.67 608.62,82.94 608.72,83.22 608.83,83.49 608.94,83.77 609.04,84.24 609.15,84.78 609.25,85.32 609.36,85.87 609.46,86.41 609.57,86.87 609.67,87.29 609.78,87.71 609.88,88.14 609.99,88.56 610.09,89.29 610.20,90.12 610.30,90.95 610.41,91.79 610.51,92.62 610.62,93.20 610.72,93.69 610.83,94.18 610.93,94.66 611.04,95.15 611.15,95.27 611.25,95.25 611.36,95.23 611.46,95.22 611.57,95.20 611.67,95.54 611.78,96.00 611.88,96.46 611.99,96.92 612.09,97.39 612.20,97.72 612.30,98.02 612.41,98.32 612.51,98.61 612.62,98.91 612.72,99.40 612.83,99.97 612.93,100.54 613.04,101.11 613.15,101.68 613.25,102.22 613.36,102.77 613.46,103.31 613.57,103.85 613.67,104.39 613.78,104.90 613.88,105.39 613.99,105.89 614.09,106.39 614.20,106.88 614.30,107.52 614.41,108.21 614.51,108.90 614.62,109.59 614.72,110.28 614.83,110.53 614.93,110.63 615.04,110.74 615.14,110.84 615.25,110.94 615.36,111.49 615.46,112.19 615.57,112.88 615.67,113.58 615.78,114.28 615.88,114.67 615.99,114.95 616.09,115.24 616.20,115.53 616.30,115.82 616.41,116.28 616.51,116.78 616.62,117.29 616.72,117.80 616.83,118.30 616.93,118.77 617.04,119.21 617.14,119.66 617.25,120.11 617.35,120.55 617.46,120.93 617.57,121.29 617.67,121.65 617.78,122.00 617.88,122.36 617.99,122.95 618.09,123.62 618.20,124.29 618.30,124.96 618.41,125.62 618.51,126.11 618.62,126.55 618.72,126.98 618.83,127.41 618.93,127.84 619.04,128.34 619.14,128.86 619.25,129.38 619.35,129.89 619.46,130.41 619.56,130.81 619.67,131.18 619.78,131.55 619.88,131.91 619.99,132.28 620.09,132.45 620.20,132.57 620.30,132.69 620.41,132.81 620.51,132.93 620.62,133.54 620.72,134.29 620.83,135.05 620.93,135.80 621.04,136.55 621.14,136.87 621.25,137.06 621.35,137.26 621.46,137.45 621.56,137.64 621.67,138.06 621.77,138.55 621.88,139.03 621.99,139.52 622.09,140.01 622.20,140.46 622.30,140.90 622.41,141.35 622.51,141.79 622.62,142.23 622.72,142.65 622.83,143.07 622.93,143.48 623.04,143.89 623.14,144.30 623.25,144.94 623.35,145.65 623.46,146.35 623.56,147.06 623.67,147.76 623.77,148.07 623.88,148.27 623.98,148.47 624.09,148.67 624.20,148.87 624.30,149.09 624.41,149.31 624.51,149.53 624.62,149.75 624.72,149.97 624.83,150.62 624.93,151.39 625.04,152.15 625.14,152.91 625.25,153.67 625.35,154.07 625.46,154.37 625.56,154.68 625.67,154.97 625.77,155.27 625.88,155.73 625.98,156.23 626.09,156.72 626.20,157.22 626.30,157.71 626.41,158.00 626.51,158.24 626.62,158.47 626.72,158.70 626.83,158.93 626.93,159.46 627.04,160.06 627.14,160.67 627.25,161.27 627.35,161.87 627.46,161.96 627.56,161.91 627.67,161.87 627.77,161.83 627.88,161.78 627.98,162.32 628.09,163.01 628.19,163.69 628.30,164.37 628.41,165.05 628.51,165.62 628.62,166.17 628.72,166.71 628.83,167.26 628.93,167.80 629.04,167.78 629.14,167.62 629.25,167.45 629.35,167.29 629.46,167.12 629.56,167.47 629.67,167.95 629.77,168.43 629.88,168.90 629.98,169.38 630.09,169.80 630.19,170.22 630.30,170.63 630.40,171.04 630.51,171.45 630.62,171.79 630.72,172.13 630.83,172.46 630.93,172.79 631.04,173.11 631.14,173.55 631.25,174.02 631.35,174.48 631.46,174.94 631.56,175.40 631.67,175.73 631.77,176.03 631.88,176.32 631.98,176.62 632.09,176.91 632.19,177.09 632.30,177.26 632.40,177.41 632.51,177.57 632.61,177.73 632.72,177.98 632.83,178.25 632.93,178.52 633.04,178.78 633.14,179.05 633.25,179.33 633.35,179.62 633.46,179.91 633.56,180.19 633.67,180.48 633.77,180.85 633.88,181.25 633.98,181.64 634.09,182.03 634.19,182.42 634.30,182.80 634.40,183.18 634.51,183.56 634.61,183.93 634.72,184.31 634.82,184.56 634.93,184.78 635.04,185.00 635.14,185.21 635.25,185.43 635.35,185.51 635.46,185.56 635.56,185.61 635.67,185.65 635.77,185.70 635.88,185.87 635.98,186.06 636.09,186.25 636.19,186.44 636.30,186.63 636.40,187.09 636.51,187.60 636.61,188.11 636.72,188.62 636.82,189.13 636.93,189.42 637.04,189.67 637.14,189.91 637.25,190.16 637.35,190.40 637.46,190.39 637.56,190.33 637.67,190.28 637.77,190.22 637.88,190.16 637.98,190.39 638.09,190.67 638.19,190.95 638.30,191.23 638.40,191.51 638.51,191.72 638.61,191.92 638.72,192.11 638.82,192.30 638.93,192.49 639.03,192.94 639.14,193.43 639.25,193.92 639.35,194.40 639.46,194.88 639.56,194.98 639.67,194.99 639.77,195.01 639.88,195.02 639.98,195.03 640.09,195.17 640.19,195.35 640.30,195.51 640.40,195.68 640.51,195.84 640.61,195.89 640.72,195.91 640.82,195.93 640.93,195.95 641.03,195.97 641.14,196.33 641.24,196.74 641.35,197.16 641.46,197.57 641.56,197.98 641.67,197.75 641.77,197.40 641.88,197.04 641.98,196.68 642.09,196.33 642.19,196.49 642.30,196.74 642.40,196.98 642.51,197.23 642.61,197.47 642.72,197.56 642.82,197.63 642.93,197.69 643.03,197.75 643.14,197.81 643.24,198.10 643.35,198.43 643.45,198.75 643.56,199.08 643.67,199.40 643.77,199.35 643.88,199.23 643.98,199.11 644.09,198.99 644.19,198.87 644.30,198.72 644.40,198.57 644.51,198.41 644.61,198.25 644.72,198.09 644.82,198.50 644.93,199.00 645.03,199.50 645.14,200.00 645.24,200.49 645.35,200.33 645.45,200.08 645.56,199.82 645.66,199.56 645.77,199.29 645.88,199.23 645.98,199.19 646.09,199.16 646.19,199.12 646.30,199.07 646.40,199.27 646.51,199.50 646.61,199.73 646.72,199.96 646.82,200.19 646.93,200.02 647.03,199.79 647.14,199.55 647.24,199.32 647.35,199.08 647.45,199.20 647.56,199.38 647.66,199.55 647.77,199.72 647.87,199.88 647.98,199.68 648.09,199.42 648.19,199.16 648.30,198.89 648.40,198.62 648.51,198.66 648.61,198.75 648.72,198.83 648.82,198.90 648.93,198.98 649.03,198.99 649.14,199.00 649.24,199.01 649.35,199.01 649.45,199.01 649.56,198.72 649.66,198.40 649.77,198.06 649.87,197.73 649.98,197.39 650.09,197.46 650.19,197.59 650.30,197.71 650.40,197.82 650.51,197.94 650.61,197.82 650.72,197.67 650.82,197.52 650.93,197.37 651.03,197.22 651.14,197.47 651.24,197.78 651.35,198.08 651.45,198.38 651.56,198.68 651.66,198.56 651.77,198.38 651.87,198.19 651.98,198.01 652.08,197.82 652.19,197.50 652.30,197.16 652.40,196.82 652.51,196.48 652.61,196.13 652.72,195.98 652.82,195.85 652.93,195.72 653.03,195.59 653.14,195.45 653.24,195.46 653.35,195.48 653.45,195.50 653.56,195.51 653.66,195.53 653.77,195.29 653.87,195.02 653.98,194.74 654.08,194.47 654.19,194.19 654.29,194.29 654.40,194.42 654.51,194.55 654.61,194.69 654.72,194.82 654.82,194.50 654.93,194.14 655.03,193.78 655.14,193.41 655.24,193.05 655.35,193.05 655.45,193.09 655.56,193.13 655.66,193.16 655.77,193.20 655.87,192.82 655.98,192.41 656.08,191.99 656.19,191.57 656.29,191.15 656.40,191.05 656.50,190.99 656.61,190.92 656.72,190.85 656.82,190.78 656.93,190.61 657.03,190.43 657.14,190.25 657.24,190.06 657.35,189.88 657.45,189.57 657.56,189.25 657.66,188.92 657.77,188.59 657.87,188.26 657.98,187.78 658.08,187.28 658.19,186.78 658.29,186.28 658.40,185.77 658.50,185.92 658.61,186.13 658.71,186.34 658.82,186.54 658.93,186.74 659.03,186.48 659.14,186.17 659.24,185.86 659.35,185.55 659.45,185.24 659.56,184.74 659.66,184.23 659.77,183.71 659.87,183.20 659.98,182.68 660.08,182.61 660.19,182.58 660.29,182.55 660.40,182.52 660.50,182.49 660.61,181.92 660.71,181.30 660.82,180.69 660.92,180.07 661.03,179.45 661.14,179.37 661.24,179.33 661.35,179.29 661.45,179.25 661.56,179.21 661.66,178.96 661.77,178.69 661.87,178.42 661.98,178.15 662.08,177.87 662.19,177.54 662.29,177.20 662.40,176.86 662.50,176.51 662.61,176.17 662.71,175.66 662.82,175.14 662.92,174.61 663.03,174.08 663.14,173.56 663.24,173.39 663.35,173.24 663.45,173.09 663.56,172.94 663.66,172.79 663.77,172.50 663.87,172.19 663.98,171.89 664.08,171.58 664.19,171.27 664.29,170.98 664.40,170.69 664.50,170.40 664.61,170.10 664.71,169.80 664.82,169.73 664.92,169.68 665.03,169.62 665.13,169.55 665.24,169.49 665.35,169.06 665.45,168.60 665.56,168.15 665.66,167.69 665.77,167.23 665.87,166.52 665.98,165.79 666.08,165.06 666.19,164.33 666.29,163.60 666.40,163.31 666.50,163.05 666.61,162.79 666.71,162.52 666.82,162.26 666.92,161.94 667.03,161.62 667.13,161.30 667.24,160.97 667.34,160.65 667.45,160.25 667.56,159.85 667.66,159.45 667.77,159.05 667.87,158.65 667.98,158.44 668.08,158.24 668.19,158.04 668.29,157.84 668.40,157.64 668.50,157.12 668.61,156.60 668.71,156.07 668.82,155.54 668.92,155.01 669.03,154.79 669.13,154.59 669.24,154.38 669.34,154.18 669.45,153.97 669.55,153.39 669.66,152.78 669.77,152.18 669.87,151.57 669.98,150.97 670.08,150.72 670.19,150.49 670.29,150.25 670.40,150.01 670.50,149.78 670.61,149.30 670.71,148.81 670.82,148.32 670.92,147.82 671.03,147.33 671.13,146.81 671.24,146.29 671.34,145.77 671.45,145.25 671.55,144.72 671.66,144.42 671.76,144.12 671.87,143.82 671.98,143.51 672.08,143.21 672.19,142.64 672.29,142.07 672.40,141.49 672.50,140.91 672.61,140.33 672.71,139.92 672.82,139.52 672.92,139.12 673.03,138.72 673.13,138.32 673.24,137.90 673.34,137.48 673.45,137.06 673.55,136.64 673.66,136.22 673.76,135.64 673.87,135.05 673.97,134.47 674.08,133.88 674.19,133.29 674.29,133.27 674.40,133.27 674.50,133.26 674.61,133.26 674.71,133.26 674.82,132.84 674.92,132.42 675.03,131.99 675.13,131.57 675.24,131.14 675.34,130.36 675.45,129.57 675.55,128.78 675.66,127.98 675.76,127.19 675.87,126.69 675.97,126.19 676.08,125.69 676.19,125.19 676.29,124.69 676.40,124.07 676.50,123.46 676.61,122.84 676.71,122.22 676.82,121.60 676.92,121.33 677.03,121.08 677.13,120.82 677.24,120.56 677.34,120.30 677.45,119.84 677.55,119.37 677.66,118.90 677.76,118.43 677.87,117.96 677.97,117.77 678.08,117.58 678.18,117.39 678.29,117.19 678.40,117.00 678.50,116.29 678.61,115.57 678.71,114.86 678.82,114.14 678.92,113.43 679.03,112.97 679.13,112.53 679.24,112.08 679.34,111.63 679.45,111.18 679.55,110.98 679.66,110.79 679.76,110.60 679.87,110.41 679.97,110.22 680.08,109.73 680.18,109.24 680.29,108.75 680.39,108.27 680.50,107.78" fill="none" stroke="#ff0000" stroke-width="2.2" stroke-dasharray="5 1.6"/>
<path d="M44.5,415.21V453.86M46.5,400.47V430.97M47.5,398.05V429.84M48.5,401.01V417.25M49.5,391.13V412.76M51.5,384.89V404.28M52.5,385.49V404.36M53.5,384.95V401.66M54.5,385.26V401.08M56.5,376.48V394.49M57.5,374.53V391.13M58.5,377.41V393.56M59.5,372.53V391.67M61.5,369.25V388.41M62.5,369.34V386.48M63.5,370.13V384.42M64.5,364.51V382.28M66.5,366.21V375.94M67.5,361.01V376.45M68.5,358.76V369.87M69.5,358.06V370.50M91.5,500.12V518.35M92.5,504.54V518.62M93.5,505.07V527.39M94.5,502.25V527.98M96.5,503.14V528.21M97.5,503.36V523.51M98.5,507.12V529.47M99.5,506.55V529.84M101.5,505.31V529.30M102.5,507.67V526.14M103.5,506.42V525.76M104.5,506.73V528.09M106.5,510.67V527.31M107.5,504.55V524.87M108.5,510.22V520.99M109.5,506.67V526.17M111.5,502.24V523.61M112.5,501.52V520.06M113.5,504.46V519.43M114.5,504.29V522.81M116.5,499.83V521.65M117.5,501.21V521.94M118.5,501.83V519.80M119.5,499.50V519.43M121.5,499.87V517.41M122.5,500.64V519.48M123.5,502.64V519.56M124.5,500.32V515.00M126.5,502.75V521.29M127.5,501.64V517.67M128.5,505.71V519.31M129.5,507.38V518.61M131.5,504.64V519.38M132.5,505.47V522.71M157.5,362.12V377.37M158.5,359.39V375.97M159.5,355.35V374.55M161.5,355.07V374.16M162.5,351.68V372.32M163.5,356.05V367.47M164.5,351.21V367.14M166.5,354.27V371.72M167.5,351.16V370.82M168.5,351.45V370.50M169.5,356.12V368.27M171.5,358.58V370.20M172.5,360.18V373.67M173.5,357.79V375.88M174.5,355.82V377.04M176.5,359.84V377.49M177.5,358.39V373.54M178.5,357.59V379.13M179.5,357.98V375.33M181.5,358.20V379.46M182.5,359.15V381.88M183.5,358.01V380.90M184.5,360.45V380.06M186.5,364.47V377.88M187.5,359.71V380.94M188.5,359.20V382.18M189.5,358.01V378.86M191.5,359.66V379.47M192.5,359.43V382.01M193.5,361.20V382.40M194.5,358.00V379.65M196.5,359.96V377.69M197.5,359.25V381.99M198.5,362.14V381.66M226.5,505.76V520.24M227.5,509.50V522.31M228.5,507.27V525.57M229.5,511.41V524.29M231.5,510.73V528.98M232.5,514.25V526.06M233.5,511.58V525.96M234.5,510.53V527.70M236.5,512.05V522.98M237.5,512.47V526.76M238.5,508.22V522.22M239.5,507.43V523.16M241.5,506.58V522.05M242.5,509.12V525.60M243.5,505.87V522.65M244.5,502.52V520.44M246.5,500.07V523.83M247.5,499.40V522.95M248.5,500.52V524.47M249.5,497.98V524.83M251.5,500.57V525.67M252.5,500.14V527.33M253.5,508.13V527.38M254.5,507.86V525.76M256.5,510.90V524.89M257.5,507.76V526.12M258.5,510.17V528.69M259.5,510.16V529.98M261.5,510.69V525.49M262.5,510.71V526.98M263.5,517.35V526.81M286.5,381.05V393.82M287.5,374.85V394.41M288.5,376.32V394.30M289.5,376.46V399.26M291.5,370.97V389.65M292.5,368.05V387.53M293.5,368.32V386.80M294.5,366.61V388.76M296.5,366.89V382.46M297.5,363.01V388.67M298.5,364.35V380.70M299.5,364.68V385.98M301.5,361.19V382.74M302.5,361.66V382.49M303.5,363.73V381.09M304.5,358.38V380.10M306.5,360.00V375.19M307.5,360.75V376.13" fill="none" stroke="#00b050" stroke-width="1.05" stroke-dasharray="9 0.3"/>
<path d="M45.5,409.02V456.99M50.5,390.41V410.70M55.5,379.21V397.41M60.5,369.68V385.37M65.5,364.16V379.21M70.5,357.70V370.25M72.5,439.64V471.31M73.5,437.45V475.22M74.5,439.55V478.43M75.5,442.22V476.40M76.5,446.46V483.97M77.5,451.50V486.53M77.5,437.92V463.82M78.5,443.38V467.09M79.5,444.10V468.39M80.5,442.39V470.05M80.5,445.54V476.67M81.5,452.08V482.41M82.5,458.61V496.83M83.5,466.59V500.65M84.5,497.58V518.27M85.5,495.81V519.75M86.5,498.87V521.58M87.5,497.48V521.96M87.5,466.23V491.39M88.5,470.37V495.15M89.5,471.34V495.76M90.5,473.81V495.32M90.5,500.10V513.24M95.5,510.08V528.83M100.5,507.87V529.40M105.5,506.36V526.76M110.5,507.19V522.48M115.5,504.20V522.47M120.5,499.97V518.21M125.5,500.36V520.44M130.5,503.84V519.82M134.5,457.48V477.00M135.5,457.59V478.82M136.5,459.20V480.67M137.5,459.22V482.91M138.5,429.61V460.46M139.5,432.94V462.65M140.5,433.31V463.83M141.5,433.18V465.34M141.5,439.58V477.32M142.5,443.37V478.01M143.5,444.05V476.46M144.5,444.97V480.94M144.5,435.63V466.25M145.5,437.88V469.59M146.5,439.74V467.03M147.5,440.12V473.26M147.5,405.02V431.98M148.5,410.88V434.12M149.5,412.59V434.23M150.5,409.25V436.34M152.5,387.82V402.42M153.5,385.97V401.49M154.5,382.38V397.08M155.5,380.00V395.84M156.5,373.88V389.87M157.5,370.88V384.98M160.5,354.92V371.14M165.5,355.90V371.11M170.5,353.72V374.31M175.5,359.66V377.70M180.5,359.72V381.21M185.5,363.88V376.17M190.5,358.47V383.79M195.5,360.25V376.66M198.5,386.28V408.38M199.5,387.94V409.11M200.5,389.77V407.54M201.5,390.15V411.66M201.5,400.37V426.49M202.5,400.93V427.48M203.5,402.42V429.45M204.5,404.70V429.00M204.5,408.67V435.31M205.5,407.22V439.88M206.5,409.68V444.40M207.5,415.57V443.06M208.5,431.28V456.19M209.5,432.84V462.16M210.5,429.44V463.87M211.5,431.98V462.65M212.5,445.84V483.99M213.5,451.45V488.64M214.5,453.28V491.38M215.5,452.20V489.40M216.5,432.17V469.09M217.5,431.55V467.40M218.5,433.69V474.77M219.5,435.81V477.00M219.5,467.92V497.06M220.5,471.43V498.65M221.5,468.10V498.65M222.5,469.89V501.61M222.5,490.04V511.50M223.5,490.86V512.75M224.5,495.36V513.86M225.5,493.58V513.56M225.5,507.72V520.54M230.5,513.84V524.98M235.5,511.53V526.83M240.5,505.68V525.46M245.5,503.33V518.80M250.5,499.10V520.35M255.5,510.50V528.79M260.5,508.32V527.51M266.5,432.93V454.32M267.5,430.55V456.02M268.5,432.86V458.03M269.5,434.63V458.16M270.5,439.91V459.28M271.5,439.54V460.62M271.5,434.21V459.52M272.5,433.35V463.13M273.5,434.06V465.83M274.5,435.79V467.25M275.5,437.31V467.08M275.5,429.21V447.83M276.5,432.33V449.30M277.5,431.03V450.40M278.5,434.63V450.00M280.5,378.69V404.21M281.5,376.95V405.91M282.5,378.81V411.28M283.5,383.12V410.80M284.5,381.87V414.59M284.5,380.90V408.44M285.5,387.03V406.03M286.5,385.19V408.34M287.5,388.88V412.20M290.5,375.53V393.46M290.5,373.46V388.37M295.5,370.43V386.85M300.5,360.18V384.16M305.5,364.65V380.61" fill="none" stroke="#00b050" stroke-width="1.05" stroke-dasharray="1.3 0.9"/>
<path d="M70.50,370.25L71.80,362.00L73.20,425.00M73.20,425.00L72.50,439.64M77.50,486.53L77.50,437.92M80.50,470.05L80.50,445.54M83.50,500.65L84.50,497.58M87.50,521.96L87.50,466.23M90.50,495.32L90.50,500.10M132.50,522.71L133.50,520.00L134.50,456.00M134.50,456.00L134.50,457.48M137.50,482.91L138.50,429.61M141.50,465.34L141.50,439.58M144.50,480.94L144.50,435.63M147.50,473.26L147.50,405.02M150.50,436.34L151.20,405.00L152.00,396.00M152.00,396.00L152.50,387.82M157.50,384.98L157.50,362.12M198.50,381.66L198.50,386.28M201.50,411.66L201.50,400.37M204.50,429.00L204.50,408.67M207.50,443.06L208.50,431.28M211.50,462.65L212.50,445.84M215.50,489.40L216.50,432.17M219.50,477.00L219.50,467.92M222.50,501.61L222.50,490.04M225.50,513.56L225.50,507.72M263.50,526.81L264.50,530.00L266.20,430.00M266.20,430.00L266.50,432.93M268.50,458.03L269.50,434.63M271.50,460.62L271.50,434.21M275.50,467.08L275.50,429.21M278.50,450.00L278.60,446.00L281.20,396.00M281.20,396.00L280.50,378.69M284.50,414.59L284.50,380.90M287.50,412.20L286.50,381.05M290.50,393.46L290.50,373.46" fill="none" stroke="#00b050" stroke-width="1.6" stroke-dasharray="1.4 0.8"/>
<path d="M417.5,423.17V482.80M418.5,407.42V497.53M419.5,402.14V494.88M421.5,410.40V473.16M422.5,383.90V482.08M423.5,379.16V485.38M424.5,379.98V478.54M426.5,371.36V477.12M427.5,386.24V452.63M428.5,399.95V454.27M429.5,381.70V450.16M431.5,386.58V463.49M432.5,396.43V453.48M433.5,397.18V458.78M434.5,389.01V447.08M436.5,394.05V449.95M437.5,397.73V453.26M438.5,396.87V445.36M439.5,409.10V444.66M441.5,411.65V441.25M442.5,415.57V438.31M443.5,410.29V428.08M444.5,415.96V432.04M446.5,417.97V434.05M447.5,420.18V436.59M448.5,419.28V439.07M449.5,422.70V447.01M451.5,427.28V462.92M452.5,424.66V451.41M453.5,437.01V445.82M454.5,440.42V447.84M456.5,450.71V470.61M457.5,448.03V480.57M458.5,445.68V483.75M459.5,441.32V475.24M461.5,439.07V473.53M462.5,434.12V468.25M463.5,432.31V477.29M464.5,430.59V482.91M466.5,433.08V478.85M467.5,442.16V487.10M468.5,441.54V494.12M469.5,433.37V498.94M471.5,442.30V492.12M472.5,430.62V501.15M473.5,442.26V503.93M474.5,433.91V510.08M476.5,439.66V517.32M477.5,425.96V499.23M478.5,425.36V520.22M479.5,424.46V522.43M481.5,434.59V520.73M482.5,420.93V508.15M483.5,426.04V507.83M484.5,425.77V528.31M486.5,424.08V525.42M487.5,428.99V523.06M488.5,428.65V508.31M489.5,433.95V499.11M491.5,448.18V515.32M492.5,444.29V513.96M493.5,435.46V499.93M494.5,434.50V508.87M496.5,433.72V510.80M497.5,434.29V501.05M498.5,441.14V505.73M499.5,438.88V505.81M501.5,437.34V494.93M502.5,445.71V498.60M503.5,441.13V495.94M504.5,445.54V491.69M506.5,444.27V480.20M507.5,448.94V489.28M508.5,447.48V485.63M509.5,453.97V482.50M511.5,443.56V478.61M512.5,446.46V481.14M513.5,449.70V475.02M514.5,440.78V475.84M516.5,435.40V464.32M517.5,433.16V461.87M518.5,429.78V451.03M519.5,427.57V456.82M521.5,426.97V460.77M522.5,426.53V456.43M523.5,421.82V454.81M524.5,419.07V453.25M526.5,409.13V463.02M527.5,402.03V459.28M528.5,399.57V448.24M529.5,407.84V443.40M531.5,392.02V452.23M532.5,399.38V450.75M533.5,391.04V443.76M534.5,385.24V441.02M536.5,381.43V438.12M537.5,376.29V454.60M538.5,372.40V448.97M539.5,369.30V455.56M541.5,385.44V456.21M542.5,368.45V446.01M543.5,359.63V438.75M544.5,373.19V447.01M546.5,376.26V457.94M547.5,360.96V436.27M548.5,365.95V457.16M549.5,382.67V448.99M551.5,379.40V450.60M552.5,388.55V446.98M553.5,383.04V445.79M554.5,369.09V439.46M556.5,384.53V450.96M557.5,379.08V459.89M558.5,380.60V461.08M559.5,378.26V452.99M561.5,393.22V444.08M562.5,395.02V453.36M563.5,380.45V458.76M564.5,386.96V451.71M566.5,399.48V442.97M567.5,398.09V449.06M568.5,388.78V443.43M569.5,389.61V447.32M571.5,391.42V433.95M572.5,402.53V445.30M573.5,393.95V439.81M574.5,394.84V432.20M576.5,399.95V436.66M577.5,403.91V438.89M578.5,415.85V444.29M579.5,413.61V449.12M581.5,419.76V457.47M582.5,421.13V455.61M583.5,420.13V458.60M584.5,429.23V465.55M586.5,431.21V467.11M587.5,437.58V469.22M588.5,437.06V465.09M589.5,433.84V462.60M591.5,434.01V462.57M592.5,438.01V475.92M593.5,436.75V479.71M594.5,434.53V471.99M596.5,445.78V489.66M597.5,439.20V492.07M598.5,448.27V487.19M599.5,441.14V498.44M601.5,428.92V504.64M602.5,441.63V506.64M603.5,433.67V510.58M604.5,426.04V509.21M606.5,444.04V507.76M607.5,434.61V510.30M608.5,441.09V508.53M609.5,423.21V508.84M611.5,422.74V509.51M612.5,424.23V502.08M613.5,422.83V518.65M614.5,421.56V521.99M616.5,430.30V528.46M617.5,434.14V523.24M618.5,442.81V502.08M619.5,417.03V515.22M621.5,420.13V508.13M622.5,434.45V506.22M623.5,424.83V499.30M624.5,443.29V507.88M626.5,432.02V502.87M627.5,447.53V504.09M628.5,432.32V504.50M629.5,437.67V502.56M631.5,437.95V501.83M632.5,450.72V500.24M633.5,440.36V499.44M634.5,445.63V497.30M636.5,451.91V494.22M637.5,451.89V494.64M638.5,447.72V492.47M639.5,450.05V490.56M641.5,444.26V478.62M642.5,444.92V473.92M643.5,434.91V469.41M644.5,429.21V467.74M646.5,423.44V459.77M647.5,430.46V459.65M648.5,425.24V449.49M649.5,420.40V455.82M651.5,419.52V445.53M652.5,416.76V449.95M653.5,413.51V442.43M654.5,413.24V440.27M656.5,407.65V442.46M657.5,400.78V448.29M658.5,402.92V447.00M659.5,394.87V450.40M661.5,390.20V447.79M662.5,388.12V455.68M663.5,385.63V454.97M664.5,396.93V441.67M666.5,389.49V438.38M667.5,381.10V453.39M668.5,380.33V441.47M669.5,394.53V443.16M671.5,375.52V455.62M672.5,375.92V453.95M673.5,375.84V457.10M674.5,377.46V449.78M676.5,392.01V461.03M677.5,372.58V444.79M678.5,367.82V460.82M679.5,368.89V464.30" fill="none" stroke="#00b050" stroke-width="1.05" stroke-dasharray="9 0.3"/>
<path d="M420.5,406.24V493.73M425.5,377.86V457.62M430.5,391.22V450.87M435.5,391.37V441.70M440.5,411.41V442.83M445.5,415.41V430.36M450.5,421.00V455.63M455.5,446.75V456.64M460.5,442.65V471.30M465.5,435.86V474.37M470.5,432.59V503.50M475.5,438.26V515.34M480.5,423.77V502.40M485.5,420.94V510.64M490.5,430.72V519.04M495.5,439.38V513.51M500.5,439.27V491.92M505.5,442.79V490.97M510.5,444.14V478.31M515.5,442.03V466.60M520.5,429.21V452.68M525.5,410.45V465.35M530.5,399.94V445.17M535.5,391.17V453.99M540.5,366.79V440.86M545.5,364.92V443.63M550.5,375.02V445.90M555.5,384.69V462.14M560.5,386.51V454.82M565.5,381.87V454.43M570.5,391.71V440.20M575.5,394.87V434.91M580.5,414.96V454.71M585.5,421.88V460.55M590.5,432.13V467.14M595.5,434.10V487.39M600.5,430.16V488.10M605.5,434.39V501.80M610.5,423.13V502.34M615.5,429.68V518.51M620.5,419.99V507.76M625.5,427.04V504.24M630.5,438.99V494.98M635.5,449.27V494.25M640.5,451.06V477.53M645.5,429.90V460.69M650.5,418.66V448.27M655.5,414.53V444.38M660.5,391.98V442.52M665.5,388.23V442.33M670.5,394.59V455.41M675.5,385.39V460.42M680.5,364.45V462.73" fill="none" stroke="#00b050" stroke-width="1.05" stroke-dasharray="1.3 0.9"/>
<path d="M44.5,442.9 H307.5" stroke="#3a8ad0" stroke-width="1.4"/>
<path d="M417.5,442.9 H680.5" stroke="#3a8ad0" stroke-width="1.4"/>
<path d="M44.5,3.6 V212.4 H308.1" fill="none" stroke="#262626" stroke-width="1.1"/>
<path d="M44.50,212.4 v-3" stroke="#262626" stroke-width="1.1"/>
<text x="44.50" y="224.90" text-anchor="middle" class="tk">0</text>
<path d="M97.10,212.4 v-3" stroke="#262626" stroke-width="1.1"/>
<text x="97.10" y="224.90" text-anchor="middle" class="tk">5</text>
<path d="M149.70,212.4 v-3" stroke="#262626" stroke-width="1.1"/>
<text x="149.70" y="224.90" text-anchor="middle" class="tk">10</text>
<path d="M202.30,212.4 v-3" stroke="#262626" stroke-width="1.1"/>
<text x="202.30" y="224.90" text-anchor="middle" class="tk">15</text>
<path d="M254.90,212.4 v-3" stroke="#262626" stroke-width="1.1"/>
<text x="254.90" y="224.90" text-anchor="middle" class="tk">20</text>
<path d="M307.50,212.4 v-3" stroke="#262626" stroke-width="1.1"/>
<text x="307.50" y="224.90" text-anchor="middle" class="tk">25</text>
<path d="M44.5,4.10 h3" stroke="#262626" stroke-width="1.1"/>
<text x="40.40" y="7.70" text-anchor="end" class="tk">0.6</text>
<path d="M44.5,38.80 h3" stroke="#262626" stroke-width="1.1"/>
<text x="40.40" y="42.40" text-anchor="end" class="tk">0.4</text>
<path d="M44.5,73.50 h3" stroke="#262626" stroke-width="1.1"/>
<text x="40.40" y="77.10" text-anchor="end" class="tk">0.2</text>
<path d="M44.5,108.20 h3" stroke="#262626" stroke-width="1.1"/>
<text x="40.40" y="111.80" text-anchor="end" class="tk">0</text>
<path d="M44.5,142.90 h3" stroke="#262626" stroke-width="1.1"/>
<text x="40.40" y="146.50" text-anchor="end" class="tk">-0.2</text>
<path d="M44.5,177.60 h3" stroke="#262626" stroke-width="1.1"/>
<text x="40.40" y="181.20" text-anchor="end" class="tk">-0.4</text>
<path d="M44.5,212.30 h3" stroke="#262626" stroke-width="1.1"/>
<text x="40.40" y="215.90" text-anchor="end" class="tk">-0.6</text>
<path d="M417.5,3.6 V212.4 H681.1" fill="none" stroke="#262626" stroke-width="1.1"/>
<path d="M417.50,212.4 v-3" stroke="#262626" stroke-width="1.1"/>
<text x="417.50" y="224.90" text-anchor="middle" class="tk">0</text>
<path d="M470.10,212.4 v-3" stroke="#262626" stroke-width="1.1"/>
<text x="470.10" y="224.90" text-anchor="middle" class="tk">5</text>
<path d="M522.70,212.4 v-3" stroke="#262626" stroke-width="1.1"/>
<text x="522.70" y="224.90" text-anchor="middle" class="tk">10</text>
<path d="M575.30,212.4 v-3" stroke="#262626" stroke-width="1.1"/>
<text x="575.30" y="224.90" text-anchor="middle" class="tk">15</text>
<path d="M627.90,212.4 v-3" stroke="#262626" stroke-width="1.1"/>
<text x="627.90" y="224.90" text-anchor="middle" class="tk">20</text>
<path d="M680.50,212.4 v-3" stroke="#262626" stroke-width="1.1"/>
<text x="680.50" y="224.90" text-anchor="middle" class="tk">25</text>
<path d="M417.5,4.10 h3" stroke="#262626" stroke-width="1.1"/>
<text x="413.40" y="7.70" text-anchor="end" class="tk">0.6</text>
<path d="M417.5,38.80 h3" stroke="#262626" stroke-width="1.1"/>
<text x="413.40" y="42.40" text-anchor="end" class="tk">0.4</text>
<path d="M417.5,73.50 h3" stroke="#262626" stroke-width="1.1"/>
<text x="413.40" y="77.10" text-anchor="end" class="tk">0.2</text>
<path d="M417.5,108.20 h3" stroke="#262626" stroke-width="1.1"/>
<text x="413.40" y="111.80" text-anchor="end" class="tk">0</text>
<path d="M417.5,142.90 h3" stroke="#262626" stroke-width="1.1"/>
<text x="413.40" y="146.50" text-anchor="end" class="tk">-0.2</text>
<path d="M417.5,177.60 h3" stroke="#262626" stroke-width="1.1"/>
<text x="413.40" y="181.20" text-anchor="end" class="tk">-0.4</text>
<path d="M417.5,212.30 h3" stroke="#262626" stroke-width="1.1"/>
<text x="413.40" y="215.90" text-anchor="end" class="tk">-0.6</text>
<path d="M44.5,338.4 V547.2 H308.1" fill="none" stroke="#262626" stroke-width="1.1"/>
<path d="M44.50,547.2 v-3" stroke="#262626" stroke-width="1.1"/>
<text x="44.50" y="559.70" text-anchor="middle" class="tk">0</text>
<path d="M97.10,547.2 v-3" stroke="#262626" stroke-width="1.1"/>
<text x="97.10" y="559.70" text-anchor="middle" class="tk">5</text>
<path d="M149.70,547.2 v-3" stroke="#262626" stroke-width="1.1"/>
<text x="149.70" y="559.70" text-anchor="middle" class="tk">10</text>
<path d="M202.30,547.2 v-3" stroke="#262626" stroke-width="1.1"/>
<text x="202.30" y="559.70" text-anchor="middle" class="tk">15</text>
<path d="M254.90,547.2 v-3" stroke="#262626" stroke-width="1.1"/>
<text x="254.90" y="559.70" text-anchor="middle" class="tk">20</text>
<path d="M307.50,547.2 v-3" stroke="#262626" stroke-width="1.1"/>
<text x="307.50" y="559.70" text-anchor="middle" class="tk">25</text>
<path d="M44.5,338.40 h3" stroke="#262626" stroke-width="1.1"/>
<text x="40.40" y="342.00" text-anchor="end" class="tk">6</text>
<path d="M44.5,373.20 h3" stroke="#262626" stroke-width="1.1"/>
<text x="40.40" y="376.80" text-anchor="end" class="tk">4</text>
<path d="M44.5,408.00 h3" stroke="#262626" stroke-width="1.1"/>
<text x="40.40" y="411.60" text-anchor="end" class="tk">2</text>
<path d="M44.5,442.80 h3" stroke="#262626" stroke-width="1.1"/>
<text x="40.40" y="446.40" text-anchor="end" class="tk">0</text>
<path d="M44.5,477.60 h3" stroke="#262626" stroke-width="1.1"/>
<text x="40.40" y="481.20" text-anchor="end" class="tk">-2</text>
<path d="M44.5,512.40 h3" stroke="#262626" stroke-width="1.1"/>
<text x="40.40" y="516.00" text-anchor="end" class="tk">-4</text>
<path d="M44.5,547.20 h3" stroke="#262626" stroke-width="1.1"/>
<text x="40.40" y="550.80" text-anchor="end" class="tk">-6</text>
<path d="M417.5,338.4 V547.2 H681.1" fill="none" stroke="#262626" stroke-width="1.1"/>
<path d="M417.50,547.2 v-3" stroke="#262626" stroke-width="1.1"/>
<text x="417.50" y="559.70" text-anchor="middle" class="tk">0</text>
<path d="M470.10,547.2 v-3" stroke="#262626" stroke-width="1.1"/>
<text x="470.10" y="559.70" text-anchor="middle" class="tk">5</text>
<path d="M522.70,547.2 v-3" stroke="#262626" stroke-width="1.1"/>
<text x="522.70" y="559.70" text-anchor="middle" class="tk">10</text>
<path d="M575.30,547.2 v-3" stroke="#262626" stroke-width="1.1"/>
<text x="575.30" y="559.70" text-anchor="middle" class="tk">15</text>
<path d="M627.90,547.2 v-3" stroke="#262626" stroke-width="1.1"/>
<text x="627.90" y="559.70" text-anchor="middle" class="tk">20</text>
<path d="M680.50,547.2 v-3" stroke="#262626" stroke-width="1.1"/>
<text x="680.50" y="559.70" text-anchor="middle" class="tk">25</text>
<path d="M417.5,338.40 h3" stroke="#262626" stroke-width="1.1"/>
<text x="413.40" y="342.00" text-anchor="end" class="tk">6</text>
<path d="M417.5,373.20 h3" stroke="#262626" stroke-width="1.1"/>
<text x="413.40" y="376.80" text-anchor="end" class="tk">4</text>
<path d="M417.5,408.00 h3" stroke="#262626" stroke-width="1.1"/>
<text x="413.40" y="411.60" text-anchor="end" class="tk">2</text>
<path d="M417.5,442.80 h3" stroke="#262626" stroke-width="1.1"/>
<text x="413.40" y="446.40" text-anchor="end" class="tk">0</text>
<path d="M417.5,477.60 h3" stroke="#262626" stroke-width="1.1"/>
<text x="413.40" y="481.20" text-anchor="end" class="tk">-2</text>
<path d="M417.5,512.40 h3" stroke="#262626" stroke-width="1.1"/>
<text x="413.40" y="516.00" text-anchor="end" class="tk">-4</text>
<path d="M417.5,547.20 h3" stroke="#262626" stroke-width="1.1"/>
<text x="413.40" y="550.80" text-anchor="end" class="tk">-6</text>
<text x="176.00" y="238.20" text-anchor="middle" class="lb">Time (s)</text>
<text transform="translate(18.3,108.2) rotate(-90)" text-anchor="middle" class="lb">Joint 1 angle (rad)</text>
<text x="549.00" y="238.20" text-anchor="middle" class="lb">Time (s)</text>
<text transform="translate(391.6,108.2) rotate(-90)" text-anchor="middle" class="lb">Joint 2 angle (rad)</text>
<text x="176.00" y="573.00" text-anchor="middle" class="lb">Time (s)</text>
<text transform="translate(27.0,442.8) rotate(-90)" text-anchor="middle" class="lb">Joint 1 tracking error (rad)</text>
<text x="549.00" y="573.00" text-anchor="middle" class="lb">Time (s)</text>
<text transform="translate(400.0,442.8) rotate(-90)" text-anchor="middle" class="lb">Joint 2 tracking error (rad)</text>
<text x="45.10" y="337.3" class="tk">×</text>
<text x="53.10" y="336.3" class="tk">10</text>
<text x="63.10" y="331.4" class="tk" style="font-size:7.5px">-2</text>
<text x="418.10" y="337.3" class="tk">×</text>
<text x="426.10" y="336.3" class="tk">10</text>
<text x="436.10" y="331.4" class="tk" style="font-size:7.5px">-2</text>
<rect x="240.5" y="10.4" width="61.1" height="35.0" fill="#fff" stroke="#262626" stroke-width="0.9"/>
<path d="M243.1,19.7 H267.5" stroke="#0072bd" stroke-width="2"/>
<path d="M243.1,36.4 H267.8" stroke="#ff0000" stroke-width="2" stroke-dasharray="4.6 5.3"/>
<text x="269.6" y="21.7" class="lg"><tspan class="lgi">q</tspan><tspan dy="4.5" class="sub"><tspan class="lgi">d</tspan>1</tspan></text>
<text x="269.6" y="38.4" class="lg"><tspan class="lgi">q</tspan><tspan dy="4.2" class="sub">1HSM</tspan></text>
<rect x="240.5" y="345.5" width="61.1" height="18.5" fill="#fff" stroke="#262626" stroke-width="0.9"/>
<path d="M243.1,354.7 H267" stroke="#00b050" stroke-width="1.5" stroke-dasharray="1.4 0.9"/>
<text x="269.4" y="357.0" class="lg"><tspan class="lgi">e</tspan><tspan dy="4.9" class="sub">1HSM</tspan></text>
<rect x="613.5" y="10.4" width="61.1" height="35.0" fill="#fff" stroke="#262626" stroke-width="0.9"/>
<path d="M616.1,19.7 H640.5" stroke="#0072bd" stroke-width="2"/>
<path d="M616.1,36.4 H640.8" stroke="#ff0000" stroke-width="2" stroke-dasharray="4.6 5.3"/>
<text x="642.6" y="21.7" class="lg"><tspan class="lgi">q</tspan><tspan dy="4.5" class="sub"><tspan class="lgi">d</tspan>2</tspan></text>
<text x="642.6" y="38.4" class="lg"><tspan class="lgi">q</tspan><tspan dy="4.2" class="sub">2HSM</tspan></text>
<rect x="613.5" y="345.5" width="61.1" height="18.5" fill="#fff" stroke="#262626" stroke-width="0.9"/>
<path d="M616.1,354.7 H640" stroke="#00b050" stroke-width="1.5" stroke-dasharray="1.4 0.9"/>
<text x="642.4" y="357.0" class="lg"><tspan class="lgi">e</tspan><tspan dy="4.9" class="sub">2HSM</tspan></text>
<text x="177.3" y="273.2" text-anchor="middle" class="sl">(a)</text>
<text x="541.2" y="273.2" text-anchor="middle" class="sl">(b)</text>
<text x="177.1" y="608.2" text-anchor="middle" class="sl">(c)</text>
<text x="541.3" y="608.0" text-anchor="middle" class="sl">(d)</text>
<path d="M0,574.2 h2" stroke="#555" stroke-width="1"/>
</svg>
</body></html>
